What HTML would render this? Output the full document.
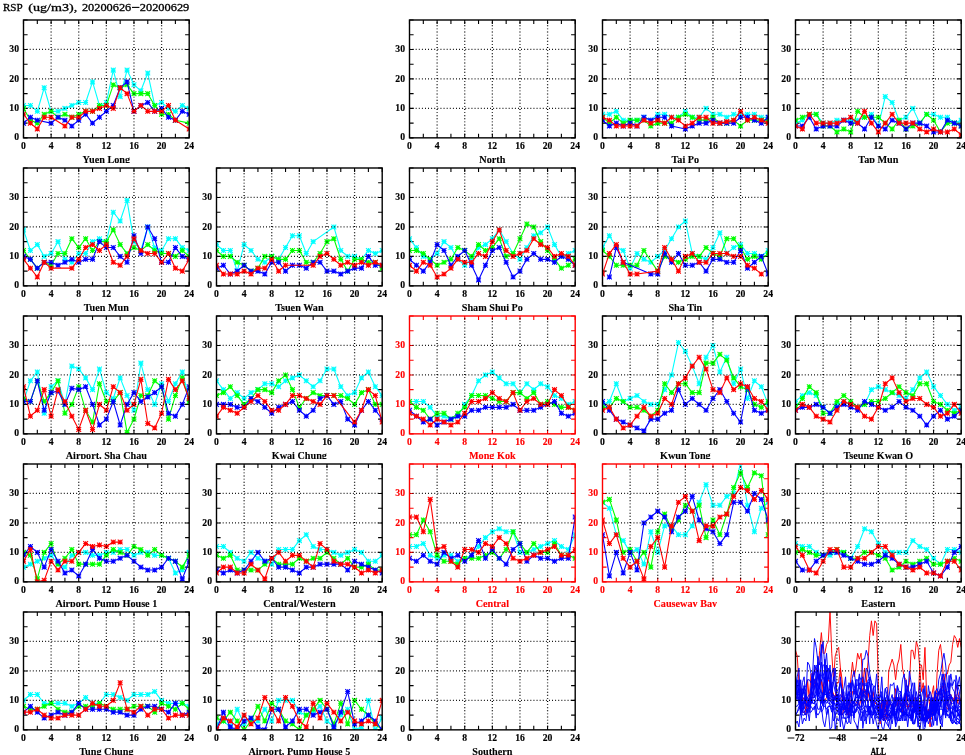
<!DOCTYPE html>
<html><head><meta charset="utf-8"><title>RSP</title>
<style>html,body{margin:0;padding:0;background:#fff;}svg{display:block;will-change:transform;font-family:"Liberation Serif",serif;}</style></head>
<body>
<svg width="965" height="755" viewBox="0 0 965 755">
<defs>
<g id="m"><path d="M-2.4,0H2.4M0,-2.4V2.4M-2.4,-2.4L2.4,2.4M-2.4,2.4L2.4,-2.4" fill="none" stroke-width="1.1"/></g>
</defs>
<rect width="965" height="755" fill="#fff"/>
<text x="2.9" y="10.7" font-size="11.2" textLength="19.7" lengthAdjust="spacingAndGlyphs" fill="#000" stroke="#000" stroke-width="0.3">RSP</text>
<text x="28.2" y="10.7" font-size="11.2" textLength="49.0" lengthAdjust="spacingAndGlyphs" fill="#000" stroke="#000" stroke-width="0.3">(ug/m3),</text>
<text x="81.9" y="10.7" font-size="11.2" textLength="49.4" lengthAdjust="spacingAndGlyphs" fill="#000" stroke="#000" stroke-width="0.3">20200626</text>
<text x="139.8" y="10.7" font-size="11.2" textLength="49.5" lengthAdjust="spacingAndGlyphs" fill="#000" stroke="#000" stroke-width="0.3">20200629</text>
<path d="M132,7.4H139.4" stroke="#000" stroke-width="1.1"/>
<g>
<clipPath id="c00"><rect x="23.5" y="20" width="165.7" height="117.85"/></clipPath>
<path d="M23.5,137.85v-4.1M23.5,20v4.1M37.31,137.85v-4.1M37.31,20v4.1M51.12,137.85v-4.1M51.12,20v4.1M64.92,137.85v-4.1M64.92,20v4.1M78.73,137.85v-4.1M78.73,20v4.1M92.54,137.85v-4.1M92.54,20v4.1M106.35,137.85v-4.1M106.35,20v4.1M120.16,137.85v-4.1M120.16,20v4.1M133.97,137.85v-4.1M133.97,20v4.1M147.77,137.85v-4.1M147.77,20v4.1M161.58,137.85v-4.1M161.58,20v4.1M175.39,137.85v-4.1M175.39,20v4.1M189.2,137.85v-4.1M189.2,20v4.1M23.5,137.85h4.1M189.2,137.85h-4.1M23.5,123.12h4.1M189.2,123.12h-4.1M23.5,108.39h4.1M189.2,108.39h-4.1M23.5,93.66h4.1M189.2,93.66h-4.1M23.5,78.92h4.1M189.2,78.92h-4.1M23.5,64.19h4.1M189.2,64.19h-4.1M23.5,49.46h4.1M189.2,49.46h-4.1M23.5,34.73h4.1M189.2,34.73h-4.1M23.5,20h4.1M189.2,20h-4.1" fill="none" stroke="#000" stroke-width="1.1"/>
<g clip-path="url(#c00)" fill="none" stroke-linejoin="round">
<g stroke="#00ffff"><path d="M23.5,105.44L30.4,105.44L37.31,111.33L44.21,87.76L51.12,111.33L58.02,111.33L64.92,108.39L71.83,105.44L78.73,102.5L85.64,102.5L92.54,81.87L99.45,105.44L106.35,102.5L113.25,70.09L120.16,96.6L127.06,70.09L133.97,84.82L140.87,90.71L147.77,73.03L154.68,105.44L161.58,102.5L168.49,108.39L175.39,111.33L182.3,105.44L189.2,108.39" stroke-width="1.1"/><use href="#m" x="23.5" y="105.44"/><use href="#m" x="30.4" y="105.44"/><use href="#m" x="37.31" y="111.33"/><use href="#m" x="44.21" y="87.76"/><use href="#m" x="51.12" y="111.33"/><use href="#m" x="58.02" y="111.33"/><use href="#m" x="64.92" y="108.39"/><use href="#m" x="71.83" y="105.44"/><use href="#m" x="78.73" y="102.5"/><use href="#m" x="85.64" y="102.5"/><use href="#m" x="92.54" y="81.87"/><use href="#m" x="99.45" y="105.44"/><use href="#m" x="106.35" y="102.5"/><use href="#m" x="113.25" y="70.09"/><use href="#m" x="120.16" y="96.6"/><use href="#m" x="127.06" y="70.09"/><use href="#m" x="133.97" y="84.82"/><use href="#m" x="140.87" y="90.71"/><use href="#m" x="147.77" y="73.03"/><use href="#m" x="154.68" y="105.44"/><use href="#m" x="161.58" y="102.5"/><use href="#m" x="168.49" y="108.39"/><use href="#m" x="175.39" y="111.33"/><use href="#m" x="182.3" y="105.44"/><use href="#m" x="189.2" y="108.39"/></g>
<g stroke="#00ff00"><path d="M23.5,108.39L30.4,120.17L37.31,123.12L44.21,114.28L51.12,111.33L58.02,117.23L64.92,114.28L71.83,117.23L78.73,114.28L85.64,111.33L92.54,111.33L99.45,105.44L106.35,105.44L113.25,84.82L120.16,87.76L127.06,84.82L133.97,93.66L140.87,93.66L147.77,93.66L154.68,105.44L161.58,114.28L168.49,114.28L175.39,120.17L189.2,123.12" stroke-width="1.1"/><use href="#m" x="23.5" y="108.39"/><use href="#m" x="30.4" y="120.17"/><use href="#m" x="37.31" y="123.12"/><use href="#m" x="44.21" y="114.28"/><use href="#m" x="51.12" y="111.33"/><use href="#m" x="58.02" y="117.23"/><use href="#m" x="64.92" y="114.28"/><use href="#m" x="71.83" y="117.23"/><use href="#m" x="78.73" y="114.28"/><use href="#m" x="85.64" y="111.33"/><use href="#m" x="92.54" y="111.33"/><use href="#m" x="99.45" y="105.44"/><use href="#m" x="106.35" y="105.44"/><use href="#m" x="113.25" y="84.82"/><use href="#m" x="120.16" y="87.76"/><use href="#m" x="127.06" y="84.82"/><use href="#m" x="133.97" y="93.66"/><use href="#m" x="140.87" y="93.66"/><use href="#m" x="147.77" y="93.66"/><use href="#m" x="154.68" y="105.44"/><use href="#m" x="161.58" y="114.28"/><use href="#m" x="168.49" y="114.28"/><use href="#m" x="175.39" y="120.17"/><use href="#m" x="189.2" y="123.12"/></g>
<g stroke="#0000ff"><path d="M23.5,123.12L30.4,117.23L37.31,120.17L51.12,123.12L58.02,117.23L64.92,120.17L71.83,126.06L78.73,120.17L85.64,114.28L92.54,123.12L99.45,117.23L106.35,111.33L113.25,105.44L120.16,87.76L127.06,81.87L133.97,111.33L140.87,105.44L147.77,102.5L154.68,111.33L161.58,108.39L168.49,117.23L175.39,120.17L182.3,111.33L189.2,114.28" stroke-width="1.1"/><use href="#m" x="23.5" y="123.12"/><use href="#m" x="30.4" y="117.23"/><use href="#m" x="37.31" y="120.17"/><use href="#m" x="51.12" y="123.12"/><use href="#m" x="58.02" y="117.23"/><use href="#m" x="64.92" y="120.17"/><use href="#m" x="71.83" y="126.06"/><use href="#m" x="78.73" y="120.17"/><use href="#m" x="85.64" y="114.28"/><use href="#m" x="92.54" y="123.12"/><use href="#m" x="99.45" y="117.23"/><use href="#m" x="106.35" y="111.33"/><use href="#m" x="113.25" y="105.44"/><use href="#m" x="120.16" y="87.76"/><use href="#m" x="127.06" y="81.87"/><use href="#m" x="133.97" y="111.33"/><use href="#m" x="140.87" y="105.44"/><use href="#m" x="147.77" y="102.5"/><use href="#m" x="154.68" y="111.33"/><use href="#m" x="161.58" y="108.39"/><use href="#m" x="168.49" y="117.23"/><use href="#m" x="175.39" y="120.17"/><use href="#m" x="182.3" y="111.33"/><use href="#m" x="189.2" y="114.28"/></g>
<g stroke="#ff0000"><path d="M23.5,114.28L30.4,123.12L37.31,129.01L44.21,117.23L51.12,117.23L64.92,126.06L71.83,117.23L78.73,117.23L85.64,111.33L92.54,111.33L99.45,108.39L106.35,105.44L113.25,108.39L120.16,87.76L127.06,93.66L133.97,111.33L140.87,105.44L147.77,111.33L154.68,111.33L161.58,111.33L168.49,105.44L175.39,120.17L189.2,129.01" stroke-width="1.1"/><use href="#m" x="23.5" y="114.28"/><use href="#m" x="30.4" y="123.12"/><use href="#m" x="37.31" y="129.01"/><use href="#m" x="44.21" y="117.23"/><use href="#m" x="51.12" y="117.23"/><use href="#m" x="64.92" y="126.06"/><use href="#m" x="71.83" y="117.23"/><use href="#m" x="78.73" y="117.23"/><use href="#m" x="85.64" y="111.33"/><use href="#m" x="92.54" y="111.33"/><use href="#m" x="99.45" y="108.39"/><use href="#m" x="106.35" y="105.44"/><use href="#m" x="113.25" y="108.39"/><use href="#m" x="120.16" y="87.76"/><use href="#m" x="127.06" y="93.66"/><use href="#m" x="133.97" y="111.33"/><use href="#m" x="140.87" y="105.44"/><use href="#m" x="147.77" y="111.33"/><use href="#m" x="154.68" y="111.33"/><use href="#m" x="161.58" y="111.33"/><use href="#m" x="168.49" y="105.44"/><use href="#m" x="175.39" y="120.17"/><use href="#m" x="189.2" y="129.01"/></g>
</g>
<path d="M51.12,137.85V20M78.73,137.85V20M106.35,137.85V20M133.97,137.85V20M161.58,137.85V20M23.5,108.39H189.2M23.5,78.92H189.2M23.5,49.46H189.2" fill="none" stroke="#000" stroke-width="1.3" stroke-dasharray="0.9 2.2"/>
<rect x="23.5" y="20" width="165.7" height="117.85" fill="none" stroke="#000" stroke-width="1.4"/>
<g fill="#000" font-size="9.7" font-weight="bold" stroke="#000" stroke-width="0.15">
<g text-anchor="middle"><text x="23.5" y="148.9">0</text><text x="51.12" y="148.9">4</text><text x="78.73" y="148.9">8</text><text x="106.35" y="148.9">12</text><text x="133.97" y="148.9">16</text><text x="161.58" y="148.9">20</text><text x="189.2" y="148.9">24</text></g>
<g text-anchor="end"><text x="19" y="140.45">0</text><text x="19" y="110.99">10</text><text x="19" y="81.52">20</text><text x="19" y="52.06">30</text></g>
<clipPath id="t00"><rect x="-6.5" y="149.85" width="225.7" height="13.15"/></clipPath><text x="106.35" y="163.05" font-size="10.2" text-anchor="middle" stroke-width="0.1" clip-path="url(#t00)">Yuen Long</text>
</g>
</g>
<g>
<clipPath id="c02"><rect x="409.5" y="20" width="165.7" height="117.85"/></clipPath>
<path d="M409.5,137.85v-4.1M409.5,20v4.1M423.31,137.85v-4.1M423.31,20v4.1M437.12,137.85v-4.1M437.12,20v4.1M450.93,137.85v-4.1M450.93,20v4.1M464.73,137.85v-4.1M464.73,20v4.1M478.54,137.85v-4.1M478.54,20v4.1M492.35,137.85v-4.1M492.35,20v4.1M506.16,137.85v-4.1M506.16,20v4.1M519.97,137.85v-4.1M519.97,20v4.1M533.77,137.85v-4.1M533.77,20v4.1M547.58,137.85v-4.1M547.58,20v4.1M561.39,137.85v-4.1M561.39,20v4.1M575.2,137.85v-4.1M575.2,20v4.1M409.5,137.85h4.1M575.2,137.85h-4.1M409.5,123.12h4.1M575.2,123.12h-4.1M409.5,108.39h4.1M575.2,108.39h-4.1M409.5,93.66h4.1M575.2,93.66h-4.1M409.5,78.92h4.1M575.2,78.92h-4.1M409.5,64.19h4.1M575.2,64.19h-4.1M409.5,49.46h4.1M575.2,49.46h-4.1M409.5,34.73h4.1M575.2,34.73h-4.1M409.5,20h4.1M575.2,20h-4.1" fill="none" stroke="#000" stroke-width="1.1"/>
<path d="M437.12,137.85V20M464.73,137.85V20M492.35,137.85V20M519.97,137.85V20M547.58,137.85V20M409.5,108.39H575.2M409.5,78.92H575.2M409.5,49.46H575.2" fill="none" stroke="#000" stroke-width="1.3" stroke-dasharray="0.9 2.2"/>
<rect x="409.5" y="20" width="165.7" height="117.85" fill="none" stroke="#000" stroke-width="1.4"/>
<g fill="#000" font-size="9.7" font-weight="bold" stroke="#000" stroke-width="0.15">
<g text-anchor="middle"><text x="409.5" y="148.9">0</text><text x="437.12" y="148.9">4</text><text x="464.73" y="148.9">8</text><text x="492.35" y="148.9">12</text><text x="519.97" y="148.9">16</text><text x="547.58" y="148.9">20</text><text x="575.2" y="148.9">24</text></g>
<g text-anchor="end"><text x="405" y="140.45">0</text><text x="405" y="110.99">10</text><text x="405" y="81.52">20</text><text x="405" y="52.06">30</text></g>
<clipPath id="t02"><rect x="379.5" y="149.85" width="225.7" height="13.15"/></clipPath><text x="492.35" y="163.05" font-size="10.2" text-anchor="middle" stroke-width="0.1" clip-path="url(#t02)">North</text>
</g>
</g>
<g>
<clipPath id="c03"><rect x="602.5" y="20" width="165.7" height="117.85"/></clipPath>
<path d="M602.5,137.85v-4.1M602.5,20v4.1M616.31,137.85v-4.1M616.31,20v4.1M630.12,137.85v-4.1M630.12,20v4.1M643.92,137.85v-4.1M643.92,20v4.1M657.73,137.85v-4.1M657.73,20v4.1M671.54,137.85v-4.1M671.54,20v4.1M685.35,137.85v-4.1M685.35,20v4.1M699.16,137.85v-4.1M699.16,20v4.1M712.97,137.85v-4.1M712.97,20v4.1M726.77,137.85v-4.1M726.77,20v4.1M740.58,137.85v-4.1M740.58,20v4.1M754.39,137.85v-4.1M754.39,20v4.1M768.2,137.85v-4.1M768.2,20v4.1M602.5,137.85h4.1M768.2,137.85h-4.1M602.5,123.12h4.1M768.2,123.12h-4.1M602.5,108.39h4.1M768.2,108.39h-4.1M602.5,93.66h4.1M768.2,93.66h-4.1M602.5,78.92h4.1M768.2,78.92h-4.1M602.5,64.19h4.1M768.2,64.19h-4.1M602.5,49.46h4.1M768.2,49.46h-4.1M602.5,34.73h4.1M768.2,34.73h-4.1M602.5,20h4.1M768.2,20h-4.1" fill="none" stroke="#000" stroke-width="1.1"/>
<g clip-path="url(#c03)" fill="none" stroke-linejoin="round">
<g stroke="#00ffff"><path d="M602.5,114.28L609.4,114.28L616.31,111.33L623.21,120.17L630.12,120.17L637.02,120.17L643.92,117.23L650.83,120.17L657.73,114.28L664.64,114.28L671.54,117.23L678.45,117.23L685.35,111.33L692.25,117.23L699.16,117.23L706.06,108.39L712.97,114.28L719.87,114.28L726.77,117.23L733.68,114.28L740.58,114.28L747.49,114.28L754.39,114.28L761.3,117.23L768.2,117.23" stroke-width="1.1"/><use href="#m" x="602.5" y="114.28"/><use href="#m" x="609.4" y="114.28"/><use href="#m" x="616.31" y="111.33"/><use href="#m" x="623.21" y="120.17"/><use href="#m" x="630.12" y="120.17"/><use href="#m" x="637.02" y="120.17"/><use href="#m" x="643.92" y="117.23"/><use href="#m" x="650.83" y="120.17"/><use href="#m" x="657.73" y="114.28"/><use href="#m" x="664.64" y="114.28"/><use href="#m" x="671.54" y="117.23"/><use href="#m" x="678.45" y="117.23"/><use href="#m" x="685.35" y="111.33"/><use href="#m" x="692.25" y="117.23"/><use href="#m" x="699.16" y="117.23"/><use href="#m" x="706.06" y="108.39"/><use href="#m" x="712.97" y="114.28"/><use href="#m" x="719.87" y="114.28"/><use href="#m" x="726.77" y="117.23"/><use href="#m" x="733.68" y="114.28"/><use href="#m" x="740.58" y="114.28"/><use href="#m" x="747.49" y="114.28"/><use href="#m" x="754.39" y="114.28"/><use href="#m" x="761.3" y="117.23"/><use href="#m" x="768.2" y="117.23"/></g>
<g stroke="#00ff00"><path d="M602.5,117.23L609.4,123.12L616.31,117.23L623.21,123.12L630.12,120.17L637.02,120.17L643.92,120.17L650.83,126.06L657.73,123.12L664.64,123.12L671.54,123.12L678.45,117.23L685.35,114.28L692.25,117.23L699.16,120.17L706.06,120.17L712.97,117.23L719.87,123.12L726.77,123.12L733.68,120.17L740.58,126.06L747.49,120.17L754.39,120.17L761.3,120.17L768.2,120.17" stroke-width="1.1"/><use href="#m" x="602.5" y="117.23"/><use href="#m" x="609.4" y="123.12"/><use href="#m" x="616.31" y="117.23"/><use href="#m" x="623.21" y="123.12"/><use href="#m" x="630.12" y="120.17"/><use href="#m" x="637.02" y="120.17"/><use href="#m" x="643.92" y="120.17"/><use href="#m" x="650.83" y="126.06"/><use href="#m" x="657.73" y="123.12"/><use href="#m" x="664.64" y="123.12"/><use href="#m" x="671.54" y="123.12"/><use href="#m" x="678.45" y="117.23"/><use href="#m" x="685.35" y="114.28"/><use href="#m" x="692.25" y="117.23"/><use href="#m" x="699.16" y="120.17"/><use href="#m" x="706.06" y="120.17"/><use href="#m" x="712.97" y="117.23"/><use href="#m" x="719.87" y="123.12"/><use href="#m" x="726.77" y="123.12"/><use href="#m" x="733.68" y="120.17"/><use href="#m" x="740.58" y="126.06"/><use href="#m" x="747.49" y="120.17"/><use href="#m" x="754.39" y="120.17"/><use href="#m" x="761.3" y="120.17"/><use href="#m" x="768.2" y="120.17"/></g>
<g stroke="#0000ff"><path d="M602.5,120.17L609.4,126.06L616.31,123.12L623.21,126.06L630.12,123.12L637.02,126.06L643.92,117.23L650.83,120.17L657.73,117.23L664.64,117.23L671.54,126.06L685.35,129.01L692.25,126.06L699.16,123.12L706.06,123.12L712.97,120.17L719.87,123.12L726.77,123.12L733.68,123.12L740.58,117.23L747.49,117.23L754.39,120.17L761.3,123.12L768.2,117.23" stroke-width="1.1"/><use href="#m" x="602.5" y="120.17"/><use href="#m" x="609.4" y="126.06"/><use href="#m" x="616.31" y="123.12"/><use href="#m" x="623.21" y="126.06"/><use href="#m" x="630.12" y="123.12"/><use href="#m" x="637.02" y="126.06"/><use href="#m" x="643.92" y="117.23"/><use href="#m" x="650.83" y="120.17"/><use href="#m" x="657.73" y="117.23"/><use href="#m" x="664.64" y="117.23"/><use href="#m" x="671.54" y="126.06"/><use href="#m" x="685.35" y="129.01"/><use href="#m" x="692.25" y="126.06"/><use href="#m" x="699.16" y="123.12"/><use href="#m" x="706.06" y="123.12"/><use href="#m" x="712.97" y="120.17"/><use href="#m" x="719.87" y="123.12"/><use href="#m" x="726.77" y="123.12"/><use href="#m" x="733.68" y="123.12"/><use href="#m" x="740.58" y="117.23"/><use href="#m" x="747.49" y="117.23"/><use href="#m" x="754.39" y="120.17"/><use href="#m" x="761.3" y="123.12"/><use href="#m" x="768.2" y="117.23"/></g>
<g stroke="#ff0000"><path d="M602.5,117.23L609.4,120.17L616.31,126.06L623.21,126.06L630.12,126.06L637.02,126.06L643.92,120.17L650.83,123.12L657.73,120.17L664.64,123.12L671.54,117.23L678.45,120.17L685.35,126.06L692.25,123.12L699.16,117.23L706.06,117.23L712.97,123.12L719.87,123.12L726.77,121.65L733.68,120.17L740.58,111.33L747.49,120.17L754.39,117.23L761.3,120.17L768.2,123.12" stroke-width="1.1"/><use href="#m" x="602.5" y="117.23"/><use href="#m" x="609.4" y="120.17"/><use href="#m" x="616.31" y="126.06"/><use href="#m" x="623.21" y="126.06"/><use href="#m" x="630.12" y="126.06"/><use href="#m" x="637.02" y="126.06"/><use href="#m" x="643.92" y="120.17"/><use href="#m" x="650.83" y="123.12"/><use href="#m" x="657.73" y="120.17"/><use href="#m" x="664.64" y="123.12"/><use href="#m" x="671.54" y="117.23"/><use href="#m" x="678.45" y="120.17"/><use href="#m" x="685.35" y="126.06"/><use href="#m" x="692.25" y="123.12"/><use href="#m" x="699.16" y="117.23"/><use href="#m" x="706.06" y="117.23"/><use href="#m" x="712.97" y="123.12"/><use href="#m" x="719.87" y="123.12"/><use href="#m" x="726.77" y="121.65"/><use href="#m" x="733.68" y="120.17"/><use href="#m" x="740.58" y="111.33"/><use href="#m" x="747.49" y="120.17"/><use href="#m" x="754.39" y="117.23"/><use href="#m" x="761.3" y="120.17"/><use href="#m" x="768.2" y="123.12"/></g>
</g>
<path d="M630.12,137.85V20M657.73,137.85V20M685.35,137.85V20M712.97,137.85V20M740.58,137.85V20M602.5,108.39H768.2M602.5,78.92H768.2M602.5,49.46H768.2" fill="none" stroke="#000" stroke-width="1.3" stroke-dasharray="0.9 2.2"/>
<rect x="602.5" y="20" width="165.7" height="117.85" fill="none" stroke="#000" stroke-width="1.4"/>
<g fill="#000" font-size="9.7" font-weight="bold" stroke="#000" stroke-width="0.15">
<g text-anchor="middle"><text x="602.5" y="148.9">0</text><text x="630.12" y="148.9">4</text><text x="657.73" y="148.9">8</text><text x="685.35" y="148.9">12</text><text x="712.97" y="148.9">16</text><text x="740.58" y="148.9">20</text><text x="768.2" y="148.9">24</text></g>
<g text-anchor="end"><text x="598" y="140.45">0</text><text x="598" y="110.99">10</text><text x="598" y="81.52">20</text><text x="598" y="52.06">30</text></g>
<clipPath id="t03"><rect x="572.5" y="149.85" width="225.7" height="13.15"/></clipPath><text x="685.35" y="163.05" font-size="10.2" text-anchor="middle" stroke-width="0.1" clip-path="url(#t03)">Tai Po</text>
</g>
</g>
<g>
<clipPath id="c04"><rect x="795.5" y="20" width="165.7" height="117.85"/></clipPath>
<path d="M795.5,137.85v-4.1M795.5,20v4.1M809.31,137.85v-4.1M809.31,20v4.1M823.12,137.85v-4.1M823.12,20v4.1M836.92,137.85v-4.1M836.92,20v4.1M850.73,137.85v-4.1M850.73,20v4.1M864.54,137.85v-4.1M864.54,20v4.1M878.35,137.85v-4.1M878.35,20v4.1M892.16,137.85v-4.1M892.16,20v4.1M905.97,137.85v-4.1M905.97,20v4.1M919.77,137.85v-4.1M919.77,20v4.1M933.58,137.85v-4.1M933.58,20v4.1M947.39,137.85v-4.1M947.39,20v4.1M961.2,137.85v-4.1M961.2,20v4.1M795.5,137.85h4.1M961.2,137.85h-4.1M795.5,123.12h4.1M961.2,123.12h-4.1M795.5,108.39h4.1M961.2,108.39h-4.1M795.5,93.66h4.1M961.2,93.66h-4.1M795.5,78.92h4.1M961.2,78.92h-4.1M795.5,64.19h4.1M961.2,64.19h-4.1M795.5,49.46h4.1M961.2,49.46h-4.1M795.5,34.73h4.1M961.2,34.73h-4.1M795.5,20h4.1M961.2,20h-4.1" fill="none" stroke="#000" stroke-width="1.1"/>
<g clip-path="url(#c04)" fill="none" stroke-linejoin="round">
<g stroke="#00ffff"><path d="M795.5,123.12L802.4,120.17L809.31,114.28L816.21,114.28L823.12,123.12L830.02,123.12L836.92,120.17L843.83,120.17L850.73,120.17L857.64,120.17L864.54,117.23L871.45,114.28L878.35,126.06L885.25,96.6L892.16,102.5L899.06,120.17L905.97,117.23L912.87,108.39L919.77,123.12L926.68,114.28L933.58,114.28L940.49,117.23L947.39,117.23L954.3,123.12L961.2,120.17" stroke-width="1.1"/><use href="#m" x="795.5" y="123.12"/><use href="#m" x="802.4" y="120.17"/><use href="#m" x="809.31" y="114.28"/><use href="#m" x="816.21" y="114.28"/><use href="#m" x="823.12" y="123.12"/><use href="#m" x="830.02" y="123.12"/><use href="#m" x="836.92" y="120.17"/><use href="#m" x="843.83" y="120.17"/><use href="#m" x="850.73" y="120.17"/><use href="#m" x="857.64" y="120.17"/><use href="#m" x="864.54" y="117.23"/><use href="#m" x="871.45" y="114.28"/><use href="#m" x="878.35" y="126.06"/><use href="#m" x="885.25" y="96.6"/><use href="#m" x="892.16" y="102.5"/><use href="#m" x="899.06" y="120.17"/><use href="#m" x="905.97" y="117.23"/><use href="#m" x="912.87" y="108.39"/><use href="#m" x="919.77" y="123.12"/><use href="#m" x="926.68" y="114.28"/><use href="#m" x="933.58" y="114.28"/><use href="#m" x="940.49" y="117.23"/><use href="#m" x="947.39" y="117.23"/><use href="#m" x="954.3" y="123.12"/><use href="#m" x="961.2" y="120.17"/></g>
<g stroke="#00ff00"><path d="M795.5,120.17L802.4,117.23L809.31,114.28L816.21,114.28L823.12,126.06L830.02,126.06L836.92,131.96L843.83,129.01L850.73,131.96L857.64,111.33L864.54,117.23L871.45,117.23L878.35,117.23L885.25,123.12L892.16,129.01L899.06,120.17L905.97,129.01L912.87,126.06L919.77,123.12L926.68,114.28L933.58,120.17L940.49,131.96L947.39,123.12L954.3,123.12L961.2,126.06" stroke-width="1.1"/><use href="#m" x="795.5" y="120.17"/><use href="#m" x="802.4" y="117.23"/><use href="#m" x="809.31" y="114.28"/><use href="#m" x="816.21" y="114.28"/><use href="#m" x="823.12" y="126.06"/><use href="#m" x="830.02" y="126.06"/><use href="#m" x="836.92" y="131.96"/><use href="#m" x="843.83" y="129.01"/><use href="#m" x="850.73" y="131.96"/><use href="#m" x="857.64" y="111.33"/><use href="#m" x="864.54" y="117.23"/><use href="#m" x="871.45" y="117.23"/><use href="#m" x="878.35" y="117.23"/><use href="#m" x="885.25" y="123.12"/><use href="#m" x="892.16" y="129.01"/><use href="#m" x="899.06" y="120.17"/><use href="#m" x="905.97" y="129.01"/><use href="#m" x="912.87" y="126.06"/><use href="#m" x="919.77" y="123.12"/><use href="#m" x="926.68" y="114.28"/><use href="#m" x="933.58" y="120.17"/><use href="#m" x="940.49" y="131.96"/><use href="#m" x="947.39" y="123.12"/><use href="#m" x="954.3" y="123.12"/><use href="#m" x="961.2" y="126.06"/></g>
<g stroke="#0000ff"><path d="M795.5,126.06L802.4,126.06L809.31,117.23L816.21,129.01L823.12,126.06L830.02,126.06L836.92,126.06L843.83,120.17L850.73,123.12L857.64,123.12L864.54,129.01L871.45,117.23L878.35,126.06L885.25,129.01L892.16,120.17L899.06,123.12L905.97,129.01L912.87,123.12L919.77,123.12L926.68,126.06L933.58,131.96L940.49,131.96L947.39,120.17L954.3,123.12L961.2,126.06" stroke-width="1.1"/><use href="#m" x="795.5" y="126.06"/><use href="#m" x="802.4" y="126.06"/><use href="#m" x="809.31" y="117.23"/><use href="#m" x="816.21" y="129.01"/><use href="#m" x="823.12" y="126.06"/><use href="#m" x="830.02" y="126.06"/><use href="#m" x="836.92" y="126.06"/><use href="#m" x="843.83" y="120.17"/><use href="#m" x="850.73" y="123.12"/><use href="#m" x="857.64" y="123.12"/><use href="#m" x="864.54" y="129.01"/><use href="#m" x="871.45" y="117.23"/><use href="#m" x="878.35" y="126.06"/><use href="#m" x="885.25" y="129.01"/><use href="#m" x="892.16" y="120.17"/><use href="#m" x="899.06" y="123.12"/><use href="#m" x="905.97" y="129.01"/><use href="#m" x="912.87" y="123.12"/><use href="#m" x="919.77" y="123.12"/><use href="#m" x="926.68" y="126.06"/><use href="#m" x="933.58" y="131.96"/><use href="#m" x="940.49" y="131.96"/><use href="#m" x="947.39" y="120.17"/><use href="#m" x="954.3" y="123.12"/><use href="#m" x="961.2" y="126.06"/></g>
<g stroke="#ff0000"><path d="M795.5,126.06L802.4,129.01L809.31,114.28L816.21,123.12L823.12,123.12L830.02,123.12L836.92,123.12L843.83,120.17L850.73,117.23L857.64,123.12L864.54,111.33L871.45,123.12L878.35,131.96L885.25,123.12L892.16,114.28L899.06,123.12L905.97,123.12L912.87,123.12L919.77,129.01L926.68,131.96L933.58,129.01L940.49,131.96L947.39,131.96L954.3,129.01L961.2,134.9" stroke-width="1.1"/><use href="#m" x="795.5" y="126.06"/><use href="#m" x="802.4" y="129.01"/><use href="#m" x="809.31" y="114.28"/><use href="#m" x="816.21" y="123.12"/><use href="#m" x="823.12" y="123.12"/><use href="#m" x="830.02" y="123.12"/><use href="#m" x="836.92" y="123.12"/><use href="#m" x="843.83" y="120.17"/><use href="#m" x="850.73" y="117.23"/><use href="#m" x="857.64" y="123.12"/><use href="#m" x="864.54" y="111.33"/><use href="#m" x="871.45" y="123.12"/><use href="#m" x="878.35" y="131.96"/><use href="#m" x="885.25" y="123.12"/><use href="#m" x="892.16" y="114.28"/><use href="#m" x="899.06" y="123.12"/><use href="#m" x="905.97" y="123.12"/><use href="#m" x="912.87" y="123.12"/><use href="#m" x="919.77" y="129.01"/><use href="#m" x="926.68" y="131.96"/><use href="#m" x="933.58" y="129.01"/><use href="#m" x="940.49" y="131.96"/><use href="#m" x="947.39" y="131.96"/><use href="#m" x="954.3" y="129.01"/><use href="#m" x="961.2" y="134.9"/></g>
</g>
<path d="M823.12,137.85V20M850.73,137.85V20M878.35,137.85V20M905.97,137.85V20M933.58,137.85V20M795.5,108.39H961.2M795.5,78.92H961.2M795.5,49.46H961.2" fill="none" stroke="#000" stroke-width="1.3" stroke-dasharray="0.9 2.2"/>
<rect x="795.5" y="20" width="165.7" height="117.85" fill="none" stroke="#000" stroke-width="1.4"/>
<g fill="#000" font-size="9.7" font-weight="bold" stroke="#000" stroke-width="0.15">
<g text-anchor="middle"><text x="795.5" y="148.9">0</text><text x="823.12" y="148.9">4</text><text x="850.73" y="148.9">8</text><text x="878.35" y="148.9">12</text><text x="905.97" y="148.9">16</text><text x="933.58" y="148.9">20</text><text x="961.2" y="148.9">24</text></g>
<g text-anchor="end"><text x="791" y="140.45">0</text><text x="791" y="110.99">10</text><text x="791" y="81.52">20</text><text x="791" y="52.06">30</text></g>
<clipPath id="t04"><rect x="765.5" y="149.85" width="225.7" height="13.15"/></clipPath><text x="878.35" y="163.05" font-size="10.2" text-anchor="middle" stroke-width="0.1" clip-path="url(#t04)">Tap Mun</text>
</g>
</g>
<g>
<clipPath id="c10"><rect x="23.5" y="168" width="165.7" height="117.85"/></clipPath>
<path d="M23.5,285.85v-4.1M23.5,168v4.1M37.31,285.85v-4.1M37.31,168v4.1M51.12,285.85v-4.1M51.12,168v4.1M64.92,285.85v-4.1M64.92,168v4.1M78.73,285.85v-4.1M78.73,168v4.1M92.54,285.85v-4.1M92.54,168v4.1M106.35,285.85v-4.1M106.35,168v4.1M120.16,285.85v-4.1M120.16,168v4.1M133.97,285.85v-4.1M133.97,168v4.1M147.77,285.85v-4.1M147.77,168v4.1M161.58,285.85v-4.1M161.58,168v4.1M175.39,285.85v-4.1M175.39,168v4.1M189.2,285.85v-4.1M189.2,168v4.1M23.5,285.85h4.1M189.2,285.85h-4.1M23.5,271.12h4.1M189.2,271.12h-4.1M23.5,256.39h4.1M189.2,256.39h-4.1M23.5,241.66h4.1M189.2,241.66h-4.1M23.5,226.93h4.1M189.2,226.93h-4.1M23.5,212.19h4.1M189.2,212.19h-4.1M23.5,197.46h4.1M189.2,197.46h-4.1M23.5,182.73h4.1M189.2,182.73h-4.1M23.5,168h4.1M189.2,168h-4.1" fill="none" stroke="#000" stroke-width="1.1"/>
<g clip-path="url(#c10)" fill="none" stroke-linejoin="round">
<g stroke="#00ffff"><path d="M23.5,229.87L30.4,250.5L37.31,244.6L44.21,256.39L51.12,253.44L58.02,241.66L64.92,259.33L71.83,262.28L78.73,253.44L85.64,253.44L92.54,241.66L99.45,238.71L106.35,241.66L113.25,212.19L120.16,221.03L127.06,200.41L133.97,241.66L140.87,250.5L147.77,226.93L154.68,247.55L161.58,250.5L168.49,238.71L175.39,238.71L182.3,247.55L189.2,250.5" stroke-width="1.1"/><use href="#m" x="23.5" y="229.87"/><use href="#m" x="30.4" y="250.5"/><use href="#m" x="37.31" y="244.6"/><use href="#m" x="44.21" y="256.39"/><use href="#m" x="51.12" y="253.44"/><use href="#m" x="58.02" y="241.66"/><use href="#m" x="64.92" y="259.33"/><use href="#m" x="71.83" y="262.28"/><use href="#m" x="78.73" y="253.44"/><use href="#m" x="85.64" y="253.44"/><use href="#m" x="92.54" y="241.66"/><use href="#m" x="99.45" y="238.71"/><use href="#m" x="106.35" y="241.66"/><use href="#m" x="113.25" y="212.19"/><use href="#m" x="120.16" y="221.03"/><use href="#m" x="127.06" y="200.41"/><use href="#m" x="133.97" y="241.66"/><use href="#m" x="140.87" y="250.5"/><use href="#m" x="147.77" y="226.93"/><use href="#m" x="154.68" y="247.55"/><use href="#m" x="161.58" y="250.5"/><use href="#m" x="168.49" y="238.71"/><use href="#m" x="175.39" y="238.71"/><use href="#m" x="182.3" y="247.55"/><use href="#m" x="189.2" y="250.5"/></g>
<g stroke="#00ff00"><path d="M23.5,250.5L30.4,259.33L37.31,268.17L44.21,262.28L51.12,265.23L58.02,253.44L64.92,253.44L71.83,238.71L78.73,247.55L85.64,238.71L92.54,250.5L99.45,241.66L106.35,241.66L113.25,229.87L120.16,244.6L127.06,253.44L133.97,247.55L140.87,250.5L147.77,244.6L154.68,250.5L161.58,253.44L168.49,253.44L175.39,256.39L182.3,250.5L189.2,256.39" stroke-width="1.1"/><use href="#m" x="23.5" y="250.5"/><use href="#m" x="30.4" y="259.33"/><use href="#m" x="37.31" y="268.17"/><use href="#m" x="44.21" y="262.28"/><use href="#m" x="51.12" y="265.23"/><use href="#m" x="58.02" y="253.44"/><use href="#m" x="64.92" y="253.44"/><use href="#m" x="71.83" y="238.71"/><use href="#m" x="78.73" y="247.55"/><use href="#m" x="85.64" y="238.71"/><use href="#m" x="92.54" y="250.5"/><use href="#m" x="99.45" y="241.66"/><use href="#m" x="106.35" y="241.66"/><use href="#m" x="113.25" y="229.87"/><use href="#m" x="120.16" y="244.6"/><use href="#m" x="127.06" y="253.44"/><use href="#m" x="133.97" y="247.55"/><use href="#m" x="140.87" y="250.5"/><use href="#m" x="147.77" y="244.6"/><use href="#m" x="154.68" y="250.5"/><use href="#m" x="161.58" y="253.44"/><use href="#m" x="168.49" y="253.44"/><use href="#m" x="175.39" y="256.39"/><use href="#m" x="182.3" y="250.5"/><use href="#m" x="189.2" y="256.39"/></g>
<g stroke="#0000ff"><path d="M23.5,256.39L30.4,259.33L37.31,268.17L44.21,262.28L51.12,262.28L58.02,265.23L64.92,262.28L71.83,259.33L78.73,262.28L85.64,259.33L92.54,259.33L99.45,241.66L106.35,247.55L113.25,247.55L120.16,256.39L127.06,262.28L133.97,235.76L140.87,253.44L147.77,226.93L154.68,238.71L161.58,262.28L168.49,262.28L175.39,247.55L182.3,256.39L189.2,259.33" stroke-width="1.1"/><use href="#m" x="23.5" y="256.39"/><use href="#m" x="30.4" y="259.33"/><use href="#m" x="37.31" y="268.17"/><use href="#m" x="44.21" y="262.28"/><use href="#m" x="51.12" y="262.28"/><use href="#m" x="58.02" y="265.23"/><use href="#m" x="64.92" y="262.28"/><use href="#m" x="71.83" y="259.33"/><use href="#m" x="78.73" y="262.28"/><use href="#m" x="85.64" y="259.33"/><use href="#m" x="92.54" y="259.33"/><use href="#m" x="99.45" y="241.66"/><use href="#m" x="106.35" y="247.55"/><use href="#m" x="113.25" y="247.55"/><use href="#m" x="120.16" y="256.39"/><use href="#m" x="127.06" y="262.28"/><use href="#m" x="133.97" y="235.76"/><use href="#m" x="140.87" y="253.44"/><use href="#m" x="147.77" y="226.93"/><use href="#m" x="154.68" y="238.71"/><use href="#m" x="161.58" y="262.28"/><use href="#m" x="168.49" y="262.28"/><use href="#m" x="175.39" y="247.55"/><use href="#m" x="182.3" y="256.39"/><use href="#m" x="189.2" y="259.33"/></g>
<g stroke="#ff0000"><path d="M23.5,259.33L30.4,268.17L37.31,277.01L44.21,262.28L51.12,268.17L71.83,268.17L78.73,259.33L85.64,247.55L92.54,244.6L99.45,250.5L106.35,244.6L113.25,262.28L120.16,265.23L127.06,256.39L133.97,238.71L140.87,250.5L147.77,253.44L154.68,253.44L161.58,262.28L168.49,253.44L175.39,268.17L182.3,271.12L189.2,259.33" stroke-width="1.1"/><use href="#m" x="23.5" y="259.33"/><use href="#m" x="30.4" y="268.17"/><use href="#m" x="37.31" y="277.01"/><use href="#m" x="44.21" y="262.28"/><use href="#m" x="51.12" y="268.17"/><use href="#m" x="71.83" y="268.17"/><use href="#m" x="78.73" y="259.33"/><use href="#m" x="85.64" y="247.55"/><use href="#m" x="92.54" y="244.6"/><use href="#m" x="99.45" y="250.5"/><use href="#m" x="106.35" y="244.6"/><use href="#m" x="113.25" y="262.28"/><use href="#m" x="120.16" y="265.23"/><use href="#m" x="127.06" y="256.39"/><use href="#m" x="133.97" y="238.71"/><use href="#m" x="140.87" y="250.5"/><use href="#m" x="147.77" y="253.44"/><use href="#m" x="154.68" y="253.44"/><use href="#m" x="161.58" y="262.28"/><use href="#m" x="168.49" y="253.44"/><use href="#m" x="175.39" y="268.17"/><use href="#m" x="182.3" y="271.12"/><use href="#m" x="189.2" y="259.33"/></g>
</g>
<path d="M51.12,285.85V168M78.73,285.85V168M106.35,285.85V168M133.97,285.85V168M161.58,285.85V168M23.5,256.39H189.2M23.5,226.93H189.2M23.5,197.46H189.2" fill="none" stroke="#000" stroke-width="1.3" stroke-dasharray="0.9 2.2"/>
<rect x="23.5" y="168" width="165.7" height="117.85" fill="none" stroke="#000" stroke-width="1.4"/>
<g fill="#000" font-size="9.7" font-weight="bold" stroke="#000" stroke-width="0.15">
<g text-anchor="middle"><text x="23.5" y="296.9">0</text><text x="51.12" y="296.9">4</text><text x="78.73" y="296.9">8</text><text x="106.35" y="296.9">12</text><text x="133.97" y="296.9">16</text><text x="161.58" y="296.9">20</text><text x="189.2" y="296.9">24</text></g>
<g text-anchor="end"><text x="19" y="288.45">0</text><text x="19" y="258.99">10</text><text x="19" y="229.53">20</text><text x="19" y="200.06">30</text></g>
<clipPath id="t10"><rect x="-6.5" y="297.85" width="225.7" height="13.15"/></clipPath><text x="106.35" y="311.05" font-size="10.2" text-anchor="middle" stroke-width="0.1" clip-path="url(#t10)">Tuen Mun</text>
</g>
</g>
<g>
<clipPath id="c11"><rect x="216.5" y="168" width="165.7" height="117.85"/></clipPath>
<path d="M216.5,285.85v-4.1M216.5,168v4.1M230.31,285.85v-4.1M230.31,168v4.1M244.12,285.85v-4.1M244.12,168v4.1M257.93,285.85v-4.1M257.93,168v4.1M271.73,285.85v-4.1M271.73,168v4.1M285.54,285.85v-4.1M285.54,168v4.1M299.35,285.85v-4.1M299.35,168v4.1M313.16,285.85v-4.1M313.16,168v4.1M326.97,285.85v-4.1M326.97,168v4.1M340.77,285.85v-4.1M340.77,168v4.1M354.58,285.85v-4.1M354.58,168v4.1M368.39,285.85v-4.1M368.39,168v4.1M382.2,285.85v-4.1M382.2,168v4.1M216.5,285.85h4.1M382.2,285.85h-4.1M216.5,271.12h4.1M382.2,271.12h-4.1M216.5,256.39h4.1M382.2,256.39h-4.1M216.5,241.66h4.1M382.2,241.66h-4.1M216.5,226.93h4.1M382.2,226.93h-4.1M216.5,212.19h4.1M382.2,212.19h-4.1M216.5,197.46h4.1M382.2,197.46h-4.1M216.5,182.73h4.1M382.2,182.73h-4.1M216.5,168h4.1M382.2,168h-4.1" fill="none" stroke="#000" stroke-width="1.1"/>
<g clip-path="url(#c11)" fill="none" stroke-linejoin="round">
<g stroke="#00ffff"><path d="M216.5,244.6L223.4,250.5L230.31,250.5L237.21,271.12L244.12,244.6L251.02,250.5L257.93,259.33L264.83,262.28L271.73,256.39L278.64,259.33L285.54,247.55L292.45,235.76L299.35,235.76L306.25,253.44L313.16,241.66L333.87,226.93L340.77,250.5L347.68,256.39L354.58,256.39L361.49,259.33L368.39,250.5L375.3,253.44L382.2,250.5" stroke-width="1.1"/><use href="#m" x="216.5" y="244.6"/><use href="#m" x="223.4" y="250.5"/><use href="#m" x="230.31" y="250.5"/><use href="#m" x="237.21" y="271.12"/><use href="#m" x="244.12" y="244.6"/><use href="#m" x="251.02" y="250.5"/><use href="#m" x="257.93" y="259.33"/><use href="#m" x="264.83" y="262.28"/><use href="#m" x="271.73" y="256.39"/><use href="#m" x="278.64" y="259.33"/><use href="#m" x="285.54" y="247.55"/><use href="#m" x="292.45" y="235.76"/><use href="#m" x="299.35" y="235.76"/><use href="#m" x="306.25" y="253.44"/><use href="#m" x="313.16" y="241.66"/><use href="#m" x="333.87" y="226.93"/><use href="#m" x="340.77" y="250.5"/><use href="#m" x="347.68" y="256.39"/><use href="#m" x="354.58" y="256.39"/><use href="#m" x="361.49" y="259.33"/><use href="#m" x="368.39" y="250.5"/><use href="#m" x="375.3" y="253.44"/><use href="#m" x="382.2" y="250.5"/></g>
<g stroke="#00ff00"><path d="M216.5,250.5L223.4,256.39L230.31,256.39L237.21,262.28L244.12,265.23L251.02,271.12L257.93,268.17L264.83,256.39L271.73,256.39L278.64,259.33L285.54,259.33L292.45,250.5L299.35,250.5L306.25,262.28L313.16,262.28L320.06,253.44L326.97,241.66L333.87,238.71L340.77,259.33L347.68,271.12L354.58,259.33L361.49,259.33L368.39,262.28L375.3,262.28L382.2,268.17" stroke-width="1.1"/><use href="#m" x="216.5" y="250.5"/><use href="#m" x="223.4" y="256.39"/><use href="#m" x="230.31" y="256.39"/><use href="#m" x="237.21" y="262.28"/><use href="#m" x="244.12" y="265.23"/><use href="#m" x="251.02" y="271.12"/><use href="#m" x="257.93" y="268.17"/><use href="#m" x="264.83" y="256.39"/><use href="#m" x="271.73" y="256.39"/><use href="#m" x="278.64" y="259.33"/><use href="#m" x="285.54" y="259.33"/><use href="#m" x="292.45" y="250.5"/><use href="#m" x="299.35" y="250.5"/><use href="#m" x="306.25" y="262.28"/><use href="#m" x="313.16" y="262.28"/><use href="#m" x="320.06" y="253.44"/><use href="#m" x="326.97" y="241.66"/><use href="#m" x="333.87" y="238.71"/><use href="#m" x="340.77" y="259.33"/><use href="#m" x="347.68" y="271.12"/><use href="#m" x="354.58" y="259.33"/><use href="#m" x="361.49" y="259.33"/><use href="#m" x="368.39" y="262.28"/><use href="#m" x="375.3" y="262.28"/><use href="#m" x="382.2" y="268.17"/></g>
<g stroke="#0000ff"><path d="M216.5,268.17L223.4,265.23L230.31,274.06L237.21,271.12L244.12,265.23L251.02,271.12L257.93,271.12L264.83,274.06L271.73,262.28L278.64,262.28L285.54,271.12L292.45,265.23L299.35,265.23L306.25,268.17L313.16,262.28L320.06,262.28L326.97,271.12L333.87,271.12L340.77,274.06L347.68,271.12L354.58,268.17L361.49,268.17L368.39,256.39L375.3,265.23L382.2,265.23" stroke-width="1.1"/><use href="#m" x="216.5" y="268.17"/><use href="#m" x="223.4" y="265.23"/><use href="#m" x="230.31" y="274.06"/><use href="#m" x="237.21" y="271.12"/><use href="#m" x="244.12" y="265.23"/><use href="#m" x="251.02" y="271.12"/><use href="#m" x="257.93" y="271.12"/><use href="#m" x="264.83" y="274.06"/><use href="#m" x="271.73" y="262.28"/><use href="#m" x="278.64" y="262.28"/><use href="#m" x="285.54" y="271.12"/><use href="#m" x="292.45" y="265.23"/><use href="#m" x="299.35" y="265.23"/><use href="#m" x="306.25" y="268.17"/><use href="#m" x="313.16" y="262.28"/><use href="#m" x="320.06" y="262.28"/><use href="#m" x="326.97" y="271.12"/><use href="#m" x="333.87" y="271.12"/><use href="#m" x="340.77" y="274.06"/><use href="#m" x="347.68" y="271.12"/><use href="#m" x="354.58" y="268.17"/><use href="#m" x="361.49" y="268.17"/><use href="#m" x="368.39" y="256.39"/><use href="#m" x="375.3" y="265.23"/><use href="#m" x="382.2" y="265.23"/></g>
<g stroke="#ff0000"><path d="M216.5,265.23L223.4,274.06L230.31,274.06L237.21,274.06L244.12,271.12L251.02,274.06L257.93,268.17L264.83,268.17L271.73,259.33L278.64,271.12L285.54,265.23L313.16,265.23L320.06,256.39L326.97,253.44L333.87,259.33L340.77,265.23L347.68,262.28L354.58,265.23L361.49,262.28L368.39,265.23L375.3,262.28L382.2,265.23" stroke-width="1.1"/><use href="#m" x="216.5" y="265.23"/><use href="#m" x="223.4" y="274.06"/><use href="#m" x="230.31" y="274.06"/><use href="#m" x="237.21" y="274.06"/><use href="#m" x="244.12" y="271.12"/><use href="#m" x="251.02" y="274.06"/><use href="#m" x="257.93" y="268.17"/><use href="#m" x="264.83" y="268.17"/><use href="#m" x="271.73" y="259.33"/><use href="#m" x="278.64" y="271.12"/><use href="#m" x="285.54" y="265.23"/><use href="#m" x="313.16" y="265.23"/><use href="#m" x="320.06" y="256.39"/><use href="#m" x="326.97" y="253.44"/><use href="#m" x="333.87" y="259.33"/><use href="#m" x="340.77" y="265.23"/><use href="#m" x="347.68" y="262.28"/><use href="#m" x="354.58" y="265.23"/><use href="#m" x="361.49" y="262.28"/><use href="#m" x="368.39" y="265.23"/><use href="#m" x="375.3" y="262.28"/><use href="#m" x="382.2" y="265.23"/></g>
</g>
<path d="M244.12,285.85V168M271.73,285.85V168M299.35,285.85V168M326.97,285.85V168M354.58,285.85V168M216.5,256.39H382.2M216.5,226.93H382.2M216.5,197.46H382.2" fill="none" stroke="#000" stroke-width="1.3" stroke-dasharray="0.9 2.2"/>
<rect x="216.5" y="168" width="165.7" height="117.85" fill="none" stroke="#000" stroke-width="1.4"/>
<g fill="#000" font-size="9.7" font-weight="bold" stroke="#000" stroke-width="0.15">
<g text-anchor="middle"><text x="216.5" y="296.9">0</text><text x="244.12" y="296.9">4</text><text x="271.73" y="296.9">8</text><text x="299.35" y="296.9">12</text><text x="326.97" y="296.9">16</text><text x="354.58" y="296.9">20</text><text x="382.2" y="296.9">24</text></g>
<g text-anchor="end"><text x="212" y="288.45">0</text><text x="212" y="258.99">10</text><text x="212" y="229.53">20</text><text x="212" y="200.06">30</text></g>
<clipPath id="t11"><rect x="186.5" y="297.85" width="225.7" height="13.15"/></clipPath><text x="299.35" y="311.05" font-size="10.2" text-anchor="middle" stroke-width="0.1" clip-path="url(#t11)">Tsuen Wan</text>
</g>
</g>
<g>
<clipPath id="c12"><rect x="409.5" y="168" width="165.7" height="117.85"/></clipPath>
<path d="M409.5,285.85v-4.1M409.5,168v4.1M423.31,285.85v-4.1M423.31,168v4.1M437.12,285.85v-4.1M437.12,168v4.1M450.93,285.85v-4.1M450.93,168v4.1M464.73,285.85v-4.1M464.73,168v4.1M478.54,285.85v-4.1M478.54,168v4.1M492.35,285.85v-4.1M492.35,168v4.1M506.16,285.85v-4.1M506.16,168v4.1M519.97,285.85v-4.1M519.97,168v4.1M533.77,285.85v-4.1M533.77,168v4.1M547.58,285.85v-4.1M547.58,168v4.1M561.39,285.85v-4.1M561.39,168v4.1M575.2,285.85v-4.1M575.2,168v4.1M409.5,285.85h4.1M575.2,285.85h-4.1M409.5,271.12h4.1M575.2,271.12h-4.1M409.5,256.39h4.1M575.2,256.39h-4.1M409.5,241.66h4.1M575.2,241.66h-4.1M409.5,226.93h4.1M575.2,226.93h-4.1M409.5,212.19h4.1M575.2,212.19h-4.1M409.5,197.46h4.1M575.2,197.46h-4.1M409.5,182.73h4.1M575.2,182.73h-4.1M409.5,168h4.1M575.2,168h-4.1" fill="none" stroke="#000" stroke-width="1.1"/>
<g clip-path="url(#c12)" fill="none" stroke-linejoin="round">
<g stroke="#00ffff"><path d="M409.5,238.71L416.4,247.55L423.31,256.39L430.21,259.33L437.12,253.44L444.02,241.66L450.93,247.55L457.83,259.33L464.73,265.23L471.64,259.33L478.54,247.55L485.45,244.6L492.35,238.71L499.25,229.87L506.16,241.66L513.06,253.44L519.97,259.33L526.87,247.55L533.77,235.76L540.68,232.82L547.58,226.93L554.49,244.6L561.39,256.39L568.3,253.44L575.2,250.5" stroke-width="1.1"/><use href="#m" x="409.5" y="238.71"/><use href="#m" x="416.4" y="247.55"/><use href="#m" x="423.31" y="256.39"/><use href="#m" x="430.21" y="259.33"/><use href="#m" x="437.12" y="253.44"/><use href="#m" x="444.02" y="241.66"/><use href="#m" x="450.93" y="247.55"/><use href="#m" x="457.83" y="259.33"/><use href="#m" x="464.73" y="265.23"/><use href="#m" x="471.64" y="259.33"/><use href="#m" x="478.54" y="247.55"/><use href="#m" x="485.45" y="244.6"/><use href="#m" x="492.35" y="238.71"/><use href="#m" x="499.25" y="229.87"/><use href="#m" x="506.16" y="241.66"/><use href="#m" x="513.06" y="253.44"/><use href="#m" x="519.97" y="259.33"/><use href="#m" x="526.87" y="247.55"/><use href="#m" x="533.77" y="235.76"/><use href="#m" x="540.68" y="232.82"/><use href="#m" x="547.58" y="226.93"/><use href="#m" x="554.49" y="244.6"/><use href="#m" x="561.39" y="256.39"/><use href="#m" x="568.3" y="253.44"/><use href="#m" x="575.2" y="250.5"/></g>
<g stroke="#00ff00"><path d="M409.5,250.5L416.4,250.5L423.31,253.44L430.21,259.33L437.12,265.23L444.02,262.28L450.93,259.33L457.83,247.55L464.73,250.5L471.64,256.39L478.54,244.6L485.45,250.5L492.35,247.55L499.25,238.71L506.16,256.39L513.06,253.44L519.97,238.71L526.87,223.98L533.77,226.93L540.68,241.66L547.58,250.5L554.49,259.33L561.39,268.17L568.3,265.23L575.2,259.33" stroke-width="1.1"/><use href="#m" x="409.5" y="250.5"/><use href="#m" x="416.4" y="250.5"/><use href="#m" x="423.31" y="253.44"/><use href="#m" x="430.21" y="259.33"/><use href="#m" x="437.12" y="265.23"/><use href="#m" x="444.02" y="262.28"/><use href="#m" x="450.93" y="259.33"/><use href="#m" x="457.83" y="247.55"/><use href="#m" x="464.73" y="250.5"/><use href="#m" x="471.64" y="256.39"/><use href="#m" x="478.54" y="244.6"/><use href="#m" x="485.45" y="250.5"/><use href="#m" x="492.35" y="247.55"/><use href="#m" x="499.25" y="238.71"/><use href="#m" x="506.16" y="256.39"/><use href="#m" x="513.06" y="253.44"/><use href="#m" x="519.97" y="238.71"/><use href="#m" x="526.87" y="223.98"/><use href="#m" x="533.77" y="226.93"/><use href="#m" x="540.68" y="241.66"/><use href="#m" x="547.58" y="250.5"/><use href="#m" x="554.49" y="259.33"/><use href="#m" x="561.39" y="268.17"/><use href="#m" x="568.3" y="265.23"/><use href="#m" x="575.2" y="259.33"/></g>
<g stroke="#0000ff"><path d="M409.5,259.33L416.4,265.23L423.31,271.12L430.21,262.28L437.12,244.6L444.02,250.5L450.93,265.23L457.83,256.39L464.73,250.5L471.64,265.23L478.54,279.96L485.45,265.23L492.35,250.5L499.25,247.55L506.16,262.28L513.06,277.01L519.97,271.12L526.87,259.33L533.77,253.44L540.68,259.33L547.58,259.33L554.49,262.28L561.39,256.39L568.3,259.33L575.2,265.23" stroke-width="1.1"/><use href="#m" x="409.5" y="259.33"/><use href="#m" x="416.4" y="265.23"/><use href="#m" x="423.31" y="271.12"/><use href="#m" x="430.21" y="262.28"/><use href="#m" x="437.12" y="244.6"/><use href="#m" x="444.02" y="250.5"/><use href="#m" x="450.93" y="265.23"/><use href="#m" x="457.83" y="256.39"/><use href="#m" x="464.73" y="250.5"/><use href="#m" x="471.64" y="265.23"/><use href="#m" x="478.54" y="279.96"/><use href="#m" x="485.45" y="265.23"/><use href="#m" x="492.35" y="250.5"/><use href="#m" x="499.25" y="247.55"/><use href="#m" x="506.16" y="262.28"/><use href="#m" x="513.06" y="277.01"/><use href="#m" x="519.97" y="271.12"/><use href="#m" x="526.87" y="259.33"/><use href="#m" x="533.77" y="253.44"/><use href="#m" x="540.68" y="259.33"/><use href="#m" x="547.58" y="259.33"/><use href="#m" x="554.49" y="262.28"/><use href="#m" x="561.39" y="256.39"/><use href="#m" x="568.3" y="259.33"/><use href="#m" x="575.2" y="265.23"/></g>
<g stroke="#ff0000"><path d="M409.5,265.23L416.4,271.12L423.31,262.28L430.21,265.23L437.12,277.01L444.02,274.06L450.93,268.17L457.83,259.33L464.73,262.28L471.64,262.28L478.54,253.44L485.45,256.39L492.35,241.66L499.25,229.87L506.16,250.5L513.06,256.39L519.97,253.44L526.87,250.5L533.77,238.71L540.68,244.6L547.58,247.55L554.49,256.39L561.39,253.44L568.3,256.39L575.2,265.23" stroke-width="1.1"/><use href="#m" x="409.5" y="265.23"/><use href="#m" x="416.4" y="271.12"/><use href="#m" x="423.31" y="262.28"/><use href="#m" x="430.21" y="265.23"/><use href="#m" x="437.12" y="277.01"/><use href="#m" x="444.02" y="274.06"/><use href="#m" x="450.93" y="268.17"/><use href="#m" x="457.83" y="259.33"/><use href="#m" x="464.73" y="262.28"/><use href="#m" x="471.64" y="262.28"/><use href="#m" x="478.54" y="253.44"/><use href="#m" x="485.45" y="256.39"/><use href="#m" x="492.35" y="241.66"/><use href="#m" x="499.25" y="229.87"/><use href="#m" x="506.16" y="250.5"/><use href="#m" x="513.06" y="256.39"/><use href="#m" x="519.97" y="253.44"/><use href="#m" x="526.87" y="250.5"/><use href="#m" x="533.77" y="238.71"/><use href="#m" x="540.68" y="244.6"/><use href="#m" x="547.58" y="247.55"/><use href="#m" x="554.49" y="256.39"/><use href="#m" x="561.39" y="253.44"/><use href="#m" x="568.3" y="256.39"/><use href="#m" x="575.2" y="265.23"/></g>
</g>
<path d="M437.12,285.85V168M464.73,285.85V168M492.35,285.85V168M519.97,285.85V168M547.58,285.85V168M409.5,256.39H575.2M409.5,226.93H575.2M409.5,197.46H575.2" fill="none" stroke="#000" stroke-width="1.3" stroke-dasharray="0.9 2.2"/>
<rect x="409.5" y="168" width="165.7" height="117.85" fill="none" stroke="#000" stroke-width="1.4"/>
<g fill="#000" font-size="9.7" font-weight="bold" stroke="#000" stroke-width="0.15">
<g text-anchor="middle"><text x="409.5" y="296.9">0</text><text x="437.12" y="296.9">4</text><text x="464.73" y="296.9">8</text><text x="492.35" y="296.9">12</text><text x="519.97" y="296.9">16</text><text x="547.58" y="296.9">20</text><text x="575.2" y="296.9">24</text></g>
<g text-anchor="end"><text x="405" y="288.45">0</text><text x="405" y="258.99">10</text><text x="405" y="229.53">20</text><text x="405" y="200.06">30</text></g>
<clipPath id="t12"><rect x="379.5" y="297.85" width="225.7" height="13.15"/></clipPath><text x="492.35" y="311.05" font-size="10.2" text-anchor="middle" stroke-width="0.1" clip-path="url(#t12)">Sham Shui Po</text>
</g>
</g>
<g>
<clipPath id="c13"><rect x="602.5" y="168" width="165.7" height="117.85"/></clipPath>
<path d="M602.5,285.85v-4.1M602.5,168v4.1M616.31,285.85v-4.1M616.31,168v4.1M630.12,285.85v-4.1M630.12,168v4.1M643.92,285.85v-4.1M643.92,168v4.1M657.73,285.85v-4.1M657.73,168v4.1M671.54,285.85v-4.1M671.54,168v4.1M685.35,285.85v-4.1M685.35,168v4.1M699.16,285.85v-4.1M699.16,168v4.1M712.97,285.85v-4.1M712.97,168v4.1M726.77,285.85v-4.1M726.77,168v4.1M740.58,285.85v-4.1M740.58,168v4.1M754.39,285.85v-4.1M754.39,168v4.1M768.2,285.85v-4.1M768.2,168v4.1M602.5,285.85h4.1M768.2,285.85h-4.1M602.5,271.12h4.1M768.2,271.12h-4.1M602.5,256.39h4.1M768.2,256.39h-4.1M602.5,241.66h4.1M768.2,241.66h-4.1M602.5,226.93h4.1M768.2,226.93h-4.1M602.5,212.19h4.1M768.2,212.19h-4.1M602.5,197.46h4.1M768.2,197.46h-4.1M602.5,182.73h4.1M768.2,182.73h-4.1M602.5,168h4.1M768.2,168h-4.1" fill="none" stroke="#000" stroke-width="1.1"/>
<g clip-path="url(#c13)" fill="none" stroke-linejoin="round">
<g stroke="#00ffff"><path d="M602.5,247.55L609.4,235.76L616.31,247.55L623.21,250.5L630.12,268.17L637.02,253.44L643.92,259.33L650.83,262.28L657.73,256.39L664.64,250.5L671.54,238.71L678.45,226.93L685.35,221.03L692.25,253.44L699.16,256.39L706.06,259.33L712.97,247.55L719.87,232.82L726.77,253.44L733.68,247.55L740.58,244.6L747.49,253.44L754.39,253.44L761.3,256.39L768.2,250.5" stroke-width="1.1"/><use href="#m" x="602.5" y="247.55"/><use href="#m" x="609.4" y="235.76"/><use href="#m" x="616.31" y="247.55"/><use href="#m" x="623.21" y="250.5"/><use href="#m" x="630.12" y="268.17"/><use href="#m" x="637.02" y="253.44"/><use href="#m" x="643.92" y="259.33"/><use href="#m" x="650.83" y="262.28"/><use href="#m" x="657.73" y="256.39"/><use href="#m" x="664.64" y="250.5"/><use href="#m" x="671.54" y="238.71"/><use href="#m" x="678.45" y="226.93"/><use href="#m" x="685.35" y="221.03"/><use href="#m" x="692.25" y="253.44"/><use href="#m" x="699.16" y="256.39"/><use href="#m" x="706.06" y="259.33"/><use href="#m" x="712.97" y="247.55"/><use href="#m" x="719.87" y="232.82"/><use href="#m" x="726.77" y="253.44"/><use href="#m" x="733.68" y="247.55"/><use href="#m" x="740.58" y="244.6"/><use href="#m" x="747.49" y="253.44"/><use href="#m" x="754.39" y="253.44"/><use href="#m" x="761.3" y="256.39"/><use href="#m" x="768.2" y="250.5"/></g>
<g stroke="#00ff00"><path d="M602.5,250.5L609.4,256.39L616.31,265.23L623.21,265.23L630.12,265.23L637.02,265.23L643.92,250.5L657.73,271.12L664.64,256.39L671.54,259.33L678.45,262.28L685.35,259.33L692.25,256.39L699.16,256.39L706.06,247.55L712.97,253.44L719.87,256.39L726.77,238.71L733.68,238.71L740.58,247.55L747.49,259.33L754.39,256.39L761.3,259.33L768.2,253.44" stroke-width="1.1"/><use href="#m" x="602.5" y="250.5"/><use href="#m" x="609.4" y="256.39"/><use href="#m" x="616.31" y="265.23"/><use href="#m" x="623.21" y="265.23"/><use href="#m" x="630.12" y="265.23"/><use href="#m" x="637.02" y="265.23"/><use href="#m" x="643.92" y="250.5"/><use href="#m" x="657.73" y="271.12"/><use href="#m" x="664.64" y="256.39"/><use href="#m" x="671.54" y="259.33"/><use href="#m" x="678.45" y="262.28"/><use href="#m" x="685.35" y="259.33"/><use href="#m" x="692.25" y="256.39"/><use href="#m" x="699.16" y="256.39"/><use href="#m" x="706.06" y="247.55"/><use href="#m" x="712.97" y="253.44"/><use href="#m" x="719.87" y="256.39"/><use href="#m" x="726.77" y="238.71"/><use href="#m" x="733.68" y="238.71"/><use href="#m" x="740.58" y="247.55"/><use href="#m" x="747.49" y="259.33"/><use href="#m" x="754.39" y="256.39"/><use href="#m" x="761.3" y="259.33"/><use href="#m" x="768.2" y="253.44"/></g>
<g stroke="#0000ff"><path d="M609.4,277.01L616.31,247.55L623.21,262.28L650.83,274.06L657.73,274.06L664.64,253.44L671.54,262.28L678.45,253.44L685.35,265.23L692.25,265.23L699.16,262.28L706.06,271.12L712.97,259.33L719.87,259.33L726.77,262.28L733.68,262.28L740.58,250.5L747.49,268.17L754.39,262.28L761.3,256.39L768.2,274.06" stroke-width="1.1"/><use href="#m" x="609.4" y="277.01"/><use href="#m" x="616.31" y="247.55"/><use href="#m" x="623.21" y="262.28"/><use href="#m" x="650.83" y="274.06"/><use href="#m" x="657.73" y="274.06"/><use href="#m" x="664.64" y="253.44"/><use href="#m" x="671.54" y="262.28"/><use href="#m" x="678.45" y="253.44"/><use href="#m" x="685.35" y="265.23"/><use href="#m" x="692.25" y="265.23"/><use href="#m" x="699.16" y="262.28"/><use href="#m" x="706.06" y="271.12"/><use href="#m" x="712.97" y="259.33"/><use href="#m" x="719.87" y="259.33"/><use href="#m" x="726.77" y="262.28"/><use href="#m" x="733.68" y="262.28"/><use href="#m" x="740.58" y="250.5"/><use href="#m" x="747.49" y="268.17"/><use href="#m" x="754.39" y="262.28"/><use href="#m" x="761.3" y="256.39"/><use href="#m" x="768.2" y="274.06"/></g>
<g stroke="#ff0000"><path d="M602.5,274.06L609.4,253.44L616.31,244.6L623.21,262.28L630.12,274.06L637.02,274.06L657.73,271.12L664.64,247.55L671.54,259.33L678.45,271.12L685.35,256.39L692.25,253.44L699.16,262.28L706.06,262.28L712.97,253.44L719.87,253.44L726.77,253.44L733.68,256.39L740.58,256.39L747.49,265.23L754.39,268.17L761.3,274.06" stroke-width="1.1"/><use href="#m" x="602.5" y="274.06"/><use href="#m" x="609.4" y="253.44"/><use href="#m" x="616.31" y="244.6"/><use href="#m" x="623.21" y="262.28"/><use href="#m" x="630.12" y="274.06"/><use href="#m" x="637.02" y="274.06"/><use href="#m" x="657.73" y="271.12"/><use href="#m" x="664.64" y="247.55"/><use href="#m" x="671.54" y="259.33"/><use href="#m" x="678.45" y="271.12"/><use href="#m" x="685.35" y="256.39"/><use href="#m" x="692.25" y="253.44"/><use href="#m" x="699.16" y="262.28"/><use href="#m" x="706.06" y="262.28"/><use href="#m" x="712.97" y="253.44"/><use href="#m" x="719.87" y="253.44"/><use href="#m" x="726.77" y="253.44"/><use href="#m" x="733.68" y="256.39"/><use href="#m" x="740.58" y="256.39"/><use href="#m" x="747.49" y="265.23"/><use href="#m" x="754.39" y="268.17"/><use href="#m" x="761.3" y="274.06"/></g>
</g>
<path d="M630.12,285.85V168M657.73,285.85V168M685.35,285.85V168M712.97,285.85V168M740.58,285.85V168M602.5,256.39H768.2M602.5,226.93H768.2M602.5,197.46H768.2" fill="none" stroke="#000" stroke-width="1.3" stroke-dasharray="0.9 2.2"/>
<rect x="602.5" y="168" width="165.7" height="117.85" fill="none" stroke="#000" stroke-width="1.4"/>
<g fill="#000" font-size="9.7" font-weight="bold" stroke="#000" stroke-width="0.15">
<g text-anchor="middle"><text x="602.5" y="296.9">0</text><text x="630.12" y="296.9">4</text><text x="657.73" y="296.9">8</text><text x="685.35" y="296.9">12</text><text x="712.97" y="296.9">16</text><text x="740.58" y="296.9">20</text><text x="768.2" y="296.9">24</text></g>
<g text-anchor="end"><text x="598" y="288.45">0</text><text x="598" y="258.99">10</text><text x="598" y="229.53">20</text><text x="598" y="200.06">30</text></g>
<clipPath id="t13"><rect x="572.5" y="297.85" width="225.7" height="13.15"/></clipPath><text x="685.35" y="311.05" font-size="10.2" text-anchor="middle" stroke-width="0.1" clip-path="url(#t13)">Sha Tin</text>
</g>
</g>
<g>
<clipPath id="c20"><rect x="23.5" y="316" width="165.7" height="117.85"/></clipPath>
<path d="M23.5,433.85v-4.1M23.5,316v4.1M37.31,433.85v-4.1M37.31,316v4.1M51.12,433.85v-4.1M51.12,316v4.1M64.92,433.85v-4.1M64.92,316v4.1M78.73,433.85v-4.1M78.73,316v4.1M92.54,433.85v-4.1M92.54,316v4.1M106.35,433.85v-4.1M106.35,316v4.1M120.16,433.85v-4.1M120.16,316v4.1M133.97,433.85v-4.1M133.97,316v4.1M147.77,433.85v-4.1M147.77,316v4.1M161.58,433.85v-4.1M161.58,316v4.1M175.39,433.85v-4.1M175.39,316v4.1M189.2,433.85v-4.1M189.2,316v4.1M23.5,433.85h4.1M189.2,433.85h-4.1M23.5,419.12h4.1M189.2,419.12h-4.1M23.5,404.39h4.1M189.2,404.39h-4.1M23.5,389.66h4.1M189.2,389.66h-4.1M23.5,374.93h4.1M189.2,374.93h-4.1M23.5,360.19h4.1M189.2,360.19h-4.1M23.5,345.46h4.1M189.2,345.46h-4.1M23.5,330.73h4.1M189.2,330.73h-4.1M23.5,316h4.1M189.2,316h-4.1" fill="none" stroke="#000" stroke-width="1.1"/>
<g clip-path="url(#c20)" fill="none" stroke-linejoin="round">
<g stroke="#00ffff"><path d="M23.5,401.44L30.4,380.82L37.31,371.98L44.21,413.23L51.12,386.71L58.02,380.82L64.92,404.39L71.83,366.09L78.73,369.03L85.64,377.87L92.54,389.66L99.45,369.03L106.35,392.6L113.25,398.5L120.16,377.87L127.06,395.55L133.97,410.28L140.87,363.14L147.77,389.66L154.68,404.39L161.58,383.76L168.49,401.44L175.39,383.76L182.3,371.98L189.2,398.5" stroke-width="1.1"/><use href="#m" x="23.5" y="401.44"/><use href="#m" x="30.4" y="380.82"/><use href="#m" x="37.31" y="371.98"/><use href="#m" x="44.21" y="413.23"/><use href="#m" x="51.12" y="386.71"/><use href="#m" x="58.02" y="380.82"/><use href="#m" x="64.92" y="404.39"/><use href="#m" x="71.83" y="366.09"/><use href="#m" x="78.73" y="369.03"/><use href="#m" x="85.64" y="377.87"/><use href="#m" x="92.54" y="389.66"/><use href="#m" x="99.45" y="369.03"/><use href="#m" x="106.35" y="392.6"/><use href="#m" x="113.25" y="398.5"/><use href="#m" x="120.16" y="377.87"/><use href="#m" x="127.06" y="395.55"/><use href="#m" x="133.97" y="410.28"/><use href="#m" x="140.87" y="363.14"/><use href="#m" x="147.77" y="389.66"/><use href="#m" x="154.68" y="404.39"/><use href="#m" x="161.58" y="383.76"/><use href="#m" x="168.49" y="401.44"/><use href="#m" x="175.39" y="383.76"/><use href="#m" x="182.3" y="371.98"/><use href="#m" x="189.2" y="398.5"/></g>
<g stroke="#00ff00"><path d="M23.5,398.5L30.4,401.44L37.31,380.82L44.21,401.44L51.12,392.6L58.02,380.82L64.92,413.23L71.83,404.39L78.73,386.71L85.64,410.28L92.54,422.06L99.45,383.76L106.35,401.44L113.25,401.44L120.16,392.6L127.06,432.38L133.97,419.12L140.87,395.55L147.77,395.55L154.68,380.82L161.58,386.71L168.49,419.12L175.39,395.55L182.3,377.87L189.2,401.44" stroke-width="1.1"/><use href="#m" x="23.5" y="398.5"/><use href="#m" x="30.4" y="401.44"/><use href="#m" x="37.31" y="380.82"/><use href="#m" x="44.21" y="401.44"/><use href="#m" x="51.12" y="392.6"/><use href="#m" x="58.02" y="380.82"/><use href="#m" x="64.92" y="413.23"/><use href="#m" x="71.83" y="404.39"/><use href="#m" x="78.73" y="386.71"/><use href="#m" x="85.64" y="410.28"/><use href="#m" x="92.54" y="422.06"/><use href="#m" x="99.45" y="383.76"/><use href="#m" x="106.35" y="401.44"/><use href="#m" x="113.25" y="401.44"/><use href="#m" x="120.16" y="392.6"/><use href="#m" x="127.06" y="432.38"/><use href="#m" x="133.97" y="419.12"/><use href="#m" x="140.87" y="395.55"/><use href="#m" x="147.77" y="395.55"/><use href="#m" x="154.68" y="380.82"/><use href="#m" x="161.58" y="386.71"/><use href="#m" x="168.49" y="419.12"/><use href="#m" x="175.39" y="395.55"/><use href="#m" x="182.3" y="377.87"/><use href="#m" x="189.2" y="401.44"/></g>
<g stroke="#0000ff"><path d="M23.5,401.44L30.4,401.44L37.31,380.82L44.21,410.28L51.12,392.6L58.02,391.13L64.92,404.39L71.83,388.18L78.73,389.66L85.64,386.71L92.54,404.39L99.45,425.01L106.35,419.12L113.25,401.44L120.16,425.01L127.06,404.39L133.97,392.6L140.87,401.44L147.77,397.02L154.68,392.6L161.58,386.71L168.49,413.23L175.39,416.17L182.3,404.39L189.2,386.71" stroke-width="1.1"/><use href="#m" x="23.5" y="401.44"/><use href="#m" x="30.4" y="401.44"/><use href="#m" x="37.31" y="380.82"/><use href="#m" x="44.21" y="410.28"/><use href="#m" x="51.12" y="392.6"/><use href="#m" x="58.02" y="391.13"/><use href="#m" x="64.92" y="404.39"/><use href="#m" x="71.83" y="388.18"/><use href="#m" x="78.73" y="389.66"/><use href="#m" x="85.64" y="386.71"/><use href="#m" x="92.54" y="404.39"/><use href="#m" x="99.45" y="425.01"/><use href="#m" x="106.35" y="419.12"/><use href="#m" x="113.25" y="401.44"/><use href="#m" x="120.16" y="425.01"/><use href="#m" x="127.06" y="404.39"/><use href="#m" x="133.97" y="392.6"/><use href="#m" x="140.87" y="401.44"/><use href="#m" x="147.77" y="397.02"/><use href="#m" x="154.68" y="392.6"/><use href="#m" x="161.58" y="386.71"/><use href="#m" x="168.49" y="413.23"/><use href="#m" x="175.39" y="416.17"/><use href="#m" x="182.3" y="404.39"/><use href="#m" x="189.2" y="386.71"/></g>
<g stroke="#ff0000"><path d="M23.5,386.71L30.4,416.17L37.31,410.28L44.21,389.66L51.12,416.17L58.02,389.66L64.92,401.44L71.83,416.17L78.73,429.43L85.64,410.28L92.54,429.43L99.45,404.39L106.35,410.28L113.25,386.71L120.16,392.6L127.06,410.28L133.97,404.39L140.87,379.34L147.77,423.54L154.68,427.96L161.58,413.23L168.49,379.34L175.39,389.66L182.3,380.82L189.2,398.5" stroke-width="1.1"/><use href="#m" x="23.5" y="386.71"/><use href="#m" x="30.4" y="416.17"/><use href="#m" x="37.31" y="410.28"/><use href="#m" x="44.21" y="389.66"/><use href="#m" x="51.12" y="416.17"/><use href="#m" x="58.02" y="389.66"/><use href="#m" x="64.92" y="401.44"/><use href="#m" x="71.83" y="416.17"/><use href="#m" x="78.73" y="429.43"/><use href="#m" x="85.64" y="410.28"/><use href="#m" x="92.54" y="429.43"/><use href="#m" x="99.45" y="404.39"/><use href="#m" x="106.35" y="410.28"/><use href="#m" x="113.25" y="386.71"/><use href="#m" x="120.16" y="392.6"/><use href="#m" x="127.06" y="410.28"/><use href="#m" x="133.97" y="404.39"/><use href="#m" x="140.87" y="379.34"/><use href="#m" x="147.77" y="423.54"/><use href="#m" x="154.68" y="427.96"/><use href="#m" x="161.58" y="413.23"/><use href="#m" x="168.49" y="379.34"/><use href="#m" x="175.39" y="389.66"/><use href="#m" x="182.3" y="380.82"/><use href="#m" x="189.2" y="398.5"/></g>
</g>
<path d="M51.12,433.85V316M78.73,433.85V316M106.35,433.85V316M133.97,433.85V316M161.58,433.85V316M23.5,404.39H189.2M23.5,374.93H189.2M23.5,345.46H189.2" fill="none" stroke="#000" stroke-width="1.3" stroke-dasharray="0.9 2.2"/>
<rect x="23.5" y="316" width="165.7" height="117.85" fill="none" stroke="#000" stroke-width="1.4"/>
<g fill="#000" font-size="9.7" font-weight="bold" stroke="#000" stroke-width="0.15">
<g text-anchor="middle"><text x="23.5" y="444.9">0</text><text x="51.12" y="444.9">4</text><text x="78.73" y="444.9">8</text><text x="106.35" y="444.9">12</text><text x="133.97" y="444.9">16</text><text x="161.58" y="444.9">20</text><text x="189.2" y="444.9">24</text></g>
<g text-anchor="end"><text x="19" y="436.45">0</text><text x="19" y="406.99">10</text><text x="19" y="377.53">20</text><text x="19" y="348.06">30</text></g>
<clipPath id="t20"><rect x="-6.5" y="445.85" width="225.7" height="13.15"/></clipPath><text x="106.35" y="459.05" font-size="10.2" text-anchor="middle" stroke-width="0.1" clip-path="url(#t20)">Airport, Sha Chau</text>
</g>
</g>
<g>
<clipPath id="c21"><rect x="216.5" y="316" width="165.7" height="117.85"/></clipPath>
<path d="M216.5,433.85v-4.1M216.5,316v4.1M230.31,433.85v-4.1M230.31,316v4.1M244.12,433.85v-4.1M244.12,316v4.1M257.93,433.85v-4.1M257.93,316v4.1M271.73,433.85v-4.1M271.73,316v4.1M285.54,433.85v-4.1M285.54,316v4.1M299.35,433.85v-4.1M299.35,316v4.1M313.16,433.85v-4.1M313.16,316v4.1M326.97,433.85v-4.1M326.97,316v4.1M340.77,433.85v-4.1M340.77,316v4.1M354.58,433.85v-4.1M354.58,316v4.1M368.39,433.85v-4.1M368.39,316v4.1M382.2,433.85v-4.1M382.2,316v4.1M216.5,433.85h4.1M382.2,433.85h-4.1M216.5,419.12h4.1M382.2,419.12h-4.1M216.5,404.39h4.1M382.2,404.39h-4.1M216.5,389.66h4.1M382.2,389.66h-4.1M216.5,374.93h4.1M382.2,374.93h-4.1M216.5,360.19h4.1M382.2,360.19h-4.1M216.5,345.46h4.1M382.2,345.46h-4.1M216.5,330.73h4.1M382.2,330.73h-4.1M216.5,316h4.1M382.2,316h-4.1" fill="none" stroke="#000" stroke-width="1.1"/>
<g clip-path="url(#c21)" fill="none" stroke-linejoin="round">
<g stroke="#00ffff"><path d="M216.5,380.82L223.4,389.66L230.31,398.5L237.21,392.6L244.12,398.5L251.02,392.6L257.93,389.66L264.83,383.76L271.73,383.76L278.64,386.71L285.54,380.82L292.45,377.87L299.35,374.93L306.25,380.82L313.16,386.71L320.06,380.82L326.97,369.03L333.87,369.03L340.77,386.71L347.68,395.55L354.58,392.6L361.49,377.87L368.39,371.98L375.3,386.71L382.2,395.55" stroke-width="1.1"/><use href="#m" x="216.5" y="380.82"/><use href="#m" x="223.4" y="389.66"/><use href="#m" x="230.31" y="398.5"/><use href="#m" x="237.21" y="392.6"/><use href="#m" x="244.12" y="398.5"/><use href="#m" x="251.02" y="392.6"/><use href="#m" x="257.93" y="389.66"/><use href="#m" x="264.83" y="383.76"/><use href="#m" x="271.73" y="383.76"/><use href="#m" x="278.64" y="386.71"/><use href="#m" x="285.54" y="380.82"/><use href="#m" x="292.45" y="377.87"/><use href="#m" x="299.35" y="374.93"/><use href="#m" x="306.25" y="380.82"/><use href="#m" x="313.16" y="386.71"/><use href="#m" x="320.06" y="380.82"/><use href="#m" x="326.97" y="369.03"/><use href="#m" x="333.87" y="369.03"/><use href="#m" x="340.77" y="386.71"/><use href="#m" x="347.68" y="395.55"/><use href="#m" x="354.58" y="392.6"/><use href="#m" x="361.49" y="377.87"/><use href="#m" x="368.39" y="371.98"/><use href="#m" x="375.3" y="386.71"/><use href="#m" x="382.2" y="395.55"/></g>
<g stroke="#00ff00"><path d="M216.5,395.55L223.4,392.6L230.31,386.71L237.21,395.55L244.12,404.39L251.02,398.5L257.93,389.66L264.83,389.66L271.73,392.6L278.64,380.82L285.54,374.93L292.45,389.66L299.35,407.33L306.25,398.5L313.16,392.6L320.06,395.55L326.97,395.55L333.87,395.55L340.77,395.55L347.68,398.5L354.58,404.39L361.49,392.6L368.39,389.66L375.3,404.39L382.2,404.39" stroke-width="1.1"/><use href="#m" x="216.5" y="395.55"/><use href="#m" x="223.4" y="392.6"/><use href="#m" x="230.31" y="386.71"/><use href="#m" x="237.21" y="395.55"/><use href="#m" x="244.12" y="404.39"/><use href="#m" x="251.02" y="398.5"/><use href="#m" x="257.93" y="389.66"/><use href="#m" x="264.83" y="389.66"/><use href="#m" x="271.73" y="392.6"/><use href="#m" x="278.64" y="380.82"/><use href="#m" x="285.54" y="374.93"/><use href="#m" x="292.45" y="389.66"/><use href="#m" x="299.35" y="407.33"/><use href="#m" x="306.25" y="398.5"/><use href="#m" x="313.16" y="392.6"/><use href="#m" x="320.06" y="395.55"/><use href="#m" x="326.97" y="395.55"/><use href="#m" x="333.87" y="395.55"/><use href="#m" x="340.77" y="395.55"/><use href="#m" x="347.68" y="398.5"/><use href="#m" x="354.58" y="404.39"/><use href="#m" x="361.49" y="392.6"/><use href="#m" x="368.39" y="389.66"/><use href="#m" x="375.3" y="404.39"/><use href="#m" x="382.2" y="404.39"/></g>
<g stroke="#0000ff"><path d="M216.5,404.39L223.4,404.39L230.31,404.39L237.21,407.33L244.12,407.33L251.02,398.5L257.93,401.44L264.83,407.33L271.73,413.23L278.64,407.33L285.54,404.39L292.45,401.44L299.35,410.28L306.25,416.17L313.16,410.28L320.06,398.5L326.97,395.55L333.87,404.39L340.77,401.44L347.68,419.12L354.58,425.01L361.49,410.28L368.39,401.44L375.3,410.28L382.2,419.12" stroke-width="1.1"/><use href="#m" x="216.5" y="404.39"/><use href="#m" x="223.4" y="404.39"/><use href="#m" x="230.31" y="404.39"/><use href="#m" x="237.21" y="407.33"/><use href="#m" x="244.12" y="407.33"/><use href="#m" x="251.02" y="398.5"/><use href="#m" x="257.93" y="401.44"/><use href="#m" x="264.83" y="407.33"/><use href="#m" x="271.73" y="413.23"/><use href="#m" x="278.64" y="407.33"/><use href="#m" x="285.54" y="404.39"/><use href="#m" x="292.45" y="401.44"/><use href="#m" x="299.35" y="410.28"/><use href="#m" x="306.25" y="416.17"/><use href="#m" x="313.16" y="410.28"/><use href="#m" x="320.06" y="398.5"/><use href="#m" x="326.97" y="395.55"/><use href="#m" x="333.87" y="404.39"/><use href="#m" x="340.77" y="401.44"/><use href="#m" x="347.68" y="419.12"/><use href="#m" x="354.58" y="425.01"/><use href="#m" x="361.49" y="410.28"/><use href="#m" x="368.39" y="401.44"/><use href="#m" x="375.3" y="410.28"/><use href="#m" x="382.2" y="419.12"/></g>
<g stroke="#ff0000"><path d="M216.5,416.17L223.4,407.33L230.31,410.28L237.21,413.23L244.12,407.33L251.02,401.44L257.93,395.55L264.83,401.44L271.73,410.28L278.64,410.28L285.54,404.39L292.45,395.55L299.35,395.55L306.25,398.5L313.16,401.44L320.06,404.39L326.97,395.55L333.87,395.55L354.58,422.06L361.49,410.28L368.39,389.66L375.3,395.55L382.2,422.06" stroke-width="1.1"/><use href="#m" x="216.5" y="416.17"/><use href="#m" x="223.4" y="407.33"/><use href="#m" x="230.31" y="410.28"/><use href="#m" x="237.21" y="413.23"/><use href="#m" x="244.12" y="407.33"/><use href="#m" x="251.02" y="401.44"/><use href="#m" x="257.93" y="395.55"/><use href="#m" x="264.83" y="401.44"/><use href="#m" x="271.73" y="410.28"/><use href="#m" x="278.64" y="410.28"/><use href="#m" x="285.54" y="404.39"/><use href="#m" x="292.45" y="395.55"/><use href="#m" x="299.35" y="395.55"/><use href="#m" x="306.25" y="398.5"/><use href="#m" x="313.16" y="401.44"/><use href="#m" x="320.06" y="404.39"/><use href="#m" x="326.97" y="395.55"/><use href="#m" x="333.87" y="395.55"/><use href="#m" x="354.58" y="422.06"/><use href="#m" x="361.49" y="410.28"/><use href="#m" x="368.39" y="389.66"/><use href="#m" x="375.3" y="395.55"/><use href="#m" x="382.2" y="422.06"/></g>
</g>
<path d="M244.12,433.85V316M271.73,433.85V316M299.35,433.85V316M326.97,433.85V316M354.58,433.85V316M216.5,404.39H382.2M216.5,374.93H382.2M216.5,345.46H382.2" fill="none" stroke="#000" stroke-width="1.3" stroke-dasharray="0.9 2.2"/>
<rect x="216.5" y="316" width="165.7" height="117.85" fill="none" stroke="#000" stroke-width="1.4"/>
<g fill="#000" font-size="9.7" font-weight="bold" stroke="#000" stroke-width="0.15">
<g text-anchor="middle"><text x="216.5" y="444.9">0</text><text x="244.12" y="444.9">4</text><text x="271.73" y="444.9">8</text><text x="299.35" y="444.9">12</text><text x="326.97" y="444.9">16</text><text x="354.58" y="444.9">20</text><text x="382.2" y="444.9">24</text></g>
<g text-anchor="end"><text x="212" y="436.45">0</text><text x="212" y="406.99">10</text><text x="212" y="377.53">20</text><text x="212" y="348.06">30</text></g>
<clipPath id="t21"><rect x="186.5" y="445.85" width="225.7" height="13.15"/></clipPath><text x="299.35" y="459.05" font-size="10.2" text-anchor="middle" stroke-width="0.1" clip-path="url(#t21)">Kwai Chung</text>
</g>
</g>
<g>
<clipPath id="c22"><rect x="409.5" y="316" width="165.7" height="117.85"/></clipPath>
<path d="M409.5,433.85v-4.1M409.5,316v4.1M423.31,433.85v-4.1M423.31,316v4.1M437.12,433.85v-4.1M437.12,316v4.1M450.93,433.85v-4.1M450.93,316v4.1M464.73,433.85v-4.1M464.73,316v4.1M478.54,433.85v-4.1M478.54,316v4.1M492.35,433.85v-4.1M492.35,316v4.1M506.16,433.85v-4.1M506.16,316v4.1M519.97,433.85v-4.1M519.97,316v4.1M533.77,433.85v-4.1M533.77,316v4.1M547.58,433.85v-4.1M547.58,316v4.1M561.39,433.85v-4.1M561.39,316v4.1M575.2,433.85v-4.1M575.2,316v4.1M409.5,433.85h4.1M575.2,433.85h-4.1M409.5,419.12h4.1M575.2,419.12h-4.1M409.5,404.39h4.1M575.2,404.39h-4.1M409.5,389.66h4.1M575.2,389.66h-4.1M409.5,374.93h4.1M575.2,374.93h-4.1M409.5,360.19h4.1M575.2,360.19h-4.1M409.5,345.46h4.1M575.2,345.46h-4.1M409.5,330.73h4.1M575.2,330.73h-4.1M409.5,316h4.1M575.2,316h-4.1" fill="none" stroke="#ff0000" stroke-width="1.1"/>
<g clip-path="url(#c22)" fill="none" stroke-linejoin="round">
<g stroke="#00ffff"><path d="M409.5,401.44L416.4,401.44L423.31,401.44L430.21,407.33L437.12,416.17L444.02,416.17L450.93,419.12L457.83,416.17L464.73,404.39L471.64,395.55L478.54,380.82L485.45,374.93L492.35,371.98L499.25,377.87L506.16,383.76L513.06,383.76L519.97,392.6L526.87,383.76L533.77,389.66L540.68,383.76L547.58,386.71L554.49,395.55L561.39,398.5L568.3,404.39L575.2,401.44" stroke-width="1.1"/><use href="#m" x="409.5" y="401.44"/><use href="#m" x="416.4" y="401.44"/><use href="#m" x="423.31" y="401.44"/><use href="#m" x="430.21" y="407.33"/><use href="#m" x="437.12" y="416.17"/><use href="#m" x="444.02" y="416.17"/><use href="#m" x="450.93" y="419.12"/><use href="#m" x="457.83" y="416.17"/><use href="#m" x="464.73" y="404.39"/><use href="#m" x="471.64" y="395.55"/><use href="#m" x="478.54" y="380.82"/><use href="#m" x="485.45" y="374.93"/><use href="#m" x="492.35" y="371.98"/><use href="#m" x="499.25" y="377.87"/><use href="#m" x="506.16" y="383.76"/><use href="#m" x="513.06" y="383.76"/><use href="#m" x="519.97" y="392.6"/><use href="#m" x="526.87" y="383.76"/><use href="#m" x="533.77" y="389.66"/><use href="#m" x="540.68" y="383.76"/><use href="#m" x="547.58" y="386.71"/><use href="#m" x="554.49" y="395.55"/><use href="#m" x="561.39" y="398.5"/><use href="#m" x="568.3" y="404.39"/><use href="#m" x="575.2" y="401.44"/></g>
<g stroke="#00ff00"><path d="M409.5,401.44L416.4,407.33L423.31,410.28L430.21,419.12L437.12,413.23L444.02,413.23L450.93,419.12L457.83,413.23L464.73,407.33L471.64,395.55L478.54,395.55L485.45,395.55L492.35,398.5L499.25,401.44L506.16,401.44L513.06,392.6L519.97,392.6L526.87,398.5L533.77,392.6L540.68,404.39L547.58,401.44L554.49,404.39L561.39,407.33L568.3,407.33L575.2,410.28" stroke-width="1.1"/><use href="#m" x="409.5" y="401.44"/><use href="#m" x="416.4" y="407.33"/><use href="#m" x="423.31" y="410.28"/><use href="#m" x="430.21" y="419.12"/><use href="#m" x="437.12" y="413.23"/><use href="#m" x="444.02" y="413.23"/><use href="#m" x="450.93" y="419.12"/><use href="#m" x="457.83" y="413.23"/><use href="#m" x="464.73" y="407.33"/><use href="#m" x="471.64" y="395.55"/><use href="#m" x="478.54" y="395.55"/><use href="#m" x="485.45" y="395.55"/><use href="#m" x="492.35" y="398.5"/><use href="#m" x="499.25" y="401.44"/><use href="#m" x="506.16" y="401.44"/><use href="#m" x="513.06" y="392.6"/><use href="#m" x="519.97" y="392.6"/><use href="#m" x="526.87" y="398.5"/><use href="#m" x="533.77" y="392.6"/><use href="#m" x="540.68" y="404.39"/><use href="#m" x="547.58" y="401.44"/><use href="#m" x="554.49" y="404.39"/><use href="#m" x="561.39" y="407.33"/><use href="#m" x="568.3" y="407.33"/><use href="#m" x="575.2" y="410.28"/></g>
<g stroke="#0000ff"><path d="M409.5,410.28L416.4,416.17L423.31,422.06L430.21,419.12L437.12,425.01L444.02,422.06L450.93,419.12L457.83,416.17L464.73,416.17L471.64,410.28L478.54,410.28L485.45,407.33L492.35,407.33L499.25,407.33L506.16,407.33L513.06,404.39L519.97,410.28L526.87,410.28L533.77,410.28L540.68,407.33L547.58,404.39L554.49,401.44L561.39,413.23L568.3,416.17L575.2,413.23" stroke-width="1.1"/><use href="#m" x="409.5" y="410.28"/><use href="#m" x="416.4" y="416.17"/><use href="#m" x="423.31" y="422.06"/><use href="#m" x="430.21" y="419.12"/><use href="#m" x="437.12" y="425.01"/><use href="#m" x="444.02" y="422.06"/><use href="#m" x="450.93" y="419.12"/><use href="#m" x="457.83" y="416.17"/><use href="#m" x="464.73" y="416.17"/><use href="#m" x="471.64" y="410.28"/><use href="#m" x="478.54" y="410.28"/><use href="#m" x="485.45" y="407.33"/><use href="#m" x="492.35" y="407.33"/><use href="#m" x="499.25" y="407.33"/><use href="#m" x="506.16" y="407.33"/><use href="#m" x="513.06" y="404.39"/><use href="#m" x="519.97" y="410.28"/><use href="#m" x="526.87" y="410.28"/><use href="#m" x="533.77" y="410.28"/><use href="#m" x="540.68" y="407.33"/><use href="#m" x="547.58" y="404.39"/><use href="#m" x="554.49" y="401.44"/><use href="#m" x="561.39" y="413.23"/><use href="#m" x="568.3" y="416.17"/><use href="#m" x="575.2" y="413.23"/></g>
<g stroke="#ff0000"><path d="M409.5,413.23L416.4,416.17L423.31,419.12L430.21,425.01L437.12,419.12L444.02,422.06L450.93,425.01L457.83,422.06L464.73,413.23L471.64,401.44L478.54,401.44L485.45,398.5L492.35,392.6L499.25,398.5L506.16,401.44L513.06,392.6L519.97,410.28L526.87,401.44L533.77,398.5L540.68,404.39L547.58,404.39L554.49,389.66L561.39,395.55L568.3,407.33L575.2,410.28" stroke-width="1.1"/><use href="#m" x="409.5" y="413.23"/><use href="#m" x="416.4" y="416.17"/><use href="#m" x="423.31" y="419.12"/><use href="#m" x="430.21" y="425.01"/><use href="#m" x="437.12" y="419.12"/><use href="#m" x="444.02" y="422.06"/><use href="#m" x="450.93" y="425.01"/><use href="#m" x="457.83" y="422.06"/><use href="#m" x="464.73" y="413.23"/><use href="#m" x="471.64" y="401.44"/><use href="#m" x="478.54" y="401.44"/><use href="#m" x="485.45" y="398.5"/><use href="#m" x="492.35" y="392.6"/><use href="#m" x="499.25" y="398.5"/><use href="#m" x="506.16" y="401.44"/><use href="#m" x="513.06" y="392.6"/><use href="#m" x="519.97" y="410.28"/><use href="#m" x="526.87" y="401.44"/><use href="#m" x="533.77" y="398.5"/><use href="#m" x="540.68" y="404.39"/><use href="#m" x="547.58" y="404.39"/><use href="#m" x="554.49" y="389.66"/><use href="#m" x="561.39" y="395.55"/><use href="#m" x="568.3" y="407.33"/><use href="#m" x="575.2" y="410.28"/></g>
</g>
<path d="M437.12,433.85V316M464.73,433.85V316M492.35,433.85V316M519.97,433.85V316M547.58,433.85V316M409.5,404.39H575.2M409.5,374.93H575.2M409.5,345.46H575.2" fill="none" stroke="#000" stroke-width="1.3" stroke-dasharray="0.9 2.2"/>
<rect x="409.5" y="316" width="165.7" height="117.85" fill="none" stroke="#ff0000" stroke-width="1.4"/>
<g fill="#ff0000" font-size="9.7" font-weight="bold" stroke="#ff0000" stroke-width="0.15">
<g text-anchor="middle"><text x="409.5" y="444.9">0</text><text x="437.12" y="444.9">4</text><text x="464.73" y="444.9">8</text><text x="492.35" y="444.9">12</text><text x="519.97" y="444.9">16</text><text x="547.58" y="444.9">20</text><text x="575.2" y="444.9">24</text></g>
<g text-anchor="end"><text x="405" y="436.45">0</text><text x="405" y="406.99">10</text><text x="405" y="377.53">20</text><text x="405" y="348.06">30</text></g>
<clipPath id="t22"><rect x="379.5" y="445.85" width="225.7" height="13.15"/></clipPath><text x="492.35" y="459.05" font-size="10.2" text-anchor="middle" stroke-width="0.1" clip-path="url(#t22)">Mong Kok</text>
</g>
</g>
<g>
<clipPath id="c23"><rect x="602.5" y="316" width="165.7" height="117.85"/></clipPath>
<path d="M602.5,433.85v-4.1M602.5,316v4.1M616.31,433.85v-4.1M616.31,316v4.1M630.12,433.85v-4.1M630.12,316v4.1M643.92,433.85v-4.1M643.92,316v4.1M657.73,433.85v-4.1M657.73,316v4.1M671.54,433.85v-4.1M671.54,316v4.1M685.35,433.85v-4.1M685.35,316v4.1M699.16,433.85v-4.1M699.16,316v4.1M712.97,433.85v-4.1M712.97,316v4.1M726.77,433.85v-4.1M726.77,316v4.1M740.58,433.85v-4.1M740.58,316v4.1M754.39,433.85v-4.1M754.39,316v4.1M768.2,433.85v-4.1M768.2,316v4.1M602.5,433.85h4.1M768.2,433.85h-4.1M602.5,419.12h4.1M768.2,419.12h-4.1M602.5,404.39h4.1M768.2,404.39h-4.1M602.5,389.66h4.1M768.2,389.66h-4.1M602.5,374.93h4.1M768.2,374.93h-4.1M602.5,360.19h4.1M768.2,360.19h-4.1M602.5,345.46h4.1M768.2,345.46h-4.1M602.5,330.73h4.1M768.2,330.73h-4.1M602.5,316h4.1M768.2,316h-4.1" fill="none" stroke="#000" stroke-width="1.1"/>
<g clip-path="url(#c23)" fill="none" stroke-linejoin="round">
<g stroke="#00ffff"><path d="M602.5,404.39L609.4,401.44L616.31,383.76L623.21,401.44L630.12,398.5L637.02,395.55L643.92,401.44L650.83,404.39L657.73,404.39L664.64,389.66L671.54,374.93L678.45,342.52L685.35,351.36L692.25,366.09L699.16,383.76L706.06,357.25L712.97,345.46L719.87,371.98L726.77,357.25L733.68,383.76L740.58,369.03L747.49,398.5L754.39,380.82L761.3,386.71L768.2,404.39" stroke-width="1.1"/><use href="#m" x="602.5" y="404.39"/><use href="#m" x="609.4" y="401.44"/><use href="#m" x="616.31" y="383.76"/><use href="#m" x="623.21" y="401.44"/><use href="#m" x="630.12" y="398.5"/><use href="#m" x="637.02" y="395.55"/><use href="#m" x="643.92" y="401.44"/><use href="#m" x="650.83" y="404.39"/><use href="#m" x="657.73" y="404.39"/><use href="#m" x="664.64" y="389.66"/><use href="#m" x="671.54" y="374.93"/><use href="#m" x="678.45" y="342.52"/><use href="#m" x="685.35" y="351.36"/><use href="#m" x="692.25" y="366.09"/><use href="#m" x="699.16" y="383.76"/><use href="#m" x="706.06" y="357.25"/><use href="#m" x="712.97" y="345.46"/><use href="#m" x="719.87" y="371.98"/><use href="#m" x="726.77" y="357.25"/><use href="#m" x="733.68" y="383.76"/><use href="#m" x="740.58" y="369.03"/><use href="#m" x="747.49" y="398.5"/><use href="#m" x="754.39" y="380.82"/><use href="#m" x="761.3" y="386.71"/><use href="#m" x="768.2" y="404.39"/></g>
<g stroke="#00ff00"><path d="M602.5,407.33L609.4,407.33L616.31,398.5L623.21,401.44L630.12,407.33L637.02,407.33L643.92,410.28L650.83,416.17L657.73,410.28L664.64,383.76L671.54,392.6L678.45,383.76L685.35,383.76L692.25,392.6L699.16,392.6L706.06,363.14L712.97,363.14L719.87,354.3L726.77,360.19L733.68,377.87L740.58,386.71L747.49,389.66L754.39,404.39L761.3,407.33L768.2,401.44" stroke-width="1.1"/><use href="#m" x="602.5" y="407.33"/><use href="#m" x="609.4" y="407.33"/><use href="#m" x="616.31" y="398.5"/><use href="#m" x="623.21" y="401.44"/><use href="#m" x="630.12" y="407.33"/><use href="#m" x="637.02" y="407.33"/><use href="#m" x="643.92" y="410.28"/><use href="#m" x="650.83" y="416.17"/><use href="#m" x="657.73" y="410.28"/><use href="#m" x="664.64" y="383.76"/><use href="#m" x="671.54" y="392.6"/><use href="#m" x="678.45" y="383.76"/><use href="#m" x="685.35" y="383.76"/><use href="#m" x="692.25" y="392.6"/><use href="#m" x="699.16" y="392.6"/><use href="#m" x="706.06" y="363.14"/><use href="#m" x="712.97" y="363.14"/><use href="#m" x="719.87" y="354.3"/><use href="#m" x="726.77" y="360.19"/><use href="#m" x="733.68" y="377.87"/><use href="#m" x="740.58" y="386.71"/><use href="#m" x="747.49" y="389.66"/><use href="#m" x="754.39" y="404.39"/><use href="#m" x="761.3" y="407.33"/><use href="#m" x="768.2" y="401.44"/></g>
<g stroke="#0000ff"><path d="M602.5,401.44L609.4,410.28L616.31,419.12L623.21,422.06L630.12,425.01L637.02,427.96L643.92,430.9L650.83,419.12L657.73,419.12L664.64,413.23L671.54,410.28L678.45,389.66L685.35,404.39L692.25,398.5L699.16,404.39L706.06,410.28L712.97,398.5L719.87,389.66L726.77,401.44L733.68,413.23L740.58,422.06L747.49,386.71L754.39,410.28L761.3,413.23L768.2,410.28" stroke-width="1.1"/><use href="#m" x="602.5" y="401.44"/><use href="#m" x="609.4" y="410.28"/><use href="#m" x="616.31" y="419.12"/><use href="#m" x="623.21" y="422.06"/><use href="#m" x="630.12" y="425.01"/><use href="#m" x="637.02" y="427.96"/><use href="#m" x="643.92" y="430.9"/><use href="#m" x="650.83" y="419.12"/><use href="#m" x="657.73" y="419.12"/><use href="#m" x="664.64" y="413.23"/><use href="#m" x="671.54" y="410.28"/><use href="#m" x="678.45" y="389.66"/><use href="#m" x="685.35" y="404.39"/><use href="#m" x="692.25" y="398.5"/><use href="#m" x="699.16" y="404.39"/><use href="#m" x="706.06" y="410.28"/><use href="#m" x="712.97" y="398.5"/><use href="#m" x="719.87" y="389.66"/><use href="#m" x="726.77" y="401.44"/><use href="#m" x="733.68" y="413.23"/><use href="#m" x="740.58" y="422.06"/><use href="#m" x="747.49" y="386.71"/><use href="#m" x="754.39" y="410.28"/><use href="#m" x="761.3" y="413.23"/><use href="#m" x="768.2" y="410.28"/></g>
<g stroke="#ff0000"><path d="M602.5,410.28L609.4,407.33L616.31,419.12L623.21,427.96L630.12,425.01L637.02,416.17L643.92,407.33L650.83,416.17L657.73,413.23L664.64,398.5L671.54,404.39L678.45,383.76L685.35,377.87L692.25,366.09L699.16,357.25L706.06,369.03L712.97,389.66L719.87,392.6L726.77,377.87L733.68,389.66L740.58,383.76L747.49,386.71L754.39,398.5L761.3,401.44L768.2,410.28" stroke-width="1.1"/><use href="#m" x="602.5" y="410.28"/><use href="#m" x="609.4" y="407.33"/><use href="#m" x="616.31" y="419.12"/><use href="#m" x="623.21" y="427.96"/><use href="#m" x="630.12" y="425.01"/><use href="#m" x="637.02" y="416.17"/><use href="#m" x="643.92" y="407.33"/><use href="#m" x="650.83" y="416.17"/><use href="#m" x="657.73" y="413.23"/><use href="#m" x="664.64" y="398.5"/><use href="#m" x="671.54" y="404.39"/><use href="#m" x="678.45" y="383.76"/><use href="#m" x="685.35" y="377.87"/><use href="#m" x="692.25" y="366.09"/><use href="#m" x="699.16" y="357.25"/><use href="#m" x="706.06" y="369.03"/><use href="#m" x="712.97" y="389.66"/><use href="#m" x="719.87" y="392.6"/><use href="#m" x="726.77" y="377.87"/><use href="#m" x="733.68" y="389.66"/><use href="#m" x="740.58" y="383.76"/><use href="#m" x="747.49" y="386.71"/><use href="#m" x="754.39" y="398.5"/><use href="#m" x="761.3" y="401.44"/><use href="#m" x="768.2" y="410.28"/></g>
</g>
<path d="M630.12,433.85V316M657.73,433.85V316M685.35,433.85V316M712.97,433.85V316M740.58,433.85V316M602.5,404.39H768.2M602.5,374.93H768.2M602.5,345.46H768.2" fill="none" stroke="#000" stroke-width="1.3" stroke-dasharray="0.9 2.2"/>
<rect x="602.5" y="316" width="165.7" height="117.85" fill="none" stroke="#000" stroke-width="1.4"/>
<g fill="#000" font-size="9.7" font-weight="bold" stroke="#000" stroke-width="0.15">
<g text-anchor="middle"><text x="602.5" y="444.9">0</text><text x="630.12" y="444.9">4</text><text x="657.73" y="444.9">8</text><text x="685.35" y="444.9">12</text><text x="712.97" y="444.9">16</text><text x="740.58" y="444.9">20</text><text x="768.2" y="444.9">24</text></g>
<g text-anchor="end"><text x="598" y="436.45">0</text><text x="598" y="406.99">10</text><text x="598" y="377.53">20</text><text x="598" y="348.06">30</text></g>
<clipPath id="t23"><rect x="572.5" y="445.85" width="225.7" height="13.15"/></clipPath><text x="685.35" y="459.05" font-size="10.2" text-anchor="middle" stroke-width="0.1" clip-path="url(#t23)">Kwun Tong</text>
</g>
</g>
<g>
<clipPath id="c24"><rect x="795.5" y="316" width="165.7" height="117.85"/></clipPath>
<path d="M795.5,433.85v-4.1M795.5,316v4.1M809.31,433.85v-4.1M809.31,316v4.1M823.12,433.85v-4.1M823.12,316v4.1M836.92,433.85v-4.1M836.92,316v4.1M850.73,433.85v-4.1M850.73,316v4.1M864.54,433.85v-4.1M864.54,316v4.1M878.35,433.85v-4.1M878.35,316v4.1M892.16,433.85v-4.1M892.16,316v4.1M905.97,433.85v-4.1M905.97,316v4.1M919.77,433.85v-4.1M919.77,316v4.1M933.58,433.85v-4.1M933.58,316v4.1M947.39,433.85v-4.1M947.39,316v4.1M961.2,433.85v-4.1M961.2,316v4.1M795.5,433.85h4.1M961.2,433.85h-4.1M795.5,419.12h4.1M961.2,419.12h-4.1M795.5,404.39h4.1M961.2,404.39h-4.1M795.5,389.66h4.1M961.2,389.66h-4.1M795.5,374.93h4.1M961.2,374.93h-4.1M795.5,360.19h4.1M961.2,360.19h-4.1M795.5,345.46h4.1M961.2,345.46h-4.1M795.5,330.73h4.1M961.2,330.73h-4.1M795.5,316h4.1M961.2,316h-4.1" fill="none" stroke="#000" stroke-width="1.1"/>
<g clip-path="url(#c24)" fill="none" stroke-linejoin="round">
<g stroke="#00ffff"><path d="M795.5,401.44L802.4,395.55L809.31,392.6L816.21,395.55L823.12,407.33L830.02,413.23L836.92,404.39L843.83,401.44L850.73,404.39L857.64,407.33L864.54,404.39L871.45,389.66L878.35,386.71L885.25,389.66L892.16,392.6L899.06,395.55L905.97,398.5L912.87,389.66L919.77,377.87L926.68,371.98L933.58,386.71L940.49,395.55L947.39,404.39L954.3,410.28L961.2,407.33" stroke-width="1.1"/><use href="#m" x="795.5" y="401.44"/><use href="#m" x="802.4" y="395.55"/><use href="#m" x="809.31" y="392.6"/><use href="#m" x="816.21" y="395.55"/><use href="#m" x="823.12" y="407.33"/><use href="#m" x="830.02" y="413.23"/><use href="#m" x="836.92" y="404.39"/><use href="#m" x="843.83" y="401.44"/><use href="#m" x="850.73" y="404.39"/><use href="#m" x="857.64" y="407.33"/><use href="#m" x="864.54" y="404.39"/><use href="#m" x="871.45" y="389.66"/><use href="#m" x="878.35" y="386.71"/><use href="#m" x="885.25" y="389.66"/><use href="#m" x="892.16" y="392.6"/><use href="#m" x="899.06" y="395.55"/><use href="#m" x="905.97" y="398.5"/><use href="#m" x="912.87" y="389.66"/><use href="#m" x="919.77" y="377.87"/><use href="#m" x="926.68" y="371.98"/><use href="#m" x="933.58" y="386.71"/><use href="#m" x="940.49" y="395.55"/><use href="#m" x="947.39" y="404.39"/><use href="#m" x="954.3" y="410.28"/><use href="#m" x="961.2" y="407.33"/></g>
<g stroke="#00ff00"><path d="M795.5,407.33L802.4,398.5L809.31,386.71L816.21,392.6L823.12,413.23L830.02,413.23L836.92,401.44L843.83,395.55L850.73,401.44L857.64,407.33L864.54,404.39L871.45,401.44L878.35,401.44L885.25,398.5L892.16,392.6L899.06,386.71L905.97,392.6L912.87,395.55L919.77,383.76L926.68,383.76L933.58,401.44L940.49,404.39L947.39,410.28L954.3,413.23L961.2,410.28" stroke-width="1.1"/><use href="#m" x="795.5" y="407.33"/><use href="#m" x="802.4" y="398.5"/><use href="#m" x="809.31" y="386.71"/><use href="#m" x="816.21" y="392.6"/><use href="#m" x="823.12" y="413.23"/><use href="#m" x="830.02" y="413.23"/><use href="#m" x="836.92" y="401.44"/><use href="#m" x="843.83" y="395.55"/><use href="#m" x="850.73" y="401.44"/><use href="#m" x="857.64" y="407.33"/><use href="#m" x="864.54" y="404.39"/><use href="#m" x="871.45" y="401.44"/><use href="#m" x="878.35" y="401.44"/><use href="#m" x="885.25" y="398.5"/><use href="#m" x="892.16" y="392.6"/><use href="#m" x="899.06" y="386.71"/><use href="#m" x="905.97" y="392.6"/><use href="#m" x="912.87" y="395.55"/><use href="#m" x="919.77" y="383.76"/><use href="#m" x="926.68" y="383.76"/><use href="#m" x="933.58" y="401.44"/><use href="#m" x="940.49" y="404.39"/><use href="#m" x="947.39" y="410.28"/><use href="#m" x="954.3" y="413.23"/><use href="#m" x="961.2" y="410.28"/></g>
<g stroke="#0000ff"><path d="M795.5,410.28L802.4,407.33L809.31,407.33L816.21,404.39L823.12,407.33L830.02,413.23L836.92,407.33L843.83,404.39L850.73,407.33L857.64,410.28L864.54,401.44L871.45,404.39L878.35,407.33L885.25,410.28L892.16,407.33L899.06,401.44L905.97,407.33L912.87,410.28L919.77,416.17L926.68,425.01L933.58,416.17L940.49,410.28L947.39,419.12L954.3,416.17L961.2,410.28" stroke-width="1.1"/><use href="#m" x="795.5" y="410.28"/><use href="#m" x="802.4" y="407.33"/><use href="#m" x="809.31" y="407.33"/><use href="#m" x="816.21" y="404.39"/><use href="#m" x="823.12" y="407.33"/><use href="#m" x="830.02" y="413.23"/><use href="#m" x="836.92" y="407.33"/><use href="#m" x="843.83" y="404.39"/><use href="#m" x="850.73" y="407.33"/><use href="#m" x="857.64" y="410.28"/><use href="#m" x="864.54" y="401.44"/><use href="#m" x="871.45" y="404.39"/><use href="#m" x="878.35" y="407.33"/><use href="#m" x="885.25" y="410.28"/><use href="#m" x="892.16" y="407.33"/><use href="#m" x="899.06" y="401.44"/><use href="#m" x="905.97" y="407.33"/><use href="#m" x="912.87" y="410.28"/><use href="#m" x="919.77" y="416.17"/><use href="#m" x="926.68" y="425.01"/><use href="#m" x="933.58" y="416.17"/><use href="#m" x="940.49" y="410.28"/><use href="#m" x="947.39" y="419.12"/><use href="#m" x="954.3" y="416.17"/><use href="#m" x="961.2" y="410.28"/></g>
<g stroke="#ff0000"><path d="M795.5,410.28L802.4,404.39L809.31,407.33L816.21,416.17L823.12,419.12L830.02,422.06L836.92,410.28L843.83,401.44L850.73,404.39L857.64,407.33L864.54,416.17L871.45,419.12L878.35,407.33L885.25,383.76L892.16,377.87L899.06,392.6L905.97,401.44L912.87,398.5L919.77,398.5L926.68,404.39L933.58,407.33L940.49,416.17L947.39,413.23L954.3,404.39L961.2,413.23" stroke-width="1.1"/><use href="#m" x="795.5" y="410.28"/><use href="#m" x="802.4" y="404.39"/><use href="#m" x="809.31" y="407.33"/><use href="#m" x="816.21" y="416.17"/><use href="#m" x="823.12" y="419.12"/><use href="#m" x="830.02" y="422.06"/><use href="#m" x="836.92" y="410.28"/><use href="#m" x="843.83" y="401.44"/><use href="#m" x="850.73" y="404.39"/><use href="#m" x="857.64" y="407.33"/><use href="#m" x="864.54" y="416.17"/><use href="#m" x="871.45" y="419.12"/><use href="#m" x="878.35" y="407.33"/><use href="#m" x="885.25" y="383.76"/><use href="#m" x="892.16" y="377.87"/><use href="#m" x="899.06" y="392.6"/><use href="#m" x="905.97" y="401.44"/><use href="#m" x="912.87" y="398.5"/><use href="#m" x="919.77" y="398.5"/><use href="#m" x="926.68" y="404.39"/><use href="#m" x="933.58" y="407.33"/><use href="#m" x="940.49" y="416.17"/><use href="#m" x="947.39" y="413.23"/><use href="#m" x="954.3" y="404.39"/><use href="#m" x="961.2" y="413.23"/></g>
</g>
<path d="M823.12,433.85V316M850.73,433.85V316M878.35,433.85V316M905.97,433.85V316M933.58,433.85V316M795.5,404.39H961.2M795.5,374.93H961.2M795.5,345.46H961.2" fill="none" stroke="#000" stroke-width="1.3" stroke-dasharray="0.9 2.2"/>
<rect x="795.5" y="316" width="165.7" height="117.85" fill="none" stroke="#000" stroke-width="1.4"/>
<g fill="#000" font-size="9.7" font-weight="bold" stroke="#000" stroke-width="0.15">
<g text-anchor="middle"><text x="795.5" y="444.9">0</text><text x="823.12" y="444.9">4</text><text x="850.73" y="444.9">8</text><text x="878.35" y="444.9">12</text><text x="905.97" y="444.9">16</text><text x="933.58" y="444.9">20</text><text x="961.2" y="444.9">24</text></g>
<g text-anchor="end"><text x="791" y="436.45">0</text><text x="791" y="406.99">10</text><text x="791" y="377.53">20</text><text x="791" y="348.06">30</text></g>
<clipPath id="t24"><rect x="765.5" y="445.85" width="225.7" height="13.15"/></clipPath><text x="878.35" y="459.05" font-size="10.2" text-anchor="middle" stroke-width="0.1" clip-path="url(#t24)">Tseung Kwan O</text>
</g>
</g>
<g>
<clipPath id="c30"><rect x="23.5" y="464" width="165.7" height="117.85"/></clipPath>
<path d="M23.5,581.85v-4.1M23.5,464v4.1M37.31,581.85v-4.1M37.31,464v4.1M51.12,581.85v-4.1M51.12,464v4.1M64.92,581.85v-4.1M64.92,464v4.1M78.73,581.85v-4.1M78.73,464v4.1M92.54,581.85v-4.1M92.54,464v4.1M106.35,581.85v-4.1M106.35,464v4.1M120.16,581.85v-4.1M120.16,464v4.1M133.97,581.85v-4.1M133.97,464v4.1M147.77,581.85v-4.1M147.77,464v4.1M161.58,581.85v-4.1M161.58,464v4.1M175.39,581.85v-4.1M175.39,464v4.1M189.2,581.85v-4.1M189.2,464v4.1M23.5,581.85h4.1M189.2,581.85h-4.1M23.5,567.12h4.1M189.2,567.12h-4.1M23.5,552.39h4.1M189.2,552.39h-4.1M23.5,537.66h4.1M189.2,537.66h-4.1M23.5,522.93h4.1M189.2,522.93h-4.1M23.5,508.19h4.1M189.2,508.19h-4.1M23.5,493.46h4.1M189.2,493.46h-4.1M23.5,478.73h4.1M189.2,478.73h-4.1M23.5,464h4.1M189.2,464h-4.1" fill="none" stroke="#000" stroke-width="1.1"/>
<g clip-path="url(#c30)" fill="none" stroke-linejoin="round">
<g stroke="#00ffff"><path d="M23.5,567.12L30.4,564.17L37.31,561.23L44.21,558.28L51.12,555.33L58.02,564.17L64.92,567.12L71.83,555.33L78.73,552.39L85.64,552.39L92.54,555.33L99.45,555.33L106.35,552.39L113.25,552.39L120.16,549.44L127.06,549.44L133.97,555.33L140.87,552.39L147.77,552.39L154.68,555.33L161.58,555.33L168.49,558.28L175.39,573.01L182.3,570.07L189.2,552.39" stroke-width="1.1"/><use href="#m" x="23.5" y="567.12"/><use href="#m" x="30.4" y="564.17"/><use href="#m" x="37.31" y="561.23"/><use href="#m" x="44.21" y="558.28"/><use href="#m" x="51.12" y="555.33"/><use href="#m" x="58.02" y="564.17"/><use href="#m" x="64.92" y="567.12"/><use href="#m" x="71.83" y="555.33"/><use href="#m" x="78.73" y="552.39"/><use href="#m" x="85.64" y="552.39"/><use href="#m" x="92.54" y="555.33"/><use href="#m" x="99.45" y="555.33"/><use href="#m" x="106.35" y="552.39"/><use href="#m" x="113.25" y="552.39"/><use href="#m" x="120.16" y="549.44"/><use href="#m" x="127.06" y="549.44"/><use href="#m" x="133.97" y="555.33"/><use href="#m" x="140.87" y="552.39"/><use href="#m" x="147.77" y="552.39"/><use href="#m" x="154.68" y="555.33"/><use href="#m" x="161.58" y="555.33"/><use href="#m" x="168.49" y="558.28"/><use href="#m" x="175.39" y="573.01"/><use href="#m" x="182.3" y="570.07"/><use href="#m" x="189.2" y="552.39"/></g>
<g stroke="#00ff00"><path d="M23.5,552.39L30.4,555.33L37.31,578.9L44.21,552.39L51.12,543.55L58.02,564.17L64.92,558.28L71.83,549.44L78.73,564.17L85.64,564.17L92.54,564.17L99.45,564.17L106.35,555.33L113.25,549.44L120.16,552.39L127.06,555.33L133.97,546.5L140.87,549.44L147.77,555.33L154.68,549.44L161.58,555.33L168.49,558.28L175.39,561.23L182.3,567.12L189.2,555.33" stroke-width="1.1"/><use href="#m" x="23.5" y="552.39"/><use href="#m" x="30.4" y="555.33"/><use href="#m" x="37.31" y="578.9"/><use href="#m" x="44.21" y="552.39"/><use href="#m" x="51.12" y="543.55"/><use href="#m" x="58.02" y="564.17"/><use href="#m" x="64.92" y="558.28"/><use href="#m" x="71.83" y="549.44"/><use href="#m" x="78.73" y="564.17"/><use href="#m" x="85.64" y="564.17"/><use href="#m" x="92.54" y="564.17"/><use href="#m" x="99.45" y="564.17"/><use href="#m" x="106.35" y="555.33"/><use href="#m" x="113.25" y="549.44"/><use href="#m" x="120.16" y="552.39"/><use href="#m" x="127.06" y="555.33"/><use href="#m" x="133.97" y="546.5"/><use href="#m" x="140.87" y="549.44"/><use href="#m" x="147.77" y="555.33"/><use href="#m" x="154.68" y="549.44"/><use href="#m" x="161.58" y="555.33"/><use href="#m" x="168.49" y="558.28"/><use href="#m" x="175.39" y="561.23"/><use href="#m" x="182.3" y="567.12"/><use href="#m" x="189.2" y="555.33"/></g>
<g stroke="#0000ff"><path d="M23.5,555.33L30.4,546.5L37.31,552.39L44.21,567.12L51.12,549.44L58.02,561.23L64.92,573.01L71.83,570.07L78.73,575.96L85.64,564.17L92.54,549.44L99.45,558.28L106.35,561.23L113.25,561.23L120.16,558.28L127.06,555.33L133.97,561.23L140.87,567.12L147.77,570.07L154.68,570.07L161.58,567.12L168.49,558.28L175.39,561.23L182.3,578.9L189.2,561.23" stroke-width="1.1"/><use href="#m" x="23.5" y="555.33"/><use href="#m" x="30.4" y="546.5"/><use href="#m" x="37.31" y="552.39"/><use href="#m" x="44.21" y="567.12"/><use href="#m" x="51.12" y="549.44"/><use href="#m" x="58.02" y="561.23"/><use href="#m" x="64.92" y="573.01"/><use href="#m" x="71.83" y="570.07"/><use href="#m" x="78.73" y="575.96"/><use href="#m" x="85.64" y="564.17"/><use href="#m" x="92.54" y="549.44"/><use href="#m" x="99.45" y="558.28"/><use href="#m" x="106.35" y="561.23"/><use href="#m" x="113.25" y="561.23"/><use href="#m" x="120.16" y="558.28"/><use href="#m" x="127.06" y="555.33"/><use href="#m" x="133.97" y="561.23"/><use href="#m" x="140.87" y="567.12"/><use href="#m" x="147.77" y="570.07"/><use href="#m" x="154.68" y="570.07"/><use href="#m" x="161.58" y="567.12"/><use href="#m" x="168.49" y="558.28"/><use href="#m" x="175.39" y="561.23"/><use href="#m" x="182.3" y="578.9"/><use href="#m" x="189.2" y="561.23"/></g>
<g stroke="#ff0000"><path d="M23.5,561.23L30.4,549.44L37.31,581.85L44.21,580.38L51.12,561.23L58.02,570.07L64.92,561.23L71.83,561.23L78.73,552.39L85.64,543.55L92.54,546.5L99.45,545.02L106.35,546.5L113.25,542.08L120.16,542.08" stroke-width="1.1"/><use href="#m" x="23.5" y="561.23"/><use href="#m" x="30.4" y="549.44"/><use href="#m" x="37.31" y="581.85"/><use href="#m" x="44.21" y="580.38"/><use href="#m" x="51.12" y="561.23"/><use href="#m" x="58.02" y="570.07"/><use href="#m" x="64.92" y="561.23"/><use href="#m" x="71.83" y="561.23"/><use href="#m" x="78.73" y="552.39"/><use href="#m" x="85.64" y="543.55"/><use href="#m" x="92.54" y="546.5"/><use href="#m" x="99.45" y="545.02"/><use href="#m" x="106.35" y="546.5"/><use href="#m" x="113.25" y="542.08"/><use href="#m" x="120.16" y="542.08"/></g>
</g>
<path d="M51.12,581.85V464M78.73,581.85V464M106.35,581.85V464M133.97,581.85V464M161.58,581.85V464M23.5,552.39H189.2M23.5,522.93H189.2M23.5,493.46H189.2" fill="none" stroke="#000" stroke-width="1.3" stroke-dasharray="0.9 2.2"/>
<rect x="23.5" y="464" width="165.7" height="117.85" fill="none" stroke="#000" stroke-width="1.4"/>
<g fill="#000" font-size="9.7" font-weight="bold" stroke="#000" stroke-width="0.15">
<g text-anchor="middle"><text x="23.5" y="592.9">0</text><text x="51.12" y="592.9">4</text><text x="78.73" y="592.9">8</text><text x="106.35" y="592.9">12</text><text x="133.97" y="592.9">16</text><text x="161.58" y="592.9">20</text><text x="189.2" y="592.9">24</text></g>
<g text-anchor="end"><text x="19" y="584.45">0</text><text x="19" y="554.99">10</text><text x="19" y="525.53">20</text><text x="19" y="496.06">30</text></g>
<clipPath id="t30"><rect x="-6.5" y="593.85" width="225.7" height="13.15"/></clipPath><text x="106.35" y="607.05" font-size="10.2" text-anchor="middle" stroke-width="0.1" clip-path="url(#t30)">Airport, Pump House 1</text>
</g>
</g>
<g>
<clipPath id="c31"><rect x="216.5" y="464" width="165.7" height="117.85"/></clipPath>
<path d="M216.5,581.85v-4.1M216.5,464v4.1M230.31,581.85v-4.1M230.31,464v4.1M244.12,581.85v-4.1M244.12,464v4.1M257.93,581.85v-4.1M257.93,464v4.1M271.73,581.85v-4.1M271.73,464v4.1M285.54,581.85v-4.1M285.54,464v4.1M299.35,581.85v-4.1M299.35,464v4.1M313.16,581.85v-4.1M313.16,464v4.1M326.97,581.85v-4.1M326.97,464v4.1M340.77,581.85v-4.1M340.77,464v4.1M354.58,581.85v-4.1M354.58,464v4.1M368.39,581.85v-4.1M368.39,464v4.1M382.2,581.85v-4.1M382.2,464v4.1M216.5,581.85h4.1M382.2,581.85h-4.1M216.5,567.12h4.1M382.2,567.12h-4.1M216.5,552.39h4.1M382.2,552.39h-4.1M216.5,537.66h4.1M382.2,537.66h-4.1M216.5,522.93h4.1M382.2,522.93h-4.1M216.5,508.19h4.1M382.2,508.19h-4.1M216.5,493.46h4.1M382.2,493.46h-4.1M216.5,478.73h4.1M382.2,478.73h-4.1M216.5,464h4.1M382.2,464h-4.1" fill="none" stroke="#000" stroke-width="1.1"/>
<g clip-path="url(#c31)" fill="none" stroke-linejoin="round">
<g stroke="#00ffff"><path d="M216.5,546.5L223.4,546.5L230.31,552.39L237.21,558.28L244.12,561.23L251.02,552.39L257.93,558.28L264.83,561.23L271.73,564.17L278.64,549.44L285.54,549.44L292.45,549.44L299.35,540.6L306.25,534.71L313.16,546.5L320.06,549.44L326.97,549.44L333.87,552.39L340.77,555.33L347.68,552.39L354.58,549.44L361.49,552.39L368.39,561.23L375.3,561.23L382.2,555.33" stroke-width="1.1"/><use href="#m" x="216.5" y="546.5"/><use href="#m" x="223.4" y="546.5"/><use href="#m" x="230.31" y="552.39"/><use href="#m" x="237.21" y="558.28"/><use href="#m" x="244.12" y="561.23"/><use href="#m" x="251.02" y="552.39"/><use href="#m" x="257.93" y="558.28"/><use href="#m" x="264.83" y="561.23"/><use href="#m" x="271.73" y="564.17"/><use href="#m" x="278.64" y="549.44"/><use href="#m" x="285.54" y="549.44"/><use href="#m" x="292.45" y="549.44"/><use href="#m" x="299.35" y="540.6"/><use href="#m" x="306.25" y="534.71"/><use href="#m" x="313.16" y="546.5"/><use href="#m" x="320.06" y="549.44"/><use href="#m" x="326.97" y="549.44"/><use href="#m" x="333.87" y="552.39"/><use href="#m" x="340.77" y="555.33"/><use href="#m" x="347.68" y="552.39"/><use href="#m" x="354.58" y="549.44"/><use href="#m" x="361.49" y="552.39"/><use href="#m" x="368.39" y="561.23"/><use href="#m" x="375.3" y="561.23"/><use href="#m" x="382.2" y="555.33"/></g>
<g stroke="#00ff00"><path d="M216.5,555.33L223.4,558.28L230.31,555.33L237.21,570.07L244.12,570.07L251.02,570.07L257.93,570.07L264.83,564.17L271.73,558.28L278.64,564.17L285.54,564.17L292.45,564.17L299.35,558.28L306.25,561.23L313.16,558.28L320.06,558.28L326.97,552.39L333.87,558.28L340.77,564.17L347.68,558.28L354.58,567.12L361.49,567.12L368.39,564.17L375.3,570.07L382.2,570.07" stroke-width="1.1"/><use href="#m" x="216.5" y="555.33"/><use href="#m" x="223.4" y="558.28"/><use href="#m" x="230.31" y="555.33"/><use href="#m" x="237.21" y="570.07"/><use href="#m" x="244.12" y="570.07"/><use href="#m" x="251.02" y="570.07"/><use href="#m" x="257.93" y="570.07"/><use href="#m" x="264.83" y="564.17"/><use href="#m" x="271.73" y="558.28"/><use href="#m" x="278.64" y="564.17"/><use href="#m" x="285.54" y="564.17"/><use href="#m" x="292.45" y="564.17"/><use href="#m" x="299.35" y="558.28"/><use href="#m" x="306.25" y="561.23"/><use href="#m" x="313.16" y="558.28"/><use href="#m" x="320.06" y="558.28"/><use href="#m" x="326.97" y="552.39"/><use href="#m" x="333.87" y="558.28"/><use href="#m" x="340.77" y="564.17"/><use href="#m" x="347.68" y="558.28"/><use href="#m" x="354.58" y="567.12"/><use href="#m" x="361.49" y="567.12"/><use href="#m" x="368.39" y="564.17"/><use href="#m" x="375.3" y="570.07"/><use href="#m" x="382.2" y="570.07"/></g>
<g stroke="#0000ff"><path d="M216.5,570.07L223.4,573.01L230.31,570.07L237.21,573.01L244.12,570.07L251.02,561.23L257.93,552.39L264.83,561.23L271.73,558.28L278.64,567.12L285.54,567.12L292.45,570.07L299.35,573.01L306.25,567.12L313.16,567.12L320.06,564.17L326.97,564.17L333.87,564.17L340.77,564.17L347.68,570.07L354.58,561.23L361.49,564.17L368.39,567.12L375.3,570.07L382.2,573.01" stroke-width="1.1"/><use href="#m" x="216.5" y="570.07"/><use href="#m" x="223.4" y="573.01"/><use href="#m" x="230.31" y="570.07"/><use href="#m" x="237.21" y="573.01"/><use href="#m" x="244.12" y="570.07"/><use href="#m" x="251.02" y="561.23"/><use href="#m" x="257.93" y="552.39"/><use href="#m" x="264.83" y="561.23"/><use href="#m" x="271.73" y="558.28"/><use href="#m" x="278.64" y="567.12"/><use href="#m" x="285.54" y="567.12"/><use href="#m" x="292.45" y="570.07"/><use href="#m" x="299.35" y="573.01"/><use href="#m" x="306.25" y="567.12"/><use href="#m" x="313.16" y="567.12"/><use href="#m" x="320.06" y="564.17"/><use href="#m" x="326.97" y="564.17"/><use href="#m" x="333.87" y="564.17"/><use href="#m" x="340.77" y="564.17"/><use href="#m" x="347.68" y="570.07"/><use href="#m" x="354.58" y="561.23"/><use href="#m" x="361.49" y="564.17"/><use href="#m" x="368.39" y="567.12"/><use href="#m" x="375.3" y="570.07"/><use href="#m" x="382.2" y="573.01"/></g>
<g stroke="#ff0000"><path d="M216.5,573.01L223.4,567.12L230.31,567.12L237.21,573.01L244.12,573.01L251.02,564.17L257.93,570.07L264.83,578.9L271.73,558.28L278.64,552.39L285.54,561.23L292.45,555.33L299.35,555.33L306.25,561.23L313.16,567.12L320.06,543.55L326.97,549.44L333.87,561.23L340.77,564.17L347.68,564.17L354.58,567.12L361.49,573.01L368.39,570.07L375.3,573.01L382.2,570.07" stroke-width="1.1"/><use href="#m" x="216.5" y="573.01"/><use href="#m" x="223.4" y="567.12"/><use href="#m" x="230.31" y="567.12"/><use href="#m" x="237.21" y="573.01"/><use href="#m" x="244.12" y="573.01"/><use href="#m" x="251.02" y="564.17"/><use href="#m" x="257.93" y="570.07"/><use href="#m" x="264.83" y="578.9"/><use href="#m" x="271.73" y="558.28"/><use href="#m" x="278.64" y="552.39"/><use href="#m" x="285.54" y="561.23"/><use href="#m" x="292.45" y="555.33"/><use href="#m" x="299.35" y="555.33"/><use href="#m" x="306.25" y="561.23"/><use href="#m" x="313.16" y="567.12"/><use href="#m" x="320.06" y="543.55"/><use href="#m" x="326.97" y="549.44"/><use href="#m" x="333.87" y="561.23"/><use href="#m" x="340.77" y="564.17"/><use href="#m" x="347.68" y="564.17"/><use href="#m" x="354.58" y="567.12"/><use href="#m" x="361.49" y="573.01"/><use href="#m" x="368.39" y="570.07"/><use href="#m" x="375.3" y="573.01"/><use href="#m" x="382.2" y="570.07"/></g>
</g>
<path d="M244.12,581.85V464M271.73,581.85V464M299.35,581.85V464M326.97,581.85V464M354.58,581.85V464M216.5,552.39H382.2M216.5,522.93H382.2M216.5,493.46H382.2" fill="none" stroke="#000" stroke-width="1.3" stroke-dasharray="0.9 2.2"/>
<rect x="216.5" y="464" width="165.7" height="117.85" fill="none" stroke="#000" stroke-width="1.4"/>
<g fill="#000" font-size="9.7" font-weight="bold" stroke="#000" stroke-width="0.15">
<g text-anchor="middle"><text x="216.5" y="592.9">0</text><text x="244.12" y="592.9">4</text><text x="271.73" y="592.9">8</text><text x="299.35" y="592.9">12</text><text x="326.97" y="592.9">16</text><text x="354.58" y="592.9">20</text><text x="382.2" y="592.9">24</text></g>
<g text-anchor="end"><text x="212" y="584.45">0</text><text x="212" y="554.99">10</text><text x="212" y="525.53">20</text><text x="212" y="496.06">30</text></g>
<clipPath id="t31"><rect x="186.5" y="593.85" width="225.7" height="13.15"/></clipPath><text x="299.35" y="607.05" font-size="10.2" text-anchor="middle" stroke-width="0.1" clip-path="url(#t31)">Central/Western</text>
</g>
</g>
<g>
<clipPath id="c32"><rect x="409.5" y="464" width="165.7" height="117.85"/></clipPath>
<path d="M409.5,581.85v-4.1M409.5,464v4.1M423.31,581.85v-4.1M423.31,464v4.1M437.12,581.85v-4.1M437.12,464v4.1M450.93,581.85v-4.1M450.93,464v4.1M464.73,581.85v-4.1M464.73,464v4.1M478.54,581.85v-4.1M478.54,464v4.1M492.35,581.85v-4.1M492.35,464v4.1M506.16,581.85v-4.1M506.16,464v4.1M519.97,581.85v-4.1M519.97,464v4.1M533.77,581.85v-4.1M533.77,464v4.1M547.58,581.85v-4.1M547.58,464v4.1M561.39,581.85v-4.1M561.39,464v4.1M575.2,581.85v-4.1M575.2,464v4.1M409.5,581.85h4.1M575.2,581.85h-4.1M409.5,567.12h4.1M575.2,567.12h-4.1M409.5,552.39h4.1M575.2,552.39h-4.1M409.5,537.66h4.1M575.2,537.66h-4.1M409.5,522.93h4.1M575.2,522.93h-4.1M409.5,508.19h4.1M575.2,508.19h-4.1M409.5,493.46h4.1M575.2,493.46h-4.1M409.5,478.73h4.1M575.2,478.73h-4.1M409.5,464h4.1M575.2,464h-4.1" fill="none" stroke="#ff0000" stroke-width="1.1"/>
<g clip-path="url(#c32)" fill="none" stroke-linejoin="round">
<g stroke="#00ffff"><path d="M409.5,546.5L416.4,546.5L423.31,543.55L430.21,555.33L437.12,558.28L444.02,555.33L450.93,555.33L457.83,561.23L464.73,558.28L471.64,555.33L478.54,546.5L485.45,537.66L492.35,531.76L499.25,528.82L506.16,531.76L513.06,531.76L519.97,552.39L526.87,552.39L533.77,549.44L540.68,546.5L547.58,543.55L554.49,540.6L561.39,546.5L568.3,549.44L575.2,534.71" stroke-width="1.1"/><use href="#m" x="409.5" y="546.5"/><use href="#m" x="416.4" y="546.5"/><use href="#m" x="423.31" y="543.55"/><use href="#m" x="430.21" y="555.33"/><use href="#m" x="437.12" y="558.28"/><use href="#m" x="444.02" y="555.33"/><use href="#m" x="450.93" y="555.33"/><use href="#m" x="457.83" y="561.23"/><use href="#m" x="464.73" y="558.28"/><use href="#m" x="471.64" y="555.33"/><use href="#m" x="478.54" y="546.5"/><use href="#m" x="485.45" y="537.66"/><use href="#m" x="492.35" y="531.76"/><use href="#m" x="499.25" y="528.82"/><use href="#m" x="506.16" y="531.76"/><use href="#m" x="513.06" y="531.76"/><use href="#m" x="519.97" y="552.39"/><use href="#m" x="526.87" y="552.39"/><use href="#m" x="533.77" y="549.44"/><use href="#m" x="540.68" y="546.5"/><use href="#m" x="547.58" y="543.55"/><use href="#m" x="554.49" y="540.6"/><use href="#m" x="561.39" y="546.5"/><use href="#m" x="568.3" y="549.44"/><use href="#m" x="575.2" y="534.71"/></g>
<g stroke="#00ff00"><path d="M409.5,534.71L416.4,534.71L423.31,519.98L430.21,531.76L437.12,555.33L444.02,561.23L450.93,561.23L457.83,564.17L464.73,558.28L471.64,558.28L478.54,558.28L485.45,555.33L492.35,552.39L499.25,558.28L506.16,549.44L513.06,531.76L519.97,543.55L526.87,552.39L533.77,543.55L540.68,552.39L547.58,552.39L554.49,543.55L561.39,555.33L568.3,555.33L575.2,558.28" stroke-width="1.1"/><use href="#m" x="409.5" y="534.71"/><use href="#m" x="416.4" y="534.71"/><use href="#m" x="423.31" y="519.98"/><use href="#m" x="430.21" y="531.76"/><use href="#m" x="437.12" y="555.33"/><use href="#m" x="444.02" y="561.23"/><use href="#m" x="450.93" y="561.23"/><use href="#m" x="457.83" y="564.17"/><use href="#m" x="464.73" y="558.28"/><use href="#m" x="471.64" y="558.28"/><use href="#m" x="478.54" y="558.28"/><use href="#m" x="485.45" y="555.33"/><use href="#m" x="492.35" y="552.39"/><use href="#m" x="499.25" y="558.28"/><use href="#m" x="506.16" y="549.44"/><use href="#m" x="513.06" y="531.76"/><use href="#m" x="519.97" y="543.55"/><use href="#m" x="526.87" y="552.39"/><use href="#m" x="533.77" y="543.55"/><use href="#m" x="540.68" y="552.39"/><use href="#m" x="547.58" y="552.39"/><use href="#m" x="554.49" y="543.55"/><use href="#m" x="561.39" y="555.33"/><use href="#m" x="568.3" y="555.33"/><use href="#m" x="575.2" y="558.28"/></g>
<g stroke="#0000ff"><path d="M409.5,558.28L416.4,561.23L423.31,555.33L430.21,561.23L437.12,564.17L444.02,552.39L450.93,558.28L457.83,555.33L464.73,561.23L471.64,555.33L478.54,540.6L485.45,558.28L492.35,549.44L499.25,558.28L506.16,564.17L513.06,549.44L519.97,543.55L526.87,561.23L533.77,555.33L540.68,558.28L547.58,558.28L554.49,561.23L561.39,558.28L568.3,558.28L575.2,517.03" stroke-width="1.1"/><use href="#m" x="409.5" y="558.28"/><use href="#m" x="416.4" y="561.23"/><use href="#m" x="423.31" y="555.33"/><use href="#m" x="430.21" y="561.23"/><use href="#m" x="437.12" y="564.17"/><use href="#m" x="444.02" y="552.39"/><use href="#m" x="450.93" y="558.28"/><use href="#m" x="457.83" y="555.33"/><use href="#m" x="464.73" y="561.23"/><use href="#m" x="471.64" y="555.33"/><use href="#m" x="478.54" y="540.6"/><use href="#m" x="485.45" y="558.28"/><use href="#m" x="492.35" y="549.44"/><use href="#m" x="499.25" y="558.28"/><use href="#m" x="506.16" y="564.17"/><use href="#m" x="513.06" y="549.44"/><use href="#m" x="519.97" y="543.55"/><use href="#m" x="526.87" y="561.23"/><use href="#m" x="533.77" y="555.33"/><use href="#m" x="540.68" y="558.28"/><use href="#m" x="547.58" y="558.28"/><use href="#m" x="554.49" y="561.23"/><use href="#m" x="561.39" y="558.28"/><use href="#m" x="568.3" y="558.28"/><use href="#m" x="575.2" y="517.03"/></g>
<g stroke="#ff0000"><path d="M409.5,517.03L416.4,517.03L423.31,531.76L430.21,499.36L437.12,549.44L444.02,546.5L450.93,561.23L457.83,567.12L464.73,549.44L471.64,549.44L478.54,552.39L485.45,543.55L492.35,546.5L499.25,537.66L506.16,543.55L513.06,558.28L519.97,561.23L526.87,558.28L533.77,555.33L540.68,552.39L547.58,549.44L554.49,546.5L561.39,555.33L568.3,555.33L575.2,549.44" stroke-width="1.1"/><use href="#m" x="409.5" y="517.03"/><use href="#m" x="416.4" y="517.03"/><use href="#m" x="423.31" y="531.76"/><use href="#m" x="430.21" y="499.36"/><use href="#m" x="437.12" y="549.44"/><use href="#m" x="444.02" y="546.5"/><use href="#m" x="450.93" y="561.23"/><use href="#m" x="457.83" y="567.12"/><use href="#m" x="464.73" y="549.44"/><use href="#m" x="471.64" y="549.44"/><use href="#m" x="478.54" y="552.39"/><use href="#m" x="485.45" y="543.55"/><use href="#m" x="492.35" y="546.5"/><use href="#m" x="499.25" y="537.66"/><use href="#m" x="506.16" y="543.55"/><use href="#m" x="513.06" y="558.28"/><use href="#m" x="519.97" y="561.23"/><use href="#m" x="526.87" y="558.28"/><use href="#m" x="533.77" y="555.33"/><use href="#m" x="540.68" y="552.39"/><use href="#m" x="547.58" y="549.44"/><use href="#m" x="554.49" y="546.5"/><use href="#m" x="561.39" y="555.33"/><use href="#m" x="568.3" y="555.33"/><use href="#m" x="575.2" y="549.44"/></g>
</g>
<path d="M437.12,581.85V464M464.73,581.85V464M492.35,581.85V464M519.97,581.85V464M547.58,581.85V464M409.5,552.39H575.2M409.5,522.93H575.2M409.5,493.46H575.2" fill="none" stroke="#000" stroke-width="1.3" stroke-dasharray="0.9 2.2"/>
<rect x="409.5" y="464" width="165.7" height="117.85" fill="none" stroke="#ff0000" stroke-width="1.4"/>
<g fill="#ff0000" font-size="9.7" font-weight="bold" stroke="#ff0000" stroke-width="0.15">
<g text-anchor="middle"><text x="409.5" y="592.9">0</text><text x="437.12" y="592.9">4</text><text x="464.73" y="592.9">8</text><text x="492.35" y="592.9">12</text><text x="519.97" y="592.9">16</text><text x="547.58" y="592.9">20</text><text x="575.2" y="592.9">24</text></g>
<g text-anchor="end"><text x="405" y="584.45">0</text><text x="405" y="554.99">10</text><text x="405" y="525.53">20</text><text x="405" y="496.06">30</text></g>
<clipPath id="t32"><rect x="379.5" y="593.85" width="225.7" height="13.15"/></clipPath><text x="492.35" y="607.05" font-size="10.2" text-anchor="middle" stroke-width="0.1" clip-path="url(#t32)">Central</text>
</g>
</g>
<g>
<clipPath id="c33"><rect x="602.5" y="464" width="165.7" height="117.85"/></clipPath>
<path d="M602.5,581.85v-4.1M602.5,464v4.1M616.31,581.85v-4.1M616.31,464v4.1M630.12,581.85v-4.1M630.12,464v4.1M643.92,581.85v-4.1M643.92,464v4.1M657.73,581.85v-4.1M657.73,464v4.1M671.54,581.85v-4.1M671.54,464v4.1M685.35,581.85v-4.1M685.35,464v4.1M699.16,581.85v-4.1M699.16,464v4.1M712.97,581.85v-4.1M712.97,464v4.1M726.77,581.85v-4.1M726.77,464v4.1M740.58,581.85v-4.1M740.58,464v4.1M754.39,581.85v-4.1M754.39,464v4.1M768.2,581.85v-4.1M768.2,464v4.1M602.5,581.85h4.1M768.2,581.85h-4.1M602.5,567.12h4.1M768.2,567.12h-4.1M602.5,552.39h4.1M768.2,552.39h-4.1M602.5,537.66h4.1M768.2,537.66h-4.1M602.5,522.93h4.1M768.2,522.93h-4.1M602.5,508.19h4.1M768.2,508.19h-4.1M602.5,493.46h4.1M768.2,493.46h-4.1M602.5,478.73h4.1M768.2,478.73h-4.1M602.5,464h4.1M768.2,464h-4.1" fill="none" stroke="#ff0000" stroke-width="1.1"/>
<g clip-path="url(#c33)" fill="none" stroke-linejoin="round">
<g stroke="#00ffff"><path d="M602.5,502.3L609.4,508.19L616.31,534.71L623.21,540.6L630.12,552.39L637.02,549.44L643.92,564.17L650.83,531.76L657.73,552.39L664.64,525.87L671.54,525.87L678.45,534.71L685.35,534.71L692.25,525.87L699.16,502.3L706.06,484.62L712.97,505.25L719.87,505.25L726.77,496.41L733.68,493.46L740.58,462.53L747.49,505.25L754.39,531.76L761.3,508.19L768.2,502.3" stroke-width="1.1"/><use href="#m" x="602.5" y="502.3"/><use href="#m" x="609.4" y="508.19"/><use href="#m" x="616.31" y="534.71"/><use href="#m" x="623.21" y="540.6"/><use href="#m" x="630.12" y="552.39"/><use href="#m" x="637.02" y="549.44"/><use href="#m" x="643.92" y="564.17"/><use href="#m" x="650.83" y="531.76"/><use href="#m" x="657.73" y="552.39"/><use href="#m" x="664.64" y="525.87"/><use href="#m" x="671.54" y="525.87"/><use href="#m" x="678.45" y="534.71"/><use href="#m" x="685.35" y="534.71"/><use href="#m" x="692.25" y="525.87"/><use href="#m" x="699.16" y="502.3"/><use href="#m" x="706.06" y="484.62"/><use href="#m" x="712.97" y="505.25"/><use href="#m" x="719.87" y="505.25"/><use href="#m" x="726.77" y="496.41"/><use href="#m" x="733.68" y="493.46"/><use href="#m" x="740.58" y="462.53"/><use href="#m" x="747.49" y="505.25"/><use href="#m" x="754.39" y="531.76"/><use href="#m" x="761.3" y="508.19"/><use href="#m" x="768.2" y="502.3"/></g>
<g stroke="#00ff00"><path d="M602.5,502.3L609.4,499.36L616.31,519.98L623.21,552.39L630.12,549.44L637.02,561.23L643.92,552.39L650.83,567.12L657.73,531.76L664.64,514.09L671.54,528.82L678.45,519.98L685.35,505.25L692.25,511.14L699.16,505.25L706.06,537.66L712.97,519.98L719.87,534.71L726.77,514.09L733.68,487.57L740.58,472.84L747.49,487.57L754.39,472.84L761.3,475.79L768.2,534.71" stroke-width="1.1"/><use href="#m" x="602.5" y="502.3"/><use href="#m" x="609.4" y="499.36"/><use href="#m" x="616.31" y="519.98"/><use href="#m" x="623.21" y="552.39"/><use href="#m" x="630.12" y="549.44"/><use href="#m" x="637.02" y="561.23"/><use href="#m" x="643.92" y="552.39"/><use href="#m" x="650.83" y="567.12"/><use href="#m" x="657.73" y="531.76"/><use href="#m" x="664.64" y="514.09"/><use href="#m" x="671.54" y="528.82"/><use href="#m" x="678.45" y="519.98"/><use href="#m" x="685.35" y="505.25"/><use href="#m" x="692.25" y="511.14"/><use href="#m" x="699.16" y="505.25"/><use href="#m" x="706.06" y="537.66"/><use href="#m" x="712.97" y="519.98"/><use href="#m" x="719.87" y="534.71"/><use href="#m" x="726.77" y="514.09"/><use href="#m" x="733.68" y="487.57"/><use href="#m" x="740.58" y="472.84"/><use href="#m" x="747.49" y="487.57"/><use href="#m" x="754.39" y="472.84"/><use href="#m" x="761.3" y="475.79"/><use href="#m" x="768.2" y="534.71"/></g>
<g stroke="#0000ff"><path d="M602.5,534.71L609.4,575.96L616.31,552.39L623.21,573.01L630.12,552.39L637.02,570.07L643.92,522.93L650.83,517.03L657.73,511.14L664.64,517.03L671.54,531.76L678.45,517.03L685.35,511.14L692.25,496.41L699.16,519.98L706.06,528.82L712.97,531.76L719.87,543.55L726.77,534.71L733.68,502.3L740.58,502.3L747.49,511.14L754.39,493.46L761.3,499.36L768.2,519.98" stroke-width="1.1"/><use href="#m" x="602.5" y="534.71"/><use href="#m" x="609.4" y="575.96"/><use href="#m" x="616.31" y="552.39"/><use href="#m" x="623.21" y="573.01"/><use href="#m" x="630.12" y="552.39"/><use href="#m" x="637.02" y="570.07"/><use href="#m" x="643.92" y="522.93"/><use href="#m" x="650.83" y="517.03"/><use href="#m" x="657.73" y="511.14"/><use href="#m" x="664.64" y="517.03"/><use href="#m" x="671.54" y="531.76"/><use href="#m" x="678.45" y="517.03"/><use href="#m" x="685.35" y="511.14"/><use href="#m" x="692.25" y="496.41"/><use href="#m" x="699.16" y="519.98"/><use href="#m" x="706.06" y="528.82"/><use href="#m" x="712.97" y="531.76"/><use href="#m" x="719.87" y="543.55"/><use href="#m" x="726.77" y="534.71"/><use href="#m" x="733.68" y="502.3"/><use href="#m" x="740.58" y="502.3"/><use href="#m" x="747.49" y="511.14"/><use href="#m" x="754.39" y="493.46"/><use href="#m" x="761.3" y="499.36"/><use href="#m" x="768.2" y="519.98"/></g>
<g stroke="#ff0000"><path d="M602.5,519.98L609.4,543.55L616.31,534.71L623.21,558.28L630.12,567.12L637.02,561.23L643.92,578.9L650.83,546.5L657.73,537.66L664.64,567.12L671.54,525.87L678.45,502.3L685.35,496.41L692.25,511.14L699.16,540.6L706.06,525.87L712.97,525.87L719.87,517.03L726.77,514.09L733.68,496.41L740.58,487.57L747.49,490.52L754.39,499.36L761.3,490.52L768.2,499.36" stroke-width="1.1"/><use href="#m" x="602.5" y="519.98"/><use href="#m" x="609.4" y="543.55"/><use href="#m" x="616.31" y="534.71"/><use href="#m" x="623.21" y="558.28"/><use href="#m" x="630.12" y="567.12"/><use href="#m" x="637.02" y="561.23"/><use href="#m" x="643.92" y="578.9"/><use href="#m" x="650.83" y="546.5"/><use href="#m" x="657.73" y="537.66"/><use href="#m" x="664.64" y="567.12"/><use href="#m" x="671.54" y="525.87"/><use href="#m" x="678.45" y="502.3"/><use href="#m" x="685.35" y="496.41"/><use href="#m" x="692.25" y="511.14"/><use href="#m" x="699.16" y="540.6"/><use href="#m" x="706.06" y="525.87"/><use href="#m" x="712.97" y="525.87"/><use href="#m" x="719.87" y="517.03"/><use href="#m" x="726.77" y="514.09"/><use href="#m" x="733.68" y="496.41"/><use href="#m" x="740.58" y="487.57"/><use href="#m" x="747.49" y="490.52"/><use href="#m" x="754.39" y="499.36"/><use href="#m" x="761.3" y="490.52"/><use href="#m" x="768.2" y="499.36"/></g>
</g>
<path d="M630.12,581.85V464M657.73,581.85V464M685.35,581.85V464M712.97,581.85V464M740.58,581.85V464M602.5,552.39H768.2M602.5,522.93H768.2M602.5,493.46H768.2" fill="none" stroke="#000" stroke-width="1.3" stroke-dasharray="0.9 2.2"/>
<rect x="602.5" y="464" width="165.7" height="117.85" fill="none" stroke="#ff0000" stroke-width="1.4"/>
<g fill="#ff0000" font-size="9.7" font-weight="bold" stroke="#ff0000" stroke-width="0.15">
<g text-anchor="middle"><text x="602.5" y="592.9">0</text><text x="630.12" y="592.9">4</text><text x="657.73" y="592.9">8</text><text x="685.35" y="592.9">12</text><text x="712.97" y="592.9">16</text><text x="740.58" y="592.9">20</text><text x="768.2" y="592.9">24</text></g>
<g text-anchor="end"><text x="598" y="584.45">0</text><text x="598" y="554.99">10</text><text x="598" y="525.53">20</text><text x="598" y="496.06">30</text></g>
<clipPath id="t33"><rect x="572.5" y="593.85" width="225.7" height="13.15"/></clipPath><text x="685.35" y="607.05" font-size="10.2" text-anchor="middle" stroke-width="0.1" clip-path="url(#t33)">Causeway Bay</text>
</g>
</g>
<g>
<clipPath id="c34"><rect x="795.5" y="464" width="165.7" height="117.85"/></clipPath>
<path d="M795.5,581.85v-4.1M795.5,464v4.1M809.31,581.85v-4.1M809.31,464v4.1M823.12,581.85v-4.1M823.12,464v4.1M836.92,581.85v-4.1M836.92,464v4.1M850.73,581.85v-4.1M850.73,464v4.1M864.54,581.85v-4.1M864.54,464v4.1M878.35,581.85v-4.1M878.35,464v4.1M892.16,581.85v-4.1M892.16,464v4.1M905.97,581.85v-4.1M905.97,464v4.1M919.77,581.85v-4.1M919.77,464v4.1M933.58,581.85v-4.1M933.58,464v4.1M947.39,581.85v-4.1M947.39,464v4.1M961.2,581.85v-4.1M961.2,464v4.1M795.5,581.85h4.1M961.2,581.85h-4.1M795.5,567.12h4.1M961.2,567.12h-4.1M795.5,552.39h4.1M961.2,552.39h-4.1M795.5,537.66h4.1M961.2,537.66h-4.1M795.5,522.93h4.1M961.2,522.93h-4.1M795.5,508.19h4.1M961.2,508.19h-4.1M795.5,493.46h4.1M961.2,493.46h-4.1M795.5,478.73h4.1M961.2,478.73h-4.1M795.5,464h4.1M961.2,464h-4.1" fill="none" stroke="#000" stroke-width="1.1"/>
<g clip-path="url(#c34)" fill="none" stroke-linejoin="round">
<g stroke="#00ffff"><path d="M795.5,543.55L802.4,546.5L809.31,546.5L816.21,552.39L823.12,555.33L830.02,555.33L836.92,552.39L843.83,552.39L850.73,558.28L857.64,546.5L864.54,528.82L871.45,531.76L878.35,543.55L885.25,552.39L892.16,552.39L899.06,552.39L905.97,552.39L912.87,540.6L919.77,546.5L926.68,549.44L933.58,558.28L940.49,564.17L947.39,549.44L954.3,549.44L961.2,552.39" stroke-width="1.1"/><use href="#m" x="795.5" y="543.55"/><use href="#m" x="802.4" y="546.5"/><use href="#m" x="809.31" y="546.5"/><use href="#m" x="816.21" y="552.39"/><use href="#m" x="823.12" y="555.33"/><use href="#m" x="830.02" y="555.33"/><use href="#m" x="836.92" y="552.39"/><use href="#m" x="843.83" y="552.39"/><use href="#m" x="850.73" y="558.28"/><use href="#m" x="857.64" y="546.5"/><use href="#m" x="864.54" y="528.82"/><use href="#m" x="871.45" y="531.76"/><use href="#m" x="878.35" y="543.55"/><use href="#m" x="885.25" y="552.39"/><use href="#m" x="892.16" y="552.39"/><use href="#m" x="899.06" y="552.39"/><use href="#m" x="905.97" y="552.39"/><use href="#m" x="912.87" y="540.6"/><use href="#m" x="919.77" y="546.5"/><use href="#m" x="926.68" y="549.44"/><use href="#m" x="933.58" y="558.28"/><use href="#m" x="940.49" y="564.17"/><use href="#m" x="947.39" y="549.44"/><use href="#m" x="954.3" y="549.44"/><use href="#m" x="961.2" y="552.39"/></g>
<g stroke="#00ff00"><path d="M795.5,552.39L802.4,549.44L809.31,552.39L816.21,555.33L823.12,555.33L830.02,552.39L836.92,549.44L843.83,552.39L850.73,558.28L857.64,558.28L864.54,552.39L871.45,552.39L878.35,555.33L885.25,558.28L892.16,570.07L899.06,567.12L905.97,561.23L912.87,564.17L919.77,561.23L926.68,558.28L933.58,564.17L940.49,564.17L947.39,561.23L954.3,558.28L961.2,561.23" stroke-width="1.1"/><use href="#m" x="795.5" y="552.39"/><use href="#m" x="802.4" y="549.44"/><use href="#m" x="809.31" y="552.39"/><use href="#m" x="816.21" y="555.33"/><use href="#m" x="823.12" y="555.33"/><use href="#m" x="830.02" y="552.39"/><use href="#m" x="836.92" y="549.44"/><use href="#m" x="843.83" y="552.39"/><use href="#m" x="850.73" y="558.28"/><use href="#m" x="857.64" y="558.28"/><use href="#m" x="864.54" y="552.39"/><use href="#m" x="871.45" y="552.39"/><use href="#m" x="878.35" y="555.33"/><use href="#m" x="885.25" y="558.28"/><use href="#m" x="892.16" y="570.07"/><use href="#m" x="899.06" y="567.12"/><use href="#m" x="905.97" y="561.23"/><use href="#m" x="912.87" y="564.17"/><use href="#m" x="919.77" y="561.23"/><use href="#m" x="926.68" y="558.28"/><use href="#m" x="933.58" y="564.17"/><use href="#m" x="940.49" y="564.17"/><use href="#m" x="947.39" y="561.23"/><use href="#m" x="954.3" y="558.28"/><use href="#m" x="961.2" y="561.23"/></g>
<g stroke="#0000ff"><path d="M795.5,561.23L802.4,570.07L809.31,570.07L816.21,561.23L823.12,555.33L830.02,552.39L836.92,552.39L843.83,555.33L850.73,558.28L857.64,561.23L864.54,564.17L871.45,564.17L878.35,561.23L885.25,555.33L892.16,558.28L899.06,564.17L905.97,567.12L912.87,567.12L919.77,564.17L926.68,561.23L933.58,573.01L940.49,575.96L947.39,567.12L954.3,552.39L961.2,546.5" stroke-width="1.1"/><use href="#m" x="795.5" y="561.23"/><use href="#m" x="802.4" y="570.07"/><use href="#m" x="809.31" y="570.07"/><use href="#m" x="816.21" y="561.23"/><use href="#m" x="823.12" y="555.33"/><use href="#m" x="830.02" y="552.39"/><use href="#m" x="836.92" y="552.39"/><use href="#m" x="843.83" y="555.33"/><use href="#m" x="850.73" y="558.28"/><use href="#m" x="857.64" y="561.23"/><use href="#m" x="864.54" y="564.17"/><use href="#m" x="871.45" y="564.17"/><use href="#m" x="878.35" y="561.23"/><use href="#m" x="885.25" y="555.33"/><use href="#m" x="892.16" y="558.28"/><use href="#m" x="899.06" y="564.17"/><use href="#m" x="905.97" y="567.12"/><use href="#m" x="912.87" y="567.12"/><use href="#m" x="919.77" y="564.17"/><use href="#m" x="926.68" y="561.23"/><use href="#m" x="933.58" y="573.01"/><use href="#m" x="940.49" y="575.96"/><use href="#m" x="947.39" y="567.12"/><use href="#m" x="954.3" y="552.39"/><use href="#m" x="961.2" y="546.5"/></g>
<g stroke="#ff0000"><path d="M795.5,546.5L802.4,555.33L809.31,570.07L816.21,573.01L823.12,561.23L830.02,549.44L836.92,549.44L843.83,567.12L850.73,567.12L857.64,558.28L864.54,558.28L871.45,552.39L878.35,546.5L885.25,546.5L892.16,555.33L899.06,564.17L905.97,567.12L912.87,570.07L919.77,567.12L926.68,573.01L933.58,573.01L940.49,575.96L947.39,561.23L954.3,561.23L961.2,570.07" stroke-width="1.1"/><use href="#m" x="795.5" y="546.5"/><use href="#m" x="802.4" y="555.33"/><use href="#m" x="809.31" y="570.07"/><use href="#m" x="816.21" y="573.01"/><use href="#m" x="823.12" y="561.23"/><use href="#m" x="830.02" y="549.44"/><use href="#m" x="836.92" y="549.44"/><use href="#m" x="843.83" y="567.12"/><use href="#m" x="850.73" y="567.12"/><use href="#m" x="857.64" y="558.28"/><use href="#m" x="864.54" y="558.28"/><use href="#m" x="871.45" y="552.39"/><use href="#m" x="878.35" y="546.5"/><use href="#m" x="885.25" y="546.5"/><use href="#m" x="892.16" y="555.33"/><use href="#m" x="899.06" y="564.17"/><use href="#m" x="905.97" y="567.12"/><use href="#m" x="912.87" y="570.07"/><use href="#m" x="919.77" y="567.12"/><use href="#m" x="926.68" y="573.01"/><use href="#m" x="933.58" y="573.01"/><use href="#m" x="940.49" y="575.96"/><use href="#m" x="947.39" y="561.23"/><use href="#m" x="954.3" y="561.23"/><use href="#m" x="961.2" y="570.07"/></g>
</g>
<path d="M823.12,581.85V464M850.73,581.85V464M878.35,581.85V464M905.97,581.85V464M933.58,581.85V464M795.5,552.39H961.2M795.5,522.93H961.2M795.5,493.46H961.2" fill="none" stroke="#000" stroke-width="1.3" stroke-dasharray="0.9 2.2"/>
<rect x="795.5" y="464" width="165.7" height="117.85" fill="none" stroke="#000" stroke-width="1.4"/>
<g fill="#000" font-size="9.7" font-weight="bold" stroke="#000" stroke-width="0.15">
<g text-anchor="middle"><text x="795.5" y="592.9">0</text><text x="823.12" y="592.9">4</text><text x="850.73" y="592.9">8</text><text x="878.35" y="592.9">12</text><text x="905.97" y="592.9">16</text><text x="933.58" y="592.9">20</text><text x="961.2" y="592.9">24</text></g>
<g text-anchor="end"><text x="791" y="584.45">0</text><text x="791" y="554.99">10</text><text x="791" y="525.53">20</text><text x="791" y="496.06">30</text></g>
<clipPath id="t34"><rect x="765.5" y="593.85" width="225.7" height="13.15"/></clipPath><text x="878.35" y="607.05" font-size="10.2" text-anchor="middle" stroke-width="0.1" clip-path="url(#t34)">Eastern</text>
</g>
</g>
<g>
<clipPath id="c40"><rect x="23.5" y="612" width="165.7" height="117.85"/></clipPath>
<path d="M23.5,729.85v-4.1M23.5,612v4.1M37.31,729.85v-4.1M37.31,612v4.1M51.12,729.85v-4.1M51.12,612v4.1M64.92,729.85v-4.1M64.92,612v4.1M78.73,729.85v-4.1M78.73,612v4.1M92.54,729.85v-4.1M92.54,612v4.1M106.35,729.85v-4.1M106.35,612v4.1M120.16,729.85v-4.1M120.16,612v4.1M133.97,729.85v-4.1M133.97,612v4.1M147.77,729.85v-4.1M147.77,612v4.1M161.58,729.85v-4.1M161.58,612v4.1M175.39,729.85v-4.1M175.39,612v4.1M189.2,729.85v-4.1M189.2,612v4.1M23.5,729.85h4.1M189.2,729.85h-4.1M23.5,715.12h4.1M189.2,715.12h-4.1M23.5,700.39h4.1M189.2,700.39h-4.1M23.5,685.66h4.1M189.2,685.66h-4.1M23.5,670.93h4.1M189.2,670.93h-4.1M23.5,656.19h4.1M189.2,656.19h-4.1M23.5,641.46h4.1M189.2,641.46h-4.1M23.5,626.73h4.1M189.2,626.73h-4.1M23.5,612h4.1M189.2,612h-4.1" fill="none" stroke="#000" stroke-width="1.1"/>
<g clip-path="url(#c40)" fill="none" stroke-linejoin="round">
<g stroke="#00ffff"><path d="M23.5,700.39L30.4,694.5L37.31,694.5L44.21,703.33L51.12,703.33L58.02,703.33L64.92,703.33L71.83,706.28L78.73,703.33L85.64,697.44L92.54,703.33L99.45,703.33L106.35,694.5L113.25,694.5L120.16,697.44L127.06,700.39L133.97,694.5L140.87,694.5L147.77,694.5L154.68,691.55L161.58,700.39L168.49,703.33L175.39,703.33L182.3,703.33L189.2,706.28" stroke-width="1.1"/><use href="#m" x="23.5" y="700.39"/><use href="#m" x="30.4" y="694.5"/><use href="#m" x="37.31" y="694.5"/><use href="#m" x="44.21" y="703.33"/><use href="#m" x="51.12" y="703.33"/><use href="#m" x="58.02" y="703.33"/><use href="#m" x="64.92" y="703.33"/><use href="#m" x="71.83" y="706.28"/><use href="#m" x="78.73" y="703.33"/><use href="#m" x="85.64" y="697.44"/><use href="#m" x="92.54" y="703.33"/><use href="#m" x="99.45" y="703.33"/><use href="#m" x="106.35" y="694.5"/><use href="#m" x="113.25" y="694.5"/><use href="#m" x="120.16" y="697.44"/><use href="#m" x="127.06" y="700.39"/><use href="#m" x="133.97" y="694.5"/><use href="#m" x="140.87" y="694.5"/><use href="#m" x="147.77" y="694.5"/><use href="#m" x="154.68" y="691.55"/><use href="#m" x="161.58" y="700.39"/><use href="#m" x="168.49" y="703.33"/><use href="#m" x="175.39" y="703.33"/><use href="#m" x="182.3" y="703.33"/><use href="#m" x="189.2" y="706.28"/></g>
<g stroke="#00ff00"><path d="M23.5,706.28L30.4,709.23L37.31,709.23L44.21,706.28L51.12,703.33L58.02,709.23L64.92,712.17L71.83,712.17L78.73,706.28L85.64,706.28L92.54,706.28L99.45,703.33L106.35,706.28L113.25,709.23L120.16,709.23L127.06,709.23L133.97,706.28L140.87,706.28L147.77,706.28L154.68,712.17L161.58,703.33L168.49,706.28L175.39,709.23L182.3,703.33L189.2,709.23" stroke-width="1.1"/><use href="#m" x="23.5" y="706.28"/><use href="#m" x="30.4" y="709.23"/><use href="#m" x="37.31" y="709.23"/><use href="#m" x="44.21" y="706.28"/><use href="#m" x="51.12" y="703.33"/><use href="#m" x="58.02" y="709.23"/><use href="#m" x="64.92" y="712.17"/><use href="#m" x="71.83" y="712.17"/><use href="#m" x="78.73" y="706.28"/><use href="#m" x="85.64" y="706.28"/><use href="#m" x="92.54" y="706.28"/><use href="#m" x="99.45" y="703.33"/><use href="#m" x="106.35" y="706.28"/><use href="#m" x="113.25" y="709.23"/><use href="#m" x="120.16" y="709.23"/><use href="#m" x="127.06" y="709.23"/><use href="#m" x="133.97" y="706.28"/><use href="#m" x="140.87" y="706.28"/><use href="#m" x="147.77" y="706.28"/><use href="#m" x="154.68" y="712.17"/><use href="#m" x="161.58" y="703.33"/><use href="#m" x="168.49" y="706.28"/><use href="#m" x="175.39" y="709.23"/><use href="#m" x="182.3" y="703.33"/><use href="#m" x="189.2" y="709.23"/></g>
<g stroke="#0000ff"><path d="M23.5,712.17L30.4,706.28L37.31,712.17L44.21,718.07L51.12,715.12L58.02,712.17L64.92,715.12L71.83,712.17L78.73,703.33L85.64,709.23L92.54,709.23L99.45,709.23L106.35,709.23L113.25,712.17L120.16,712.17L127.06,715.12L133.97,715.12L140.87,709.23L147.77,706.28L154.68,706.28L161.58,709.23L168.49,712.17L175.39,703.33L182.3,715.12L189.2,712.17" stroke-width="1.1"/><use href="#m" x="23.5" y="712.17"/><use href="#m" x="30.4" y="706.28"/><use href="#m" x="37.31" y="712.17"/><use href="#m" x="44.21" y="718.07"/><use href="#m" x="51.12" y="715.12"/><use href="#m" x="58.02" y="712.17"/><use href="#m" x="64.92" y="715.12"/><use href="#m" x="71.83" y="712.17"/><use href="#m" x="78.73" y="703.33"/><use href="#m" x="85.64" y="709.23"/><use href="#m" x="92.54" y="709.23"/><use href="#m" x="99.45" y="709.23"/><use href="#m" x="106.35" y="709.23"/><use href="#m" x="113.25" y="712.17"/><use href="#m" x="120.16" y="712.17"/><use href="#m" x="127.06" y="715.12"/><use href="#m" x="133.97" y="715.12"/><use href="#m" x="140.87" y="709.23"/><use href="#m" x="147.77" y="706.28"/><use href="#m" x="154.68" y="706.28"/><use href="#m" x="161.58" y="709.23"/><use href="#m" x="168.49" y="712.17"/><use href="#m" x="175.39" y="703.33"/><use href="#m" x="182.3" y="715.12"/><use href="#m" x="189.2" y="712.17"/></g>
<g stroke="#ff0000"><path d="M23.5,712.17L30.4,712.17L37.31,709.23L44.21,715.12L51.12,718.07L58.02,718.07L64.92,715.12L71.83,715.12L78.73,715.12L85.64,709.23L92.54,703.33L99.45,706.28L106.35,706.28L113.25,700.39L120.16,682.71L127.06,709.23L133.97,712.17L140.87,706.28L147.77,715.12L154.68,709.23L161.58,709.23L168.49,718.07L175.39,715.12L182.3,715.12L189.2,715.12" stroke-width="1.1"/><use href="#m" x="23.5" y="712.17"/><use href="#m" x="30.4" y="712.17"/><use href="#m" x="37.31" y="709.23"/><use href="#m" x="44.21" y="715.12"/><use href="#m" x="51.12" y="718.07"/><use href="#m" x="58.02" y="718.07"/><use href="#m" x="64.92" y="715.12"/><use href="#m" x="71.83" y="715.12"/><use href="#m" x="78.73" y="715.12"/><use href="#m" x="85.64" y="709.23"/><use href="#m" x="92.54" y="703.33"/><use href="#m" x="99.45" y="706.28"/><use href="#m" x="106.35" y="706.28"/><use href="#m" x="113.25" y="700.39"/><use href="#m" x="120.16" y="682.71"/><use href="#m" x="127.06" y="709.23"/><use href="#m" x="133.97" y="712.17"/><use href="#m" x="140.87" y="706.28"/><use href="#m" x="147.77" y="715.12"/><use href="#m" x="154.68" y="709.23"/><use href="#m" x="161.58" y="709.23"/><use href="#m" x="168.49" y="718.07"/><use href="#m" x="175.39" y="715.12"/><use href="#m" x="182.3" y="715.12"/><use href="#m" x="189.2" y="715.12"/></g>
</g>
<path d="M51.12,729.85V612M78.73,729.85V612M106.35,729.85V612M133.97,729.85V612M161.58,729.85V612M23.5,700.39H189.2M23.5,670.93H189.2M23.5,641.46H189.2" fill="none" stroke="#000" stroke-width="1.3" stroke-dasharray="0.9 2.2"/>
<rect x="23.5" y="612" width="165.7" height="117.85" fill="none" stroke="#000" stroke-width="1.4"/>
<g fill="#000" font-size="9.7" font-weight="bold" stroke="#000" stroke-width="0.15">
<g text-anchor="middle"><text x="23.5" y="740.9">0</text><text x="51.12" y="740.9">4</text><text x="78.73" y="740.9">8</text><text x="106.35" y="740.9">12</text><text x="133.97" y="740.9">16</text><text x="161.58" y="740.9">20</text><text x="189.2" y="740.9">24</text></g>
<g text-anchor="end"><text x="19" y="732.45">0</text><text x="19" y="702.99">10</text><text x="19" y="673.53">20</text><text x="19" y="644.06">30</text></g>
<clipPath id="t40"><rect x="-6.5" y="741.85" width="225.7" height="13.15"/></clipPath><text x="106.35" y="755.05" font-size="10.2" text-anchor="middle" stroke-width="0.1" clip-path="url(#t40)">Tung Chung</text>
</g>
</g>
<g>
<clipPath id="c41"><rect x="216.5" y="612" width="165.7" height="117.85"/></clipPath>
<path d="M216.5,729.85v-4.1M216.5,612v4.1M230.31,729.85v-4.1M230.31,612v4.1M244.12,729.85v-4.1M244.12,612v4.1M257.93,729.85v-4.1M257.93,612v4.1M271.73,729.85v-4.1M271.73,612v4.1M285.54,729.85v-4.1M285.54,612v4.1M299.35,729.85v-4.1M299.35,612v4.1M313.16,729.85v-4.1M313.16,612v4.1M326.97,729.85v-4.1M326.97,612v4.1M340.77,729.85v-4.1M340.77,612v4.1M354.58,729.85v-4.1M354.58,612v4.1M368.39,729.85v-4.1M368.39,612v4.1M382.2,729.85v-4.1M382.2,612v4.1M216.5,729.85h4.1M382.2,729.85h-4.1M216.5,715.12h4.1M382.2,715.12h-4.1M216.5,700.39h4.1M382.2,700.39h-4.1M216.5,685.66h4.1M382.2,685.66h-4.1M216.5,670.93h4.1M382.2,670.93h-4.1M216.5,656.19h4.1M382.2,656.19h-4.1M216.5,641.46h4.1M382.2,641.46h-4.1M216.5,626.73h4.1M382.2,626.73h-4.1M216.5,612h4.1M382.2,612h-4.1" fill="none" stroke="#000" stroke-width="1.1"/>
<g clip-path="url(#c41)" fill="none" stroke-linejoin="round">
<g stroke="#00ffff"><path d="M216.5,723.96L223.4,721.01L230.31,726.9L237.21,709.23L244.12,723.96L251.02,718.07L257.93,721.01L264.83,709.23L271.73,721.01L278.64,700.39L285.54,700.39L292.45,700.39L299.35,712.17L306.25,715.12L313.16,712.17L320.06,706.28L326.97,721.01L333.87,726.9L340.77,715.12L347.68,709.23L354.58,729.85L361.49,726.9L368.39,700.39L375.3,729.85L382.2,718.07" stroke-width="1.1"/><use href="#m" x="216.5" y="723.96"/><use href="#m" x="223.4" y="721.01"/><use href="#m" x="230.31" y="726.9"/><use href="#m" x="237.21" y="709.23"/><use href="#m" x="244.12" y="723.96"/><use href="#m" x="251.02" y="718.07"/><use href="#m" x="257.93" y="721.01"/><use href="#m" x="264.83" y="709.23"/><use href="#m" x="271.73" y="721.01"/><use href="#m" x="278.64" y="700.39"/><use href="#m" x="285.54" y="700.39"/><use href="#m" x="292.45" y="700.39"/><use href="#m" x="299.35" y="712.17"/><use href="#m" x="306.25" y="715.12"/><use href="#m" x="313.16" y="712.17"/><use href="#m" x="320.06" y="706.28"/><use href="#m" x="326.97" y="721.01"/><use href="#m" x="333.87" y="726.9"/><use href="#m" x="340.77" y="715.12"/><use href="#m" x="347.68" y="709.23"/><use href="#m" x="354.58" y="729.85"/><use href="#m" x="361.49" y="726.9"/><use href="#m" x="368.39" y="700.39"/><use href="#m" x="375.3" y="729.85"/><use href="#m" x="382.2" y="718.07"/></g>
<g stroke="#00ff00"><path d="M216.5,718.07L223.4,721.01L230.31,712.17L237.21,721.01L244.12,729.85L251.02,721.01L257.93,706.28L264.83,721.01L271.73,703.33L278.64,709.23L285.54,721.01L292.45,723.96L299.35,729.85L306.25,715.12L313.16,709.23L320.06,700.39L326.97,709.23L333.87,723.96L340.77,703.33L347.68,723.96L354.58,700.39L361.49,709.23L368.39,715.12L375.3,723.96L382.2,729.85" stroke-width="1.1"/><use href="#m" x="216.5" y="718.07"/><use href="#m" x="223.4" y="721.01"/><use href="#m" x="230.31" y="712.17"/><use href="#m" x="237.21" y="721.01"/><use href="#m" x="244.12" y="729.85"/><use href="#m" x="251.02" y="721.01"/><use href="#m" x="257.93" y="706.28"/><use href="#m" x="264.83" y="721.01"/><use href="#m" x="271.73" y="703.33"/><use href="#m" x="278.64" y="709.23"/><use href="#m" x="285.54" y="721.01"/><use href="#m" x="292.45" y="723.96"/><use href="#m" x="299.35" y="729.85"/><use href="#m" x="306.25" y="715.12"/><use href="#m" x="313.16" y="709.23"/><use href="#m" x="320.06" y="700.39"/><use href="#m" x="326.97" y="709.23"/><use href="#m" x="333.87" y="723.96"/><use href="#m" x="340.77" y="703.33"/><use href="#m" x="347.68" y="723.96"/><use href="#m" x="354.58" y="700.39"/><use href="#m" x="361.49" y="709.23"/><use href="#m" x="368.39" y="715.12"/><use href="#m" x="375.3" y="723.96"/><use href="#m" x="382.2" y="729.85"/></g>
<g stroke="#0000ff"><path d="M216.5,729.85L223.4,712.17L230.31,726.9L237.21,729.85L244.12,721.01L251.02,718.07L257.93,726.9L264.83,729.85L271.73,709.23L278.64,709.23L285.54,726.9L292.45,721.01L299.35,709.23L306.25,709.23L313.16,715.12L320.06,712.17L326.97,709.23L333.87,726.9L340.77,712.17L347.68,691.55L354.58,723.96L361.49,721.01L368.39,715.12L375.3,721.01L382.2,729.85" stroke-width="1.1"/><use href="#m" x="216.5" y="729.85"/><use href="#m" x="223.4" y="712.17"/><use href="#m" x="230.31" y="726.9"/><use href="#m" x="237.21" y="729.85"/><use href="#m" x="244.12" y="721.01"/><use href="#m" x="251.02" y="718.07"/><use href="#m" x="257.93" y="726.9"/><use href="#m" x="264.83" y="729.85"/><use href="#m" x="271.73" y="709.23"/><use href="#m" x="278.64" y="709.23"/><use href="#m" x="285.54" y="726.9"/><use href="#m" x="292.45" y="721.01"/><use href="#m" x="299.35" y="709.23"/><use href="#m" x="306.25" y="709.23"/><use href="#m" x="313.16" y="715.12"/><use href="#m" x="320.06" y="712.17"/><use href="#m" x="326.97" y="709.23"/><use href="#m" x="333.87" y="726.9"/><use href="#m" x="340.77" y="712.17"/><use href="#m" x="347.68" y="691.55"/><use href="#m" x="354.58" y="723.96"/><use href="#m" x="361.49" y="721.01"/><use href="#m" x="368.39" y="715.12"/><use href="#m" x="375.3" y="721.01"/><use href="#m" x="382.2" y="729.85"/></g>
<g stroke="#ff0000"><path d="M216.5,729.85L223.4,718.07L230.31,721.01L237.21,726.9L244.12,715.12L251.02,723.96L257.93,718.07L264.83,697.44L271.73,709.23L278.64,721.01L285.54,697.44L292.45,706.28L299.35,721.01L306.25,726.9L313.16,703.33L320.06,718.07L326.97,703.33L333.87,712.17L340.77,721.01L347.68,712.17L354.58,721.01L361.49,723.96L368.39,721.01L375.3,723.96L382.2,700.39" stroke-width="1.1"/><use href="#m" x="216.5" y="729.85"/><use href="#m" x="223.4" y="718.07"/><use href="#m" x="230.31" y="721.01"/><use href="#m" x="237.21" y="726.9"/><use href="#m" x="244.12" y="715.12"/><use href="#m" x="251.02" y="723.96"/><use href="#m" x="257.93" y="718.07"/><use href="#m" x="264.83" y="697.44"/><use href="#m" x="271.73" y="709.23"/><use href="#m" x="278.64" y="721.01"/><use href="#m" x="285.54" y="697.44"/><use href="#m" x="292.45" y="706.28"/><use href="#m" x="299.35" y="721.01"/><use href="#m" x="306.25" y="726.9"/><use href="#m" x="313.16" y="703.33"/><use href="#m" x="320.06" y="718.07"/><use href="#m" x="326.97" y="703.33"/><use href="#m" x="333.87" y="712.17"/><use href="#m" x="340.77" y="721.01"/><use href="#m" x="347.68" y="712.17"/><use href="#m" x="354.58" y="721.01"/><use href="#m" x="361.49" y="723.96"/><use href="#m" x="368.39" y="721.01"/><use href="#m" x="375.3" y="723.96"/><use href="#m" x="382.2" y="700.39"/></g>
</g>
<path d="M244.12,729.85V612M271.73,729.85V612M299.35,729.85V612M326.97,729.85V612M354.58,729.85V612M216.5,700.39H382.2M216.5,670.93H382.2M216.5,641.46H382.2" fill="none" stroke="#000" stroke-width="1.3" stroke-dasharray="0.9 2.2"/>
<rect x="216.5" y="612" width="165.7" height="117.85" fill="none" stroke="#000" stroke-width="1.4"/>
<g fill="#000" font-size="9.7" font-weight="bold" stroke="#000" stroke-width="0.15">
<g text-anchor="middle"><text x="216.5" y="740.9">0</text><text x="244.12" y="740.9">4</text><text x="271.73" y="740.9">8</text><text x="299.35" y="740.9">12</text><text x="326.97" y="740.9">16</text><text x="354.58" y="740.9">20</text><text x="382.2" y="740.9">24</text></g>
<g text-anchor="end"><text x="212" y="732.45">0</text><text x="212" y="702.99">10</text><text x="212" y="673.53">20</text><text x="212" y="644.06">30</text></g>
<clipPath id="t41"><rect x="186.5" y="741.85" width="225.7" height="13.15"/></clipPath><text x="299.35" y="755.05" font-size="10.2" text-anchor="middle" stroke-width="0.1" clip-path="url(#t41)">Airport, Pump House 5</text>
</g>
</g>
<g>
<clipPath id="c42"><rect x="409.5" y="612" width="165.7" height="117.85"/></clipPath>
<path d="M409.5,729.85v-4.1M409.5,612v4.1M423.31,729.85v-4.1M423.31,612v4.1M437.12,729.85v-4.1M437.12,612v4.1M450.93,729.85v-4.1M450.93,612v4.1M464.73,729.85v-4.1M464.73,612v4.1M478.54,729.85v-4.1M478.54,612v4.1M492.35,729.85v-4.1M492.35,612v4.1M506.16,729.85v-4.1M506.16,612v4.1M519.97,729.85v-4.1M519.97,612v4.1M533.77,729.85v-4.1M533.77,612v4.1M547.58,729.85v-4.1M547.58,612v4.1M561.39,729.85v-4.1M561.39,612v4.1M575.2,729.85v-4.1M575.2,612v4.1M409.5,729.85h4.1M575.2,729.85h-4.1M409.5,715.12h4.1M575.2,715.12h-4.1M409.5,700.39h4.1M575.2,700.39h-4.1M409.5,685.66h4.1M575.2,685.66h-4.1M409.5,670.93h4.1M575.2,670.93h-4.1M409.5,656.19h4.1M575.2,656.19h-4.1M409.5,641.46h4.1M575.2,641.46h-4.1M409.5,626.73h4.1M575.2,626.73h-4.1M409.5,612h4.1M575.2,612h-4.1" fill="none" stroke="#000" stroke-width="1.1"/>
<path d="M437.12,729.85V612M464.73,729.85V612M492.35,729.85V612M519.97,729.85V612M547.58,729.85V612M409.5,700.39H575.2M409.5,670.93H575.2M409.5,641.46H575.2" fill="none" stroke="#000" stroke-width="1.3" stroke-dasharray="0.9 2.2"/>
<rect x="409.5" y="612" width="165.7" height="117.85" fill="none" stroke="#000" stroke-width="1.4"/>
<g fill="#000" font-size="9.7" font-weight="bold" stroke="#000" stroke-width="0.15">
<g text-anchor="middle"><text x="409.5" y="740.9">0</text><text x="437.12" y="740.9">4</text><text x="464.73" y="740.9">8</text><text x="492.35" y="740.9">12</text><text x="519.97" y="740.9">16</text><text x="547.58" y="740.9">20</text><text x="575.2" y="740.9">24</text></g>
<g text-anchor="end"><text x="405" y="732.45">0</text><text x="405" y="702.99">10</text><text x="405" y="673.53">20</text><text x="405" y="644.06">30</text></g>
<clipPath id="t42"><rect x="379.5" y="741.85" width="225.7" height="13.15"/></clipPath><text x="492.35" y="755.05" font-size="10.2" text-anchor="middle" stroke-width="0.1" clip-path="url(#t42)">Southern</text>
</g>
</g>
<g>
<clipPath id="c44"><rect x="795.5" y="612" width="165.7" height="117.85"/></clipPath>
<path d="M795.5,729.85v-4.1M795.5,612v4.1M816.21,729.85v-4.1M816.21,612v4.1M836.92,729.85v-4.1M836.92,612v4.1M857.64,729.85v-4.1M857.64,612v4.1M878.35,729.85v-4.1M878.35,612v4.1M899.06,729.85v-4.1M899.06,612v4.1M919.77,729.85v-4.1M919.77,612v4.1M940.49,729.85v-4.1M940.49,612v4.1M961.2,729.85v-4.1M961.2,612v4.1M795.5,729.85h4.1M961.2,729.85h-4.1M795.5,715.12h4.1M961.2,715.12h-4.1M795.5,700.39h4.1M961.2,700.39h-4.1M795.5,685.66h4.1M961.2,685.66h-4.1M795.5,670.93h4.1M961.2,670.93h-4.1M795.5,656.19h4.1M961.2,656.19h-4.1M795.5,641.46h4.1M961.2,641.46h-4.1M795.5,626.73h4.1M961.2,626.73h-4.1M795.5,612h4.1M961.2,612h-4.1" fill="none" stroke="#000" stroke-width="1.1"/>
<g clip-path="url(#c44)" fill="none" stroke-width="0.95" stroke-linejoin="round">
<path d="M795.5,697.44L797.23,697.44L798.95,697.44L800.68,703.33L802.4,712.17L804.13,712.17L805.86,715.12L807.58,712.17L809.31,700.39L811.03,691.55L812.76,676.82L814.49,670.93L816.21,667.98L817.94,673.87L819.66,679.76L821.39,679.76L823.12,688.6L824.84,679.76L826.57,685.66L828.29,679.76L830.02,682.71L831.75,691.55L833.47,694.5L835.2,700.39L836.92,697.44L838.65,703.33L840.38,706.28L842.1,715.12L843.83,709.23L845.56,709.23L847.28,715.12L849.01,709.23L850.73,703.33L852.46,691.55L854.19,691.55L855.91,691.55L857.64,694.5L859.36,697.44L861.09,697.44L862.82,688.6L864.54,688.6L866.27,694.5L867.99,688.6L869.72,700.39L871.45,697.44L873.17,700.39L874.9,703.33L876.62,703.33L878.35,706.28L880.08,712.17L881.8,718.07L883.53,715.12L885.25,721.01L886.98,718.07L888.71,715.12L890.43,712.17L892.16,712.17L893.88,706.28L895.61,706.28L897.34,703.33L899.06,703.33L900.79,703.33L902.51,703.33L904.24,700.39L905.97,706.28L907.69,706.28L909.42,706.28L911.14,703.33L912.87,700.39L914.6,697.44L916.32,709.23L918.05,712.17L919.77,709.23L921.5,712.17L923.23,715.12L924.95,721.01L926.68,715.12L928.41,718.07L930.13,721.01L931.86,718.07L933.58,709.23L935.31,697.44L937.04,697.44L938.76,694.5L940.49,688.6L942.21,694.5L943.94,697.44L945.67,688.6L947.39,706.28L949.12,697.44L950.84,694.5L952.57,700.39L954.3,700.39L956.02,685.66L957.75,691.55L959.47,703.33L961.2,706.28" stroke="#ff0000"/>
<path d="M795.5,694.5L797.23,694.5L798.95,691.55L800.68,703.33L802.4,706.28L804.13,703.33L805.86,703.33L807.58,709.23L809.31,706.28L811.03,703.33L812.76,694.5L814.49,685.66L816.21,679.76L817.94,676.82L819.66,679.76L821.39,679.76L823.12,700.39L824.84,700.39L826.57,697.44L828.29,694.5L830.02,691.55L831.75,688.6L833.47,694.5L835.2,697.44L836.92,682.71L838.65,682.71L840.38,667.98L842.1,679.76L843.83,703.33L845.56,709.23L847.28,709.23L849.01,712.17L850.73,706.28L852.46,706.28L854.19,706.28L855.91,703.33L857.64,700.39L859.36,706.28L861.09,697.44L862.82,679.76L864.54,691.55L866.27,700.39L867.99,691.55L869.72,700.39L871.45,700.39L873.17,691.55L874.9,703.33L876.62,703.33L878.35,706.28L880.08,709.23L881.8,703.33L883.53,709.23L885.25,712.17L886.98,700.39L888.71,706.28L890.43,703.33L892.16,709.23L893.88,703.33L895.61,688.6L897.34,706.28L899.06,697.44L900.79,706.28L902.51,712.17L904.24,697.44L905.97,691.55L907.69,709.23L909.42,703.33L911.14,706.28L912.87,706.28L914.6,709.23L916.32,706.28L918.05,706.28L919.77,665.03L921.5,665.03L923.23,679.76L924.95,647.36L926.68,697.44L928.41,694.5L930.13,709.23L931.86,715.12L933.58,697.44L935.31,697.44L937.04,700.39L938.76,691.55L940.49,694.5L942.21,685.66L943.94,691.55L945.67,706.28L947.39,709.23L949.12,706.28L950.84,703.33L952.57,700.39L954.3,697.44L956.02,694.5L957.75,703.33L959.47,703.33L961.2,697.44" stroke="#ff0000"/>
<path d="M795.5,650.3L797.23,656.19L798.95,682.71L800.68,688.6L802.4,700.39L804.13,697.44L805.86,712.17L807.58,679.76L809.31,700.39L811.03,673.87L812.76,673.87L814.49,682.71L816.21,682.71L817.94,673.87L819.66,650.3L821.39,632.62L823.12,653.25L824.84,653.25L826.57,644.41L828.29,641.46L830.02,610.53L831.75,653.25L833.47,679.76L835.2,656.19L836.92,650.3L838.65,647.36L840.38,667.98L842.1,700.39L843.83,697.44L845.56,709.23L847.28,700.39L849.01,715.12L850.73,679.76L852.46,662.09L854.19,676.82L855.91,667.98L857.64,653.25L859.36,659.14L861.09,653.25L862.82,685.66L864.54,667.98L866.27,682.71L867.99,662.09L869.72,635.57L871.45,620.84L873.17,635.57L874.9,620.84L876.62,623.79L878.35,682.71L880.08,723.96L881.8,700.39L883.53,721.01L885.25,700.39L886.98,718.07L888.71,670.93L890.43,665.03L892.16,659.14L893.88,665.03L895.61,679.76L897.34,665.03L899.06,659.14L900.79,644.41L902.51,667.98L904.24,676.82L905.97,679.76L907.69,691.55L909.42,682.71L911.14,650.3L912.87,650.3L914.6,659.14L916.32,641.46L918.05,647.36L919.77,667.98L921.5,691.55L923.23,682.71L924.95,706.28L926.68,715.12L928.41,709.23L930.13,726.9L931.86,694.5L933.58,685.66L935.31,715.12L937.04,673.87L938.76,650.3L940.49,644.41L942.21,659.14L943.94,688.6L945.67,673.87L947.39,673.87L949.12,665.03L950.84,662.09L952.57,644.41L954.3,635.57L956.02,638.52L957.75,647.36L959.47,638.52L961.2,647.36" stroke="#ff0000"/>
<path d="M795.5,697.44L797.23,697.44L798.95,703.33L800.68,679.76L802.4,703.33L804.13,703.33L805.86,700.39L807.58,697.44L809.31,694.5L811.03,694.5L812.76,673.87L814.49,697.44L816.21,694.5L817.94,662.09L819.66,688.6L821.39,662.09L823.12,676.82L824.84,682.71L826.57,665.03L828.29,697.44L830.02,694.5L831.75,700.39L833.47,703.33L835.2,697.44L836.92,700.39L838.65,712.17L840.38,715.12L842.1,706.28L843.83,703.33L845.56,709.23L847.28,706.28L849.01,709.23L850.73,706.28L852.46,703.33L854.19,703.33L855.91,697.44L857.64,697.44L859.36,676.82L861.09,679.76L862.82,676.82L864.54,685.66L866.27,685.66L867.99,685.66L869.72,697.44L871.45,706.28L873.17,706.28L874.9,712.17L878.35,715.12L880.08,709.23L881.8,712.17L885.25,715.12L886.98,709.23L888.71,712.17L890.43,718.07L892.16,712.17L893.88,706.28L895.61,715.12L897.34,709.23L899.06,703.33L900.79,697.44L902.51,679.76L904.24,673.87L905.97,703.33L907.69,697.44L909.42,694.5L911.14,703.33L912.87,700.39L914.6,709.23L916.32,712.17L918.05,703.33L919.77,706.28L921.5,715.12L923.23,721.01L924.95,709.23L926.68,709.23L930.13,718.07L931.86,709.23L933.58,709.23L935.31,703.33L937.04,703.33L938.76,700.39L940.49,697.44L942.21,700.39L943.94,679.76L945.67,685.66L947.39,703.33L949.12,697.44L950.84,703.33L952.57,703.33L954.3,703.33L956.02,697.44L957.75,712.17L961.2,721.01" stroke="#0000ff"/>
<path d="M795.5,706.28L797.23,706.28L798.95,703.33L800.68,712.17L802.4,712.17L804.13,712.17L805.86,709.23L807.58,712.17L809.31,706.28L811.03,706.28L812.76,709.23L814.49,709.23L816.21,703.33L817.94,709.23L819.66,709.23L821.39,700.39L823.12,706.28L824.84,706.28L826.57,709.23L828.29,706.28L830.02,706.28L831.75,706.28L833.47,706.28L835.2,709.23L836.92,709.23L838.65,715.12L840.38,709.23L842.1,715.12L843.83,712.17L845.56,712.17L847.28,712.17L849.01,718.07L850.73,715.12L852.46,715.12L854.19,715.12L855.91,709.23L857.64,706.28L859.36,709.23L861.09,712.17L862.82,712.17L864.54,709.23L866.27,715.12L867.99,715.12L869.72,712.17L871.45,718.07L873.17,712.17L874.9,712.17L876.62,712.17L878.35,712.17L880.08,718.07L881.8,715.12L883.53,718.07L885.25,715.12L886.98,718.07L888.71,709.23L890.43,712.17L892.16,709.23L893.88,709.23L895.61,718.07L899.06,721.01L900.79,718.07L902.51,715.12L904.24,715.12L905.97,712.17L907.69,715.12L909.42,715.12L911.14,715.12L912.87,709.23L914.6,709.23L916.32,712.17L918.05,715.12L919.77,709.23L921.5,712.17L923.23,718.07L924.95,718.07L926.68,718.07L928.41,718.07L930.13,712.17L931.86,715.12L933.58,712.17L935.31,715.12L937.04,709.23L938.76,712.17L940.49,718.07L942.21,715.12L943.94,709.23L945.67,709.23L947.39,715.12L949.12,715.12L950.84,713.65L952.57,712.17L954.3,703.33L956.02,712.17L957.75,709.23L959.47,712.17L961.2,715.12" stroke="#0000ff"/>
<path d="M795.5,715.12L797.23,712.17L798.95,706.28L800.68,706.28L802.4,715.12L804.13,715.12L805.86,712.17L807.58,712.17L809.31,712.17L811.03,712.17L812.76,709.23L814.49,706.28L816.21,718.07L817.94,688.6L819.66,694.5L821.39,712.17L823.12,709.23L824.84,700.39L826.57,715.12L828.29,706.28L830.02,706.28L831.75,709.23L833.47,709.23L835.2,715.12L836.92,712.17L838.65,709.23L840.38,706.28L842.1,706.28L843.83,718.07L845.56,718.07L847.28,723.96L849.01,721.01L850.73,723.96L852.46,703.33L854.19,709.23L855.91,709.23L857.64,709.23L859.36,715.12L861.09,721.01L862.82,712.17L864.54,721.01L866.27,718.07L867.99,715.12L869.72,706.28L871.45,712.17L873.17,723.96L874.9,715.12L876.62,715.12L878.35,718.07L880.08,718.07L881.8,709.23L883.53,721.01L885.25,718.07L886.98,718.07L888.71,718.07L890.43,712.17L892.16,715.12L893.88,715.12L895.61,721.01L897.34,709.23L899.06,718.07L900.79,721.01L902.51,712.17L904.24,715.12L905.97,721.01L907.69,715.12L909.42,715.12L911.14,718.07L912.87,723.96L914.6,723.96L916.32,712.17L918.05,715.12L919.77,718.07L921.5,721.01L923.23,706.28L924.95,715.12L926.68,715.12L928.41,715.12L930.13,715.12L931.86,712.17L933.58,709.23L935.31,715.12L937.04,703.33L938.76,715.12L940.49,723.96L942.21,715.12L943.94,706.28L945.67,715.12L947.39,715.12L949.12,715.12L950.84,721.01L952.57,723.96L954.3,721.01L956.02,723.96L957.75,723.96L959.47,721.01L961.2,726.9" stroke="#0000ff"/>
<path d="M795.5,673.87L797.23,694.5L798.95,688.6L800.68,700.39L802.4,697.44L804.13,685.66L805.86,703.33L807.58,706.28L809.31,697.44L811.03,697.44L812.76,685.66L814.49,682.71L816.21,685.66L817.94,656.19L819.66,665.03L821.39,644.41L823.12,685.66L824.84,694.5L826.57,670.93L828.29,691.55L830.02,694.5L831.75,682.71L833.47,682.71L835.2,691.55L836.92,694.5L838.65,703.33L840.38,712.17L842.1,706.28L843.83,709.23L845.56,697.44L847.28,697.44L849.01,682.71L850.73,691.55L852.46,682.71L854.19,694.5L855.91,685.66L857.64,685.66L859.36,673.87L861.09,688.6L862.82,697.44L864.54,691.55L866.27,694.5L867.99,688.6L869.72,694.5L871.45,697.44L873.17,697.44L874.9,700.39L876.62,694.5L878.35,700.39L880.08,703.33L881.8,712.17L883.53,706.28L885.25,706.28L886.98,709.23L888.71,706.28L890.43,703.33L892.16,706.28L893.88,703.33L895.61,703.33L897.34,685.66L899.06,691.55L900.79,691.55L902.51,700.39L904.24,706.28L905.97,679.76L907.69,697.44L909.42,670.93L911.14,682.71L912.87,706.28L914.6,706.28L916.32,691.55L918.05,700.39L919.77,703.33L921.5,712.17L923.23,721.01L924.95,706.28L926.68,712.17L931.86,712.17L933.58,703.33L935.31,691.55L937.04,688.6L938.76,694.5L940.49,688.6L942.21,706.28L943.94,709.23L945.67,700.39L947.39,682.71L949.12,694.5L950.84,697.44L952.57,697.44L954.3,706.28L956.02,697.44L957.75,712.17L959.47,715.12L961.2,703.33" stroke="#0000ff"/>
<path d="M795.5,688.6L797.23,694.5L798.95,694.5L800.68,715.12L802.4,688.6L804.13,694.5L805.86,703.33L807.58,706.28L809.31,700.39L811.03,703.33L812.76,691.55L814.49,679.76L816.21,679.76L817.94,697.44L819.66,685.66L824.84,670.93L826.57,694.5L828.29,700.39L830.02,700.39L831.75,703.33L833.47,694.5L835.2,697.44L836.92,694.5L838.65,700.39L840.38,700.39L842.1,706.28L843.83,709.23L845.56,715.12L847.28,712.17L849.01,700.39L850.73,700.39L852.46,703.33L854.19,703.33L855.91,694.5L857.64,694.5L859.36,706.28L861.09,706.28L862.82,697.44L864.54,685.66L866.27,682.71L867.99,703.33L869.72,715.12L871.45,703.33L873.17,703.33L874.9,706.28L876.62,706.28L878.35,712.17L880.08,709.23L881.8,718.07L883.53,715.12L885.25,709.23L886.98,715.12L888.71,715.12L890.43,718.07L892.16,706.28L893.88,706.28L895.61,715.12L897.34,709.23L899.06,709.23L900.79,712.17L902.51,706.28L904.24,706.28L905.97,715.12L907.69,715.12L909.42,718.07L911.14,715.12L912.87,712.17L914.6,712.17L916.32,700.39L918.05,709.23L919.77,709.23L921.5,718.07L923.23,718.07L924.95,718.07L926.68,715.12L928.41,718.07L930.13,712.17L931.86,712.17L933.58,703.33L935.31,715.12L937.04,709.23L943.94,709.23L945.67,700.39L947.39,697.44L949.12,703.33L950.84,709.23L952.57,706.28L954.3,709.23L956.02,706.28L957.75,709.23L959.47,706.28L961.2,709.23" stroke="#0000ff"/>
<path d="M795.5,682.71L797.23,691.55L798.95,700.39L800.68,703.33L802.4,697.44L804.13,685.66L805.86,691.55L807.58,703.33L809.31,709.23L811.03,703.33L812.76,691.55L814.49,688.6L816.21,682.71L817.94,673.87L819.66,685.66L821.39,697.44L823.12,703.33L824.84,691.55L826.57,679.76L828.29,676.82L830.02,670.93L831.75,688.6L833.47,700.39L835.2,697.44L836.92,694.5L838.65,694.5L840.38,697.44L842.1,703.33L843.83,709.23L845.56,706.28L847.28,703.33L849.01,691.55L850.73,694.5L852.46,700.39L854.19,688.6L855.91,694.5L857.64,691.55L859.36,682.71L861.09,700.39L862.82,697.44L864.54,682.71L866.27,667.98L867.99,670.93L869.72,685.66L871.45,694.5L873.17,703.33L874.9,712.17L876.62,709.23L878.35,703.33L880.08,709.23L881.8,715.12L883.53,706.28L885.25,688.6L886.98,694.5L888.71,709.23L890.43,700.39L892.16,694.5L893.88,709.23L895.61,723.96L897.34,709.23L899.06,694.5L900.79,691.55L902.51,706.28L904.24,721.01L905.97,715.12L907.69,703.33L909.42,697.44L911.14,703.33L912.87,703.33L914.6,706.28L916.32,700.39L918.05,703.33L919.77,709.23L921.5,715.12L923.23,706.28L924.95,709.23L926.68,721.01L928.41,718.07L930.13,712.17L931.86,703.33L933.58,706.28L935.31,706.28L937.04,697.44L938.76,700.39L940.49,685.66L942.21,673.87L943.94,694.5L945.67,700.39L947.39,697.44L949.12,694.5L950.84,682.71L952.57,688.6L954.3,691.55L956.02,700.39L957.75,697.44L959.47,700.39L961.2,709.23" stroke="#0000ff"/>
<path d="M795.5,691.55L797.23,679.76L798.95,691.55L800.68,694.5L802.4,712.17L804.13,697.44L805.86,703.33L807.58,706.28L809.31,700.39L811.03,694.5L812.76,682.71L814.49,670.93L816.21,665.03L817.94,697.44L819.66,700.39L821.39,703.33L823.12,691.55L824.84,676.82L826.57,697.44L828.29,691.55L830.02,688.6L831.75,697.44L833.47,697.44L835.2,700.39L836.92,694.5L838.65,700.39L840.38,709.23L842.1,709.23L843.83,709.23L845.56,709.23L847.28,694.5L850.73,715.12L852.46,700.39L854.19,703.33L855.91,706.28L857.64,703.33L859.36,700.39L861.09,700.39L862.82,691.55L864.54,697.44L866.27,700.39L867.99,682.71L869.72,682.71L871.45,691.55L873.17,703.33L874.9,700.39L876.62,703.33L880.08,721.01L881.8,691.55L883.53,706.28L890.43,718.07L892.16,718.07L893.88,697.44L895.61,706.28L897.34,697.44L899.06,709.23L900.79,709.23L902.51,706.28L904.24,715.12L905.97,703.33L907.69,703.33L909.42,706.28L911.14,706.28L912.87,694.5L914.6,712.17L916.32,706.28L918.05,700.39L919.77,718.07L921.5,697.44L923.23,688.6L924.95,706.28L926.68,718.07L928.41,718.07L933.58,715.12L935.31,691.55L937.04,703.33L938.76,715.12L940.49,700.39L942.21,697.44L943.94,706.28L945.67,706.28L947.39,697.44L949.12,697.44L950.84,697.44L952.57,700.39L954.3,700.39L956.02,709.23L957.75,712.17L959.47,718.07" stroke="#0000ff"/>
<path d="M795.5,697.44L797.23,676.82L798.95,667.98L800.68,709.23L802.4,682.71L804.13,676.82L805.86,700.39L807.58,662.09L809.31,665.03L811.03,673.87L812.76,685.66L814.49,665.03L816.21,688.6L817.94,694.5L819.66,673.87L821.39,691.55L823.12,706.28L824.84,659.14L826.57,685.66L828.29,700.39L830.02,679.76L831.75,697.44L833.47,679.76L835.2,667.98L836.92,694.5L838.65,697.44L840.38,676.82L842.1,697.44L843.83,688.6L845.56,676.82L847.28,709.23L849.01,700.39L850.73,682.71L852.46,706.28L854.19,718.07L855.91,679.76L857.64,697.44L859.36,697.44L861.09,688.6L862.82,728.38L864.54,715.12L866.27,691.55L867.99,691.55L869.72,676.82L871.45,682.71L873.17,715.12L874.9,691.55L876.62,673.87L878.35,697.44L880.08,697.44L881.8,676.82L883.53,706.28L885.25,688.6L886.98,687.13L888.71,700.39L890.43,684.18L892.16,685.66L893.88,682.71L895.61,700.39L897.34,721.01L899.06,715.12L900.79,697.44L902.51,721.01L904.24,700.39L905.97,688.6L907.69,697.44L909.42,693.02L911.14,688.6L912.87,682.71L914.6,709.23L916.32,712.17L918.05,700.39L919.77,682.71L921.5,712.17L923.23,706.28L924.95,685.66L926.68,712.17L928.41,685.66L930.13,697.44L931.86,712.17L933.58,725.43L935.31,706.28L937.04,725.43L938.76,700.39L940.49,706.28L942.21,682.71L943.94,688.6L945.67,706.28L947.39,700.39L949.12,675.34L950.84,719.54L952.57,723.96L954.3,709.23L956.02,675.34L957.75,685.66L959.47,676.82L961.2,694.5" stroke="#0000ff"/>
<path d="M795.5,676.82L797.23,685.66L798.95,694.5L800.68,688.6L802.4,694.5L804.13,688.6L805.86,685.66L807.58,679.76L809.31,679.76L811.03,682.71L812.76,676.82L814.49,673.87L816.21,670.93L817.94,676.82L819.66,682.71L821.39,676.82L823.12,665.03L824.84,665.03L826.57,682.71L828.29,691.55L830.02,688.6L831.75,673.87L833.47,667.98L835.2,682.71L836.92,691.55L838.65,688.6L840.38,682.71L842.1,691.55L843.83,700.39L845.56,694.5L847.28,685.66L849.01,685.66L850.73,688.6L852.46,676.82L854.19,670.93L855.91,685.66L857.64,703.33L859.36,694.5L861.09,688.6L862.82,691.55L864.54,691.55L866.27,691.55L867.99,691.55L869.72,694.5L871.45,700.39L873.17,688.6L874.9,685.66L876.62,700.39L878.35,700.39L880.08,700.39L881.8,700.39L883.53,703.33L885.25,703.33L886.98,694.5L888.71,697.44L890.43,703.33L892.16,709.23L893.88,703.33L895.61,700.39L897.34,697.44L899.06,706.28L900.79,712.17L902.51,706.28L904.24,694.5L905.97,691.55L907.69,700.39L909.42,697.44L911.14,715.12L912.87,721.01L914.6,706.28L916.32,697.44L918.05,706.28L919.77,712.17L921.5,703.33L923.23,706.28L924.95,709.23L926.68,703.33L928.41,697.44L930.13,691.55L931.86,697.44L933.58,706.28L935.31,706.28L937.04,700.39L938.76,691.55L940.49,691.55L942.21,694.5L943.94,697.44L945.67,700.39L947.39,691.55L949.12,691.55L954.3,718.07L956.02,706.28L957.75,685.66L959.47,691.55L961.2,718.07" stroke="#0000ff"/>
<path d="M795.5,700.39L797.23,697.44L798.95,679.76L800.68,697.44L802.4,694.5L804.13,691.55L805.86,697.44L807.58,700.39L809.31,700.39L811.03,685.66L812.76,670.93L814.49,638.52L816.21,647.36L817.94,662.09L819.66,679.76L821.39,653.25L823.12,641.46L824.84,667.98L826.57,653.25L828.29,679.76L830.02,665.03L831.75,694.5L833.47,676.82L835.2,682.71L836.92,703.33L838.65,703.33L840.38,694.5L842.1,697.44L843.83,703.33L845.56,703.33L847.28,706.28L849.01,712.17L850.73,706.28L852.46,679.76L854.19,688.6L855.91,679.76L857.64,679.76L859.36,688.6L861.09,688.6L862.82,659.14L864.54,659.14L866.27,650.3L867.99,656.19L869.72,673.87L871.45,682.71L873.17,685.66L874.9,700.39L876.62,703.33L878.35,697.44L880.08,706.28L881.8,715.12L883.53,718.07L885.25,721.01L886.98,723.96L888.71,726.9L890.43,715.12L892.16,715.12L893.88,709.23L895.61,706.28L897.34,685.66L899.06,700.39L900.79,694.5L902.51,700.39L904.24,706.28L905.97,694.5L907.69,685.66L909.42,697.44L911.14,709.23L912.87,718.07L914.6,682.71L916.32,706.28L918.05,709.23L919.77,706.28L921.5,703.33L923.23,715.12L924.95,723.96L926.68,721.01L928.41,712.17L930.13,703.33L931.86,712.17L933.58,709.23L935.31,694.5L937.04,700.39L938.76,679.76L940.49,673.87L942.21,662.09L943.94,653.25L945.67,665.03L947.39,685.66L949.12,688.6L950.84,673.87L952.57,685.66L954.3,679.76L956.02,682.71L957.75,694.5L959.47,697.44L961.2,706.28" stroke="#0000ff"/>
<path d="M795.5,697.44L797.23,691.55L798.95,688.6L800.68,691.55L802.4,703.33L804.13,709.23L805.86,700.39L807.58,697.44L809.31,700.39L811.03,703.33L812.76,700.39L814.49,685.66L816.21,682.71L817.94,685.66L819.66,688.6L821.39,691.55L823.12,694.5L824.84,685.66L826.57,673.87L828.29,667.98L830.02,682.71L831.75,691.55L833.47,700.39L835.2,706.28L836.92,703.33L838.65,694.5L840.38,682.71L842.1,688.6L843.83,709.23L845.56,709.23L847.28,697.44L849.01,691.55L850.73,697.44L852.46,703.33L854.19,700.39L855.91,697.44L857.64,697.44L859.36,694.5L861.09,688.6L862.82,682.71L864.54,688.6L866.27,691.55L867.99,679.76L869.72,679.76L871.45,697.44L873.17,700.39L874.9,706.28L876.62,709.23L878.35,706.28L880.08,703.33L881.8,703.33L883.53,700.39L885.25,703.33L886.98,709.23L888.71,703.33L890.43,700.39L892.16,703.33L893.88,706.28L895.61,697.44L897.34,700.39L899.06,703.33L900.79,706.28L902.51,703.33L904.24,697.44L905.97,703.33L907.69,706.28L909.42,712.17L911.14,721.01L912.87,712.17L914.6,706.28L916.32,715.12L918.05,712.17L919.77,706.28L921.5,700.39L923.23,703.33L924.95,712.17L926.68,715.12L928.41,718.07L930.13,706.28L931.86,697.44L933.58,700.39L935.31,703.33L937.04,712.17L938.76,715.12L940.49,703.33L942.21,679.76L943.94,673.87L945.67,688.6L947.39,697.44L949.12,694.5L950.84,694.5L952.57,700.39L954.3,703.33L956.02,712.17L957.75,709.23L959.47,700.39L961.2,709.23" stroke="#0000ff"/>
<path d="M795.5,715.12L797.23,712.17L798.95,709.23L800.68,706.28L802.4,703.33L804.13,712.17L805.86,715.12L807.58,703.33L809.31,700.39L811.03,700.39L812.76,703.33L814.49,703.33L816.21,700.39L817.94,700.39L819.66,697.44L821.39,697.44L823.12,703.33L824.84,700.39L826.57,700.39L828.29,703.33L830.02,703.33L831.75,706.28L833.47,721.01L835.2,718.07L836.92,700.39L838.65,703.33L840.38,726.9L842.1,700.39L843.83,691.55L845.56,712.17L847.28,706.28L849.01,697.44L850.73,712.17L852.46,712.17L854.19,712.17L855.91,712.17L857.64,703.33L859.36,697.44L861.09,700.39L862.82,703.33L864.54,694.5L866.27,697.44L867.99,703.33L869.72,697.44L871.45,703.33L873.17,706.28L874.9,709.23L876.62,715.12L878.35,703.33L880.08,694.5L881.8,700.39L883.53,715.12L885.25,697.44L886.98,709.23L888.71,721.01L890.43,718.07L892.16,723.96L893.88,712.17L895.61,697.44L897.34,706.28L899.06,709.23L900.79,709.23L902.51,706.28L904.24,703.33L905.97,709.23L907.69,715.12L909.42,718.07L911.14,718.07L912.87,715.12L914.6,706.28L916.32,709.23L918.05,726.9L919.77,709.23L921.5,697.44L923.23,729.85L924.95,728.38L926.68,709.23L928.41,718.07L930.13,709.23L931.86,709.23L933.58,700.39L935.31,691.55L937.04,694.5L938.76,693.02L940.49,694.5L942.21,690.08L943.94,690.08" stroke="#0000ff"/>
<path d="M795.5,694.5L797.23,694.5L798.95,700.39L800.68,706.28L802.4,709.23L804.13,700.39L805.86,706.28L807.58,709.23L809.31,712.17L811.03,697.44L812.76,697.44L814.49,697.44L816.21,688.6L817.94,682.71L819.66,694.5L821.39,697.44L823.12,697.44L824.84,700.39L826.57,703.33L828.29,700.39L830.02,697.44L831.75,700.39L833.47,709.23L835.2,709.23L836.92,703.33L838.65,706.28L840.38,703.33L842.1,718.07L843.83,718.07L845.56,718.07L847.28,718.07L849.01,712.17L850.73,706.28L852.46,712.17L854.19,712.17L855.91,712.17L857.64,706.28L859.36,709.23L861.09,706.28L862.82,706.28L864.54,700.39L866.27,706.28L867.99,712.17L869.72,706.28L871.45,715.12L873.17,715.12L874.9,712.17L876.62,718.07L878.35,718.07L880.08,721.01L881.8,718.07L883.53,721.01L885.25,718.07L886.98,709.23L888.71,700.39L890.43,709.23L892.16,706.28L893.88,715.12L895.61,715.12L897.34,718.07L899.06,721.01L900.79,715.12L902.51,715.12L904.24,712.17L905.97,712.17L907.69,712.17L909.42,712.17L911.14,718.07L912.87,709.23L914.6,712.17L916.32,715.12L918.05,718.07L919.77,721.01L921.5,715.12L923.23,715.12L924.95,721.01L926.68,721.01L928.41,712.17L930.13,718.07L931.86,726.9L933.58,706.28L935.31,700.39L937.04,709.23L938.76,703.33L940.49,703.33L942.21,709.23L943.94,715.12L945.67,691.55L947.39,697.44L949.12,709.23L950.84,712.17L952.57,712.17L954.3,715.12L956.02,721.01L957.75,718.07L959.47,721.01L961.2,718.07" stroke="#0000ff"/>
<path d="M795.5,691.55L797.23,694.5L798.95,694.5L800.68,700.39L802.4,703.33L804.13,703.33L805.86,700.39L807.58,700.39L809.31,706.28L811.03,694.5L812.76,676.82L814.49,679.76L816.21,691.55L817.94,700.39L819.66,700.39L821.39,700.39L823.12,700.39L824.84,688.6L826.57,694.5L828.29,697.44L830.02,706.28L831.75,712.17L833.47,697.44L835.2,697.44L836.92,700.39L838.65,697.44L840.38,700.39L842.1,703.33L843.83,703.33L845.56,700.39L847.28,697.44L849.01,700.39L850.73,706.28L852.46,706.28L854.19,700.39L855.91,700.39L857.64,703.33L859.36,706.28L861.09,718.07L862.82,715.12L864.54,709.23L866.27,712.17L867.99,709.23L869.72,706.28L871.45,712.17L873.17,712.17L874.9,709.23L876.62,706.28L878.35,709.23L880.08,718.07L881.8,718.07L883.53,709.23L885.25,703.33L886.98,700.39L888.71,700.39L890.43,703.33L892.16,706.28L893.88,709.23L895.61,712.17L897.34,712.17L899.06,709.23L900.79,703.33L902.51,706.28L904.24,712.17L905.97,715.12L907.69,715.12L909.42,712.17L911.14,709.23L912.87,721.01L914.6,723.96L916.32,715.12L918.05,700.39L919.77,694.5L921.5,703.33L923.23,718.07L924.95,721.01L926.68,709.23L928.41,697.44L930.13,697.44L931.86,715.12L933.58,715.12L935.31,706.28L937.04,706.28L938.76,700.39L940.49,694.5L942.21,694.5L943.94,703.33L945.67,712.17L947.39,715.12L949.12,718.07L950.84,715.12L952.57,721.01L954.3,721.01L956.02,723.96L957.75,709.23L959.47,709.23L961.2,718.07" stroke="#0000ff"/>
<path d="M795.5,700.39L797.23,694.5L798.95,694.5L800.68,703.33L802.4,703.33L804.13,703.33L805.86,703.33L807.58,706.28L809.31,703.33L811.03,697.44L812.76,703.33L814.49,703.33L816.21,694.5L817.94,694.5L819.66,697.44L821.39,700.39L823.12,694.5L824.84,694.5L826.57,694.5L828.29,691.55L830.02,700.39L831.75,703.33L833.47,703.33L835.2,703.33L836.92,706.28L838.65,709.23L840.38,709.23L842.1,706.28L843.83,703.33L845.56,709.23L847.28,712.17L849.01,712.17L850.73,706.28L852.46,706.28L854.19,706.28L855.91,703.33L857.64,706.28L859.36,709.23L861.09,709.23L862.82,709.23L864.54,706.28L866.27,706.28L867.99,706.28L869.72,712.17L871.45,703.33L873.17,706.28L874.9,709.23L876.62,703.33L878.35,712.17L880.08,706.28L881.8,712.17L883.53,718.07L885.25,715.12L886.98,712.17L888.71,715.12L890.43,712.17L892.16,703.33L893.88,709.23L895.61,709.23L897.34,709.23L899.06,709.23L900.79,712.17L902.51,712.17L904.24,715.12L905.97,715.12L907.69,709.23L909.42,706.28L911.14,706.28L912.87,709.23L914.6,712.17L916.32,703.33L918.05,715.12L919.77,712.17L921.5,712.17L923.23,709.23L924.95,715.12L926.68,718.07L928.41,718.07L930.13,715.12L931.86,715.12L933.58,715.12L935.31,709.23L937.04,703.33L938.76,706.28L940.49,706.28L942.21,700.39L943.94,682.71L945.67,709.23L947.39,712.17L949.12,706.28L950.84,715.12L952.57,709.23L954.3,709.23L956.02,718.07L957.75,715.12L959.47,715.12L961.2,715.12" stroke="#0000ff"/>
<path d="M795.5,723.96L797.23,721.01L798.95,726.9L800.68,709.23L802.4,723.96L804.13,718.07L805.86,721.01L807.58,709.23L809.31,721.01L811.03,700.39L812.76,700.39L814.49,700.39L816.21,712.17L817.94,715.12L819.66,712.17L821.39,706.28L823.12,721.01L824.84,726.9L826.57,715.12L828.29,709.23L830.02,729.85L831.75,726.9L833.47,700.39L835.2,729.85L836.92,718.07L838.65,721.01L840.38,712.17L842.1,721.01L843.83,729.85L845.56,721.01L847.28,706.28L849.01,721.01L850.73,703.33L852.46,709.23L854.19,721.01L855.91,723.96L857.64,729.85L859.36,715.12L861.09,709.23L862.82,700.39L864.54,709.23L866.27,723.96L867.99,703.33L869.72,723.96L871.45,700.39L873.17,709.23L874.9,715.12L876.62,723.96L878.35,729.85L880.08,712.17L881.8,726.9L883.53,729.85L885.25,721.01L886.98,718.07L888.71,726.9L890.43,729.85L892.16,709.23L893.88,709.23L895.61,726.9L897.34,721.01L899.06,709.23L900.79,709.23L902.51,715.12L904.24,712.17L905.97,709.23L907.69,726.9L909.42,712.17L911.14,691.55L912.87,723.96L914.6,721.01L916.32,715.12L918.05,721.01L919.77,729.85L921.5,718.07L923.23,721.01L924.95,726.9L926.68,715.12L928.41,723.96L930.13,718.07L931.86,697.44L933.58,709.23L935.31,721.01L937.04,697.44L938.76,706.28L940.49,721.01L942.21,726.9L943.94,703.33L945.67,718.07L947.39,703.33L949.12,712.17L950.84,721.01L952.57,712.17L954.3,721.01L956.02,723.96L957.75,721.01L959.47,723.96L961.2,700.39" stroke="#0000ff"/>
</g>
<path d="M836.92,729.85V612M878.35,729.85V612M919.77,729.85V612M795.5,700.39H961.2M795.5,670.93H961.2M795.5,641.46H961.2" fill="none" stroke="#000" stroke-width="1.3" stroke-dasharray="0.9 2.2"/>
<rect x="795.5" y="612" width="165.7" height="117.85" fill="none" stroke="#000" stroke-width="1.4"/>
<g fill="#000" font-size="9.7" font-weight="bold" stroke="#000" stroke-width="0.15">
<g text-anchor="middle"><path d="M787.65,738h6.7" stroke="#000" stroke-width="1"/><text x="794.9" y="740.9" text-anchor="start">72</text><path d="M829.07,738h6.7" stroke="#000" stroke-width="1"/><text x="836.32" y="740.9" text-anchor="start">48</text><path d="M870.5,738h6.7" stroke="#000" stroke-width="1"/><text x="877.75" y="740.9" text-anchor="start">24</text><text x="919.77" y="740.9">0</text><text x="961.2" y="740.9">24</text></g>
<g text-anchor="end"><text x="791" y="732.45">0</text><text x="791" y="702.99">10</text><text x="791" y="673.53">20</text><text x="791" y="644.06">30</text></g>
<clipPath id="t44"><rect x="765.5" y="741.85" width="225.7" height="13.15"/></clipPath><text x="878.35" y="755.05" font-size="10.2" text-anchor="middle" textLength="15" lengthAdjust="spacingAndGlyphs" stroke-width="0.45" clip-path="url(#t44)">ALL</text>
</g>
</g>
</svg>
</body></html>
